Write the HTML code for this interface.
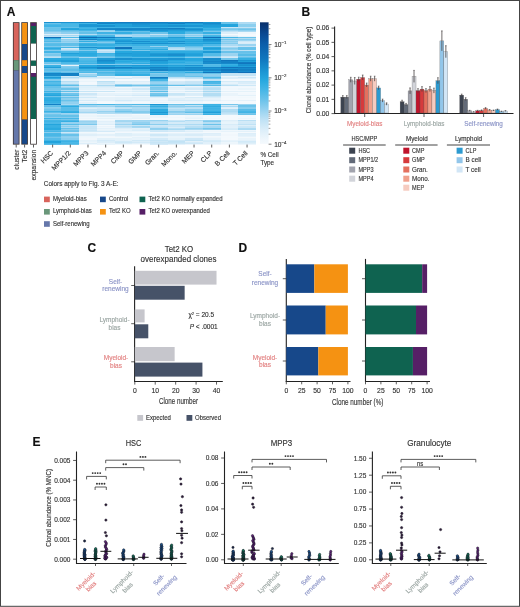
<!DOCTYPE html>
<html><head><meta charset="utf-8"><style>
html,body{margin:0;padding:0;background:#fff;}
body{width:520px;height:607px;overflow:hidden;}
svg{display:block;font-family:"Liberation Sans", sans-serif;will-change:transform;}
text{stroke-width:0.14px;}
</style></head><body>
<svg width="520" height="607" viewBox="0 0 520 607">
<rect x="0" y="0" width="520" height="607" fill="#fff"/>
<text x="6.8" y="16.2" font-size="12.0" text-anchor="start" fill="#111" font-weight="bold" stroke="#111" stroke-width="0.4">A</text>
<rect x="12.90" y="22.20" width="6.60" height="122.40" fill="#3b3333" />
<rect x="13.70" y="23.00" width="5.00" height="37.20" fill="#d8645c" />
<rect x="13.70" y="60.20" width="5.00" height="10.20" fill="#6a977a" />
<rect x="13.70" y="70.40" width="5.00" height="73.40" fill="#6577aa" />
<rect x="21.30" y="22.20" width="6.60" height="122.40" fill="#3b3333" />
<rect x="22.10" y="23.00" width="5.00" height="21.10" fill="#f59212" />
<rect x="22.10" y="44.10" width="5.00" height="16.10" fill="#17488a" />
<rect x="22.10" y="60.20" width="5.00" height="5.90" fill="#f59212" />
<rect x="22.10" y="66.10" width="5.00" height="6.90" fill="#17488a" />
<rect x="22.10" y="73.00" width="5.00" height="46.60" fill="#f59212" />
<rect x="22.10" y="119.60" width="5.00" height="24.20" fill="#17488a" />
<rect x="30.20" y="22.20" width="6.60" height="122.40" fill="#3b3333" />
<rect x="31.00" y="23.00" width="5.00" height="3.00" fill="#561f66" />
<rect x="31.00" y="26.00" width="5.00" height="17.60" fill="#0f6350" />
<rect x="31.00" y="43.60" width="5.00" height="17.10" fill="#ffffff" />
<rect x="31.00" y="60.70" width="5.00" height="5.20" fill="#0f6350" />
<rect x="31.00" y="65.90" width="5.00" height="7.10" fill="#ffffff" />
<rect x="31.00" y="73.00" width="5.00" height="3.80" fill="#561f66" />
<rect x="31.00" y="76.80" width="5.00" height="42.20" fill="#0f6350" />
<rect x="31.00" y="119.00" width="5.00" height="24.80" fill="#ffffff" />
<line x1="16.20" y1="144.60" x2="16.20" y2="147.50" stroke="#333333" stroke-width="0.8" />
<text transform="translate(18.6,149.6) rotate(-90)" font-size="6.8" text-anchor="end" fill="#333" stroke="#333">cluster</text>
<line x1="24.60" y1="144.60" x2="24.60" y2="147.50" stroke="#333333" stroke-width="0.8" />
<text transform="translate(27.0,149.6) rotate(-90)" font-size="6.8" text-anchor="end" fill="#333" stroke="#333">Tet2</text>
<line x1="33.50" y1="144.60" x2="33.50" y2="147.50" stroke="#333333" stroke-width="0.8" />
<text transform="translate(35.9,149.6) rotate(-90)" font-size="6.8" text-anchor="end" fill="#333" stroke="#333">expansion</text>
<g shape-rendering="crispEdges">
<rect x="43.80" y="22.30" width="17.73" height="1.05" fill="#1990cf" />
<rect x="61.47" y="22.30" width="17.73" height="1.05" fill="#1a93d1" />
<rect x="79.15" y="22.30" width="17.73" height="1.05" fill="#1586c8" />
<rect x="96.83" y="22.30" width="17.73" height="1.05" fill="#1689ca" />
<rect x="114.50" y="22.30" width="17.73" height="1.05" fill="#127cc2" />
<rect x="132.18" y="22.30" width="17.73" height="1.05" fill="#127cc2" />
<rect x="149.85" y="22.30" width="17.73" height="1.05" fill="#1482c6" />
<rect x="167.53" y="22.30" width="17.73" height="1.05" fill="#178bcc" />
<rect x="185.20" y="22.30" width="17.73" height="1.05" fill="#137ec3" />
<rect x="202.88" y="22.30" width="17.73" height="1.05" fill="#1a94d2" />
<rect x="220.55" y="22.30" width="17.73" height="1.05" fill="#68c2ea" />
<rect x="238.23" y="22.30" width="17.73" height="1.05" fill="#aedbf3" />
<rect x="43.80" y="23.30" width="17.73" height="1.05" fill="#6ac2ea" />
<rect x="61.47" y="23.30" width="17.73" height="1.05" fill="#45b5e6" />
<rect x="79.15" y="23.30" width="17.73" height="1.05" fill="#41b4e5" />
<rect x="96.83" y="23.30" width="17.73" height="1.05" fill="#1584c7" />
<rect x="114.50" y="23.30" width="17.73" height="1.05" fill="#1991d0" />
<rect x="132.18" y="23.30" width="17.73" height="1.05" fill="#178ccc" />
<rect x="149.85" y="23.30" width="17.73" height="1.05" fill="#188fce" />
<rect x="167.53" y="23.30" width="17.73" height="1.05" fill="#1380c5" />
<rect x="185.20" y="23.30" width="17.73" height="1.05" fill="#1d99d5" />
<rect x="202.88" y="23.30" width="17.73" height="1.05" fill="#178bcc" />
<rect x="220.55" y="23.30" width="17.73" height="1.05" fill="#6bc3ea" />
<rect x="238.23" y="23.30" width="17.73" height="1.05" fill="#b0dcf3" />
<rect x="43.80" y="24.30" width="17.73" height="1.05" fill="#4bb8e7" />
<rect x="61.47" y="24.30" width="17.73" height="1.05" fill="#48b7e6" />
<rect x="79.15" y="24.30" width="17.73" height="1.05" fill="#1d99d5" />
<rect x="96.83" y="24.30" width="17.73" height="1.05" fill="#27a8df" />
<rect x="114.50" y="24.30" width="17.73" height="1.05" fill="#22a2db" />
<rect x="132.18" y="24.30" width="17.73" height="1.05" fill="#1a94d2" />
<rect x="149.85" y="24.30" width="17.73" height="1.05" fill="#219fd9" />
<rect x="167.53" y="24.30" width="17.73" height="1.05" fill="#22a2db" />
<rect x="185.20" y="24.30" width="17.73" height="1.05" fill="#25a6de" />
<rect x="202.88" y="24.30" width="17.73" height="1.05" fill="#1b96d3" />
<rect x="220.55" y="24.30" width="17.73" height="1.05" fill="#24a5dd" />
<rect x="238.23" y="24.30" width="17.73" height="1.05" fill="#8ccfef" />
<rect x="43.80" y="25.30" width="17.73" height="1.55" fill="#3fb3e5" />
<rect x="61.47" y="25.30" width="17.73" height="1.55" fill="#48b7e6" />
<rect x="79.15" y="25.30" width="17.73" height="1.55" fill="#1c97d4" />
<rect x="96.83" y="25.30" width="17.73" height="1.55" fill="#1992d1" />
<rect x="114.50" y="25.30" width="17.73" height="1.55" fill="#219fd9" />
<rect x="132.18" y="25.30" width="17.73" height="1.55" fill="#1c98d5" />
<rect x="149.85" y="25.30" width="17.73" height="1.55" fill="#1c98d4" />
<rect x="167.53" y="25.30" width="17.73" height="1.55" fill="#1a93d1" />
<rect x="185.20" y="25.30" width="17.73" height="1.55" fill="#1b96d4" />
<rect x="202.88" y="25.30" width="17.73" height="1.55" fill="#209dd8" />
<rect x="220.55" y="25.30" width="17.73" height="1.55" fill="#24a4dd" />
<rect x="238.23" y="25.30" width="17.73" height="1.55" fill="#8ccfef" />
<rect x="43.80" y="26.80" width="17.73" height="1.05" fill="#6ec4ea" />
<rect x="61.47" y="26.80" width="17.73" height="1.05" fill="#63c0e9" />
<rect x="79.15" y="26.80" width="17.73" height="1.05" fill="#3bb1e4" />
<rect x="96.83" y="26.80" width="17.73" height="1.05" fill="#40b3e5" />
<rect x="114.50" y="26.80" width="17.73" height="1.05" fill="#3ab1e3" />
<rect x="132.18" y="26.80" width="17.73" height="1.05" fill="#3fb3e5" />
<rect x="149.85" y="26.80" width="17.73" height="1.05" fill="#2face1" />
<rect x="167.53" y="26.80" width="17.73" height="1.05" fill="#3cb1e4" />
<rect x="185.20" y="26.80" width="17.73" height="1.05" fill="#42b4e5" />
<rect x="202.88" y="26.80" width="17.73" height="1.05" fill="#25a7de" />
<rect x="220.55" y="26.80" width="17.73" height="1.05" fill="#cce7f7" />
<rect x="238.23" y="26.80" width="17.73" height="1.05" fill="#c3e3f5" />
<rect x="43.80" y="27.80" width="17.73" height="1.05" fill="#68c2ea" />
<rect x="61.47" y="27.80" width="17.73" height="1.05" fill="#25a6de" />
<rect x="79.15" y="27.80" width="17.73" height="1.05" fill="#42b4e5" />
<rect x="96.83" y="27.80" width="17.73" height="1.05" fill="#1689ca" />
<rect x="114.50" y="27.80" width="17.73" height="1.05" fill="#1687c9" />
<rect x="132.18" y="27.80" width="17.73" height="1.05" fill="#1586c9" />
<rect x="149.85" y="27.80" width="17.73" height="1.05" fill="#1483c6" />
<rect x="167.53" y="27.80" width="17.73" height="1.05" fill="#127dc3" />
<rect x="185.20" y="27.80" width="17.73" height="1.05" fill="#1f9cd7" />
<rect x="202.88" y="27.80" width="17.73" height="1.05" fill="#3db2e4" />
<rect x="220.55" y="27.80" width="17.73" height="1.05" fill="#87cdee" />
<rect x="238.23" y="27.80" width="17.73" height="1.05" fill="#84cbed" />
<rect x="43.80" y="28.80" width="17.73" height="1.55" fill="#6bc3ea" />
<rect x="61.47" y="28.80" width="17.73" height="1.55" fill="#24a4dc" />
<rect x="79.15" y="28.80" width="17.73" height="1.55" fill="#2dabe0" />
<rect x="96.83" y="28.80" width="17.73" height="1.55" fill="#1586c9" />
<rect x="114.50" y="28.80" width="17.73" height="1.55" fill="#1481c5" />
<rect x="132.18" y="28.80" width="17.73" height="1.55" fill="#1584c8" />
<rect x="149.85" y="28.80" width="17.73" height="1.55" fill="#1991d0" />
<rect x="167.53" y="28.80" width="17.73" height="1.55" fill="#1990cf" />
<rect x="185.20" y="28.80" width="17.73" height="1.55" fill="#188fcf" />
<rect x="202.88" y="28.80" width="17.73" height="1.55" fill="#32ade2" />
<rect x="220.55" y="28.80" width="17.73" height="1.55" fill="#7cc9ec" />
<rect x="238.23" y="28.80" width="17.73" height="1.55" fill="#6fc4ea" />
<rect x="43.80" y="30.30" width="17.73" height="1.05" fill="#66c1e9" />
<rect x="61.47" y="30.30" width="17.73" height="1.05" fill="#5ebee8" />
<rect x="79.15" y="30.30" width="17.73" height="1.05" fill="#46b6e6" />
<rect x="96.83" y="30.30" width="17.73" height="1.05" fill="#8aceee" />
<rect x="114.50" y="30.30" width="17.73" height="1.05" fill="#1e9ad6" />
<rect x="132.18" y="30.30" width="17.73" height="1.05" fill="#1e9bd6" />
<rect x="149.85" y="30.30" width="17.73" height="1.05" fill="#1a94d2" />
<rect x="167.53" y="30.30" width="17.73" height="1.05" fill="#219fd9" />
<rect x="185.20" y="30.30" width="17.73" height="1.05" fill="#209ed8" />
<rect x="202.88" y="30.30" width="17.73" height="1.05" fill="#4cb8e7" />
<rect x="220.55" y="30.30" width="17.73" height="1.05" fill="#9cd4f1" />
<rect x="238.23" y="30.30" width="17.73" height="1.05" fill="#8fcfef" />
<rect x="43.80" y="31.30" width="17.73" height="1.05" fill="#7fcaed" />
<rect x="61.47" y="31.30" width="17.73" height="1.05" fill="#76c7eb" />
<rect x="79.15" y="31.30" width="17.73" height="1.05" fill="#73c6eb" />
<rect x="96.83" y="31.30" width="17.73" height="1.05" fill="#a2d7f1" />
<rect x="114.50" y="31.30" width="17.73" height="1.05" fill="#64c0e9" />
<rect x="132.18" y="31.30" width="17.73" height="1.05" fill="#65c0e9" />
<rect x="149.85" y="31.30" width="17.73" height="1.05" fill="#24a4dc" />
<rect x="167.53" y="31.30" width="17.73" height="1.05" fill="#28a9df" />
<rect x="185.20" y="31.30" width="17.73" height="1.05" fill="#40b3e5" />
<rect x="202.88" y="31.30" width="17.73" height="1.05" fill="#7ac8ec" />
<rect x="220.55" y="31.30" width="17.73" height="1.05" fill="#c0e2f5" />
<rect x="238.23" y="31.30" width="17.73" height="1.05" fill="#abdaf2" />
<rect x="43.80" y="32.30" width="17.73" height="1.55" fill="#a2d6f1" />
<rect x="61.47" y="32.30" width="17.73" height="1.55" fill="#8ecfef" />
<rect x="79.15" y="32.30" width="17.73" height="1.55" fill="#65c1e9" />
<rect x="96.83" y="32.30" width="17.73" height="1.55" fill="#40b3e5" />
<rect x="114.50" y="32.30" width="17.73" height="1.55" fill="#35aee2" />
<rect x="132.18" y="32.30" width="17.73" height="1.55" fill="#53bae7" />
<rect x="149.85" y="32.30" width="17.73" height="1.55" fill="#6fc4ea" />
<rect x="167.53" y="32.30" width="17.73" height="1.55" fill="#2dabe0" />
<rect x="185.20" y="32.30" width="17.73" height="1.55" fill="#58bce8" />
<rect x="202.88" y="32.30" width="17.73" height="1.55" fill="#38b0e3" />
<rect x="220.55" y="32.30" width="17.73" height="1.55" fill="#dceef9" />
<rect x="238.23" y="32.30" width="17.73" height="1.55" fill="#eef6fc" />
<rect x="43.80" y="33.80" width="17.73" height="1.05" fill="#dceef9" />
<rect x="61.47" y="33.80" width="17.73" height="1.05" fill="#d8ecf8" />
<rect x="79.15" y="33.80" width="17.73" height="1.05" fill="#b1dcf3" />
<rect x="96.83" y="33.80" width="17.73" height="1.05" fill="#7ec9ed" />
<rect x="114.50" y="33.80" width="17.73" height="1.05" fill="#8ecfef" />
<rect x="132.18" y="33.80" width="17.73" height="1.05" fill="#a1d6f1" />
<rect x="149.85" y="33.80" width="17.73" height="1.05" fill="#c2e3f5" />
<rect x="167.53" y="33.80" width="17.73" height="1.05" fill="#89cdee" />
<rect x="185.20" y="33.80" width="17.73" height="1.05" fill="#a8d9f2" />
<rect x="202.88" y="33.80" width="17.73" height="1.05" fill="#8aceee" />
<rect x="220.55" y="33.80" width="17.73" height="1.05" fill="#f4f9fd" />
<rect x="238.23" y="33.80" width="17.73" height="1.05" fill="#f4f9fd" />
<rect x="43.80" y="34.80" width="17.73" height="1.55" fill="#aedbf3" />
<rect x="61.47" y="34.80" width="17.73" height="1.55" fill="#a5d8f2" />
<rect x="79.15" y="34.80" width="17.73" height="1.55" fill="#5bbde8" />
<rect x="96.83" y="34.80" width="17.73" height="1.55" fill="#4eb9e7" />
<rect x="114.50" y="34.80" width="17.73" height="1.55" fill="#b5def4" />
<rect x="132.18" y="34.80" width="17.73" height="1.55" fill="#9cd4f1" />
<rect x="149.85" y="34.80" width="17.73" height="1.55" fill="#85ccee" />
<rect x="167.53" y="34.80" width="17.73" height="1.55" fill="#69c2ea" />
<rect x="185.20" y="34.80" width="17.73" height="1.55" fill="#89cdee" />
<rect x="202.88" y="34.80" width="17.73" height="1.55" fill="#48b7e6" />
<rect x="220.55" y="34.80" width="17.73" height="1.55" fill="#e2f1fa" />
<rect x="238.23" y="34.80" width="17.73" height="1.55" fill="#f4f9fd" />
<rect x="43.80" y="36.30" width="17.73" height="1.05" fill="#bce0f4" />
<rect x="61.47" y="36.30" width="17.73" height="1.05" fill="#c9e6f6" />
<rect x="79.15" y="36.30" width="17.73" height="1.05" fill="#24a5dd" />
<rect x="96.83" y="36.30" width="17.73" height="1.05" fill="#44b5e6" />
<rect x="114.50" y="36.30" width="17.73" height="1.05" fill="#a6d8f2" />
<rect x="132.18" y="36.30" width="17.73" height="1.05" fill="#a6d8f2" />
<rect x="149.85" y="36.30" width="17.73" height="1.05" fill="#8fd0ef" />
<rect x="167.53" y="36.30" width="17.73" height="1.05" fill="#69c2ea" />
<rect x="185.20" y="36.30" width="17.73" height="1.05" fill="#a2d7f1" />
<rect x="202.88" y="36.30" width="17.73" height="1.05" fill="#3db2e4" />
<rect x="220.55" y="36.30" width="17.73" height="1.05" fill="#d6ebf8" />
<rect x="238.23" y="36.30" width="17.73" height="1.05" fill="#eaf4fb" />
<rect x="43.80" y="37.30" width="17.73" height="1.05" fill="#0f6eb7" />
<rect x="61.47" y="37.30" width="17.73" height="1.05" fill="#4fb9e7" />
<rect x="79.15" y="37.30" width="17.73" height="1.05" fill="#0e6cb5" />
<rect x="96.83" y="37.30" width="17.73" height="1.05" fill="#117ac0" />
<rect x="114.50" y="37.30" width="17.73" height="1.05" fill="#1990cf" />
<rect x="132.18" y="37.30" width="17.73" height="1.05" fill="#4ab7e6" />
<rect x="149.85" y="37.30" width="17.73" height="1.05" fill="#3fb3e4" />
<rect x="167.53" y="37.30" width="17.73" height="1.05" fill="#209ed8" />
<rect x="185.20" y="37.30" width="17.73" height="1.05" fill="#38b0e3" />
<rect x="202.88" y="37.30" width="17.73" height="1.05" fill="#0f70b9" />
<rect x="220.55" y="37.30" width="17.73" height="1.05" fill="#47b6e6" />
<rect x="238.23" y="37.30" width="17.73" height="1.05" fill="#6bc3ea" />
<rect x="43.80" y="38.30" width="17.73" height="1.05" fill="#32ade2" />
<rect x="61.47" y="38.30" width="17.73" height="1.05" fill="#d5ebf8" />
<rect x="79.15" y="38.30" width="17.73" height="1.05" fill="#24a5dd" />
<rect x="96.83" y="38.30" width="17.73" height="1.05" fill="#2face1" />
<rect x="114.50" y="38.30" width="17.73" height="1.05" fill="#42b4e5" />
<rect x="132.18" y="38.30" width="17.73" height="1.05" fill="#38b0e3" />
<rect x="149.85" y="38.30" width="17.73" height="1.05" fill="#35afe2" />
<rect x="167.53" y="38.30" width="17.73" height="1.05" fill="#33aee2" />
<rect x="185.20" y="38.30" width="17.73" height="1.05" fill="#5ebee8" />
<rect x="202.88" y="38.30" width="17.73" height="1.05" fill="#2cabe0" />
<rect x="220.55" y="38.30" width="17.73" height="1.05" fill="#b2ddf3" />
<rect x="238.23" y="38.30" width="17.73" height="1.05" fill="#afdcf3" />
<rect x="43.80" y="39.30" width="17.73" height="1.05" fill="#5bbde8" />
<rect x="61.47" y="39.30" width="17.73" height="1.05" fill="#92d0ef" />
<rect x="79.15" y="39.30" width="17.73" height="1.05" fill="#1481c6" />
<rect x="96.83" y="39.30" width="17.73" height="1.05" fill="#1b96d4" />
<rect x="114.50" y="39.30" width="17.73" height="1.05" fill="#28a9e0" />
<rect x="132.18" y="39.30" width="17.73" height="1.05" fill="#23a4dc" />
<rect x="149.85" y="39.30" width="17.73" height="1.05" fill="#21a0da" />
<rect x="167.53" y="39.30" width="17.73" height="1.05" fill="#31ade2" />
<rect x="185.20" y="39.30" width="17.73" height="1.05" fill="#27a9df" />
<rect x="202.88" y="39.30" width="17.73" height="1.05" fill="#178acc" />
<rect x="220.55" y="39.30" width="17.73" height="1.05" fill="#72c5eb" />
<rect x="238.23" y="39.30" width="17.73" height="1.05" fill="#86ccee" />
<rect x="43.80" y="40.30" width="17.73" height="1.05" fill="#68c2ea" />
<rect x="61.47" y="40.30" width="17.73" height="1.05" fill="#9ed5f1" />
<rect x="79.15" y="40.30" width="17.73" height="1.05" fill="#71c5eb" />
<rect x="96.83" y="40.30" width="17.73" height="1.05" fill="#2eabe1" />
<rect x="114.50" y="40.30" width="17.73" height="1.05" fill="#1f9dd8" />
<rect x="132.18" y="40.30" width="17.73" height="1.05" fill="#32ade2" />
<rect x="149.85" y="40.30" width="17.73" height="1.05" fill="#31ade1" />
<rect x="167.53" y="40.30" width="17.73" height="1.05" fill="#2face1" />
<rect x="185.20" y="40.30" width="17.73" height="1.05" fill="#31ade1" />
<rect x="202.88" y="40.30" width="17.73" height="1.05" fill="#1b95d3" />
<rect x="220.55" y="40.30" width="17.73" height="1.05" fill="#9cd4f1" />
<rect x="238.23" y="40.30" width="17.73" height="1.05" fill="#9dd5f1" />
<rect x="43.80" y="41.30" width="17.73" height="1.05" fill="#4fb9e7" />
<rect x="61.47" y="41.30" width="17.73" height="1.05" fill="#8aceee" />
<rect x="79.15" y="41.30" width="17.73" height="1.05" fill="#34aee2" />
<rect x="96.83" y="41.30" width="17.73" height="1.05" fill="#5fbfe9" />
<rect x="114.50" y="41.30" width="17.73" height="1.05" fill="#1a94d2" />
<rect x="132.18" y="41.30" width="17.73" height="1.05" fill="#188ece" />
<rect x="149.85" y="41.30" width="17.73" height="1.05" fill="#1f9cd7" />
<rect x="167.53" y="41.30" width="17.73" height="1.05" fill="#1992d1" />
<rect x="185.20" y="41.30" width="17.73" height="1.05" fill="#24a5dd" />
<rect x="202.88" y="41.30" width="17.73" height="1.05" fill="#1f9dd8" />
<rect x="220.55" y="41.30" width="17.73" height="1.05" fill="#88cdee" />
<rect x="238.23" y="41.30" width="17.73" height="1.05" fill="#cde8f7" />
<rect x="43.80" y="42.30" width="17.73" height="1.05" fill="#85ccee" />
<rect x="61.47" y="42.30" width="17.73" height="1.05" fill="#9bd4f1" />
<rect x="79.15" y="42.30" width="17.73" height="1.05" fill="#8bceee" />
<rect x="96.83" y="42.30" width="17.73" height="1.05" fill="#84cbed" />
<rect x="114.50" y="42.30" width="17.73" height="1.05" fill="#33aee2" />
<rect x="132.18" y="42.30" width="17.73" height="1.05" fill="#2cabe0" />
<rect x="149.85" y="42.30" width="17.73" height="1.05" fill="#27a8df" />
<rect x="167.53" y="42.30" width="17.73" height="1.05" fill="#3cb1e4" />
<rect x="185.20" y="42.30" width="17.73" height="1.05" fill="#38b0e3" />
<rect x="202.88" y="42.30" width="17.73" height="1.05" fill="#32ade2" />
<rect x="220.55" y="42.30" width="17.73" height="1.05" fill="#9cd4f1" />
<rect x="238.23" y="42.30" width="17.73" height="1.05" fill="#dceef9" />
<rect x="43.80" y="43.30" width="17.73" height="1.05" fill="#5dbee8" />
<rect x="61.47" y="43.30" width="17.73" height="1.05" fill="#61bfe9" />
<rect x="79.15" y="43.30" width="17.73" height="1.05" fill="#3bb1e4" />
<rect x="96.83" y="43.30" width="17.73" height="1.05" fill="#53bae7" />
<rect x="114.50" y="43.30" width="17.73" height="1.05" fill="#1e9bd6" />
<rect x="132.18" y="43.30" width="17.73" height="1.05" fill="#1992d1" />
<rect x="149.85" y="43.30" width="17.73" height="1.05" fill="#188fcf" />
<rect x="167.53" y="43.30" width="17.73" height="1.05" fill="#1991d0" />
<rect x="185.20" y="43.30" width="17.73" height="1.05" fill="#23a4dc" />
<rect x="202.88" y="43.30" width="17.73" height="1.05" fill="#209fd9" />
<rect x="220.55" y="43.30" width="17.73" height="1.05" fill="#82cbed" />
<rect x="238.23" y="43.30" width="17.73" height="1.05" fill="#d7ecf8" />
<rect x="43.80" y="44.30" width="17.73" height="1.55" fill="#56bce8" />
<rect x="61.47" y="44.30" width="17.73" height="1.55" fill="#62c0e9" />
<rect x="79.15" y="44.30" width="17.73" height="1.55" fill="#31ade1" />
<rect x="96.83" y="44.30" width="17.73" height="1.55" fill="#35afe2" />
<rect x="114.50" y="44.30" width="17.73" height="1.55" fill="#3fb3e4" />
<rect x="132.18" y="44.30" width="17.73" height="1.55" fill="#39b0e3" />
<rect x="149.85" y="44.30" width="17.73" height="1.55" fill="#3eb3e4" />
<rect x="167.53" y="44.30" width="17.73" height="1.55" fill="#3eb3e4" />
<rect x="185.20" y="44.30" width="17.73" height="1.55" fill="#36afe3" />
<rect x="202.88" y="44.30" width="17.73" height="1.55" fill="#4db8e7" />
<rect x="220.55" y="44.30" width="17.73" height="1.55" fill="#abdaf3" />
<rect x="238.23" y="44.30" width="17.73" height="1.55" fill="#9bd4f1" />
<rect x="43.80" y="45.80" width="17.73" height="1.05" fill="#7dc9ec" />
<rect x="61.47" y="45.80" width="17.73" height="1.05" fill="#a0d6f1" />
<rect x="79.15" y="45.80" width="17.73" height="1.05" fill="#51bae7" />
<rect x="96.83" y="45.80" width="17.73" height="1.05" fill="#4bb8e7" />
<rect x="114.50" y="45.80" width="17.73" height="1.05" fill="#60bfe9" />
<rect x="132.18" y="45.80" width="17.73" height="1.05" fill="#54bbe8" />
<rect x="149.85" y="45.80" width="17.73" height="1.05" fill="#93d1f0" />
<rect x="167.53" y="45.80" width="17.73" height="1.05" fill="#4bb8e7" />
<rect x="185.20" y="45.80" width="17.73" height="1.05" fill="#63c0e9" />
<rect x="202.88" y="45.80" width="17.73" height="1.05" fill="#77c7ec" />
<rect x="220.55" y="45.80" width="17.73" height="1.05" fill="#cde7f7" />
<rect x="238.23" y="45.80" width="17.73" height="1.05" fill="#c5e4f6" />
<rect x="43.80" y="46.80" width="17.73" height="1.05" fill="#45b5e6" />
<rect x="61.47" y="46.80" width="17.73" height="1.05" fill="#46b6e6" />
<rect x="79.15" y="46.80" width="17.73" height="1.05" fill="#1991d0" />
<rect x="96.83" y="46.80" width="17.73" height="1.05" fill="#22a2db" />
<rect x="114.50" y="46.80" width="17.73" height="1.05" fill="#1075bd" />
<rect x="132.18" y="46.80" width="17.73" height="1.05" fill="#4db8e7" />
<rect x="149.85" y="46.80" width="17.73" height="1.05" fill="#4db8e7" />
<rect x="167.53" y="46.80" width="17.73" height="1.05" fill="#a8d9f2" />
<rect x="185.20" y="46.80" width="17.73" height="1.05" fill="#7ecaed" />
<rect x="202.88" y="46.80" width="17.73" height="1.05" fill="#2aaae0" />
<rect x="220.55" y="46.80" width="17.73" height="1.05" fill="#a1d6f1" />
<rect x="238.23" y="46.80" width="17.73" height="1.05" fill="#6ac2ea" />
<rect x="43.80" y="47.80" width="17.73" height="1.55" fill="#2dabe1" />
<rect x="61.47" y="47.80" width="17.73" height="1.55" fill="#d2eaf8" />
<rect x="79.15" y="47.80" width="17.73" height="1.55" fill="#46b6e6" />
<rect x="96.83" y="47.80" width="17.73" height="1.55" fill="#209ed9" />
<rect x="114.50" y="47.80" width="17.73" height="1.55" fill="#0f73bb" />
<rect x="132.18" y="47.80" width="17.73" height="1.55" fill="#55bbe8" />
<rect x="149.85" y="47.80" width="17.73" height="1.55" fill="#56bbe8" />
<rect x="167.53" y="47.80" width="17.73" height="1.55" fill="#b7dff4" />
<rect x="185.20" y="47.80" width="17.73" height="1.55" fill="#91d0ef" />
<rect x="202.88" y="47.80" width="17.73" height="1.55" fill="#219fd9" />
<rect x="220.55" y="47.80" width="17.73" height="1.55" fill="#81cbed" />
<rect x="238.23" y="47.80" width="17.73" height="1.55" fill="#67c1ea" />
<rect x="43.80" y="49.30" width="17.73" height="1.05" fill="#49b7e6" />
<rect x="61.47" y="49.30" width="17.73" height="1.05" fill="#c2e3f5" />
<rect x="79.15" y="49.30" width="17.73" height="1.05" fill="#47b6e6" />
<rect x="96.83" y="49.30" width="17.73" height="1.05" fill="#aad9f2" />
<rect x="114.50" y="49.30" width="17.73" height="1.05" fill="#3bb1e3" />
<rect x="132.18" y="49.30" width="17.73" height="1.05" fill="#39b0e3" />
<rect x="149.85" y="49.30" width="17.73" height="1.05" fill="#2eace1" />
<rect x="167.53" y="49.30" width="17.73" height="1.05" fill="#c2e3f5" />
<rect x="185.20" y="49.30" width="17.73" height="1.05" fill="#93d1f0" />
<rect x="202.88" y="49.30" width="17.73" height="1.05" fill="#28a9e0" />
<rect x="220.55" y="49.30" width="17.73" height="1.05" fill="#91d0ef" />
<rect x="238.23" y="49.30" width="17.73" height="1.05" fill="#69c2ea" />
<rect x="43.80" y="50.30" width="17.73" height="1.05" fill="#86ccee" />
<rect x="61.47" y="50.30" width="17.73" height="1.05" fill="#a3d7f2" />
<rect x="79.15" y="50.30" width="17.73" height="1.05" fill="#81cbed" />
<rect x="96.83" y="50.30" width="17.73" height="1.05" fill="#d2eaf8" />
<rect x="114.50" y="50.30" width="17.73" height="1.05" fill="#5fbfe9" />
<rect x="132.18" y="50.30" width="17.73" height="1.05" fill="#7cc9ec" />
<rect x="149.85" y="50.30" width="17.73" height="1.05" fill="#57bce8" />
<rect x="167.53" y="50.30" width="17.73" height="1.05" fill="#53bae7" />
<rect x="185.20" y="50.30" width="17.73" height="1.05" fill="#57bce8" />
<rect x="202.88" y="50.30" width="17.73" height="1.05" fill="#54bbe7" />
<rect x="220.55" y="50.30" width="17.73" height="1.05" fill="#aedbf3" />
<rect x="238.23" y="50.30" width="17.73" height="1.05" fill="#bee1f5" />
<rect x="43.80" y="51.30" width="17.73" height="1.55" fill="#44b5e6" />
<rect x="61.47" y="51.30" width="17.73" height="1.55" fill="#50b9e7" />
<rect x="79.15" y="51.30" width="17.73" height="1.55" fill="#38b0e3" />
<rect x="96.83" y="51.30" width="17.73" height="1.55" fill="#b9dff4" />
<rect x="114.50" y="51.30" width="17.73" height="1.55" fill="#26a8df" />
<rect x="132.18" y="51.30" width="17.73" height="1.55" fill="#24a4dc" />
<rect x="149.85" y="51.30" width="17.73" height="1.55" fill="#30ace1" />
<rect x="167.53" y="51.30" width="17.73" height="1.55" fill="#2eace1" />
<rect x="185.20" y="51.30" width="17.73" height="1.55" fill="#30ace1" />
<rect x="202.88" y="51.30" width="17.73" height="1.55" fill="#1e9bd6" />
<rect x="220.55" y="51.30" width="17.73" height="1.55" fill="#6ac2ea" />
<rect x="238.23" y="51.30" width="17.73" height="1.55" fill="#67c1ea" />
<rect x="43.80" y="52.80" width="17.73" height="1.55" fill="#88cdee" />
<rect x="61.47" y="52.80" width="17.73" height="1.55" fill="#21a0da" />
<rect x="79.15" y="52.80" width="17.73" height="1.55" fill="#29a9e0" />
<rect x="96.83" y="52.80" width="17.73" height="1.55" fill="#3db2e4" />
<rect x="114.50" y="52.80" width="17.73" height="1.55" fill="#1e9bd6" />
<rect x="132.18" y="52.80" width="17.73" height="1.55" fill="#22a1db" />
<rect x="149.85" y="52.80" width="17.73" height="1.55" fill="#1f9cd7" />
<rect x="167.53" y="52.80" width="17.73" height="1.55" fill="#1d99d5" />
<rect x="185.20" y="52.80" width="17.73" height="1.55" fill="#24a4dd" />
<rect x="202.88" y="52.80" width="17.73" height="1.55" fill="#54bbe8" />
<rect x="220.55" y="52.80" width="17.73" height="1.55" fill="#9bd4f1" />
<rect x="238.23" y="52.80" width="17.73" height="1.55" fill="#6ec4ea" />
<rect x="43.80" y="54.30" width="17.73" height="1.55" fill="#7ac8ec" />
<rect x="61.47" y="54.30" width="17.73" height="1.55" fill="#30ace1" />
<rect x="79.15" y="54.30" width="17.73" height="1.55" fill="#2baae0" />
<rect x="96.83" y="54.30" width="17.73" height="1.55" fill="#46b6e6" />
<rect x="114.50" y="54.30" width="17.73" height="1.55" fill="#22a1da" />
<rect x="132.18" y="54.30" width="17.73" height="1.55" fill="#21a0da" />
<rect x="149.85" y="54.30" width="17.73" height="1.55" fill="#1a95d2" />
<rect x="167.53" y="54.30" width="17.73" height="1.55" fill="#188ece" />
<rect x="185.20" y="54.30" width="17.73" height="1.55" fill="#21a0da" />
<rect x="202.88" y="54.30" width="17.73" height="1.55" fill="#54bbe7" />
<rect x="220.55" y="54.30" width="17.73" height="1.55" fill="#9ad3f0" />
<rect x="238.23" y="54.30" width="17.73" height="1.55" fill="#56bbe8" />
<rect x="43.80" y="55.80" width="17.73" height="1.05" fill="#aadaf2" />
<rect x="61.47" y="55.80" width="17.73" height="1.05" fill="#5abde8" />
<rect x="79.15" y="55.80" width="17.73" height="1.05" fill="#44b5e5" />
<rect x="96.83" y="55.80" width="17.73" height="1.05" fill="#69c2ea" />
<rect x="114.50" y="55.80" width="17.73" height="1.05" fill="#35aee2" />
<rect x="132.18" y="55.80" width="17.73" height="1.05" fill="#25a7de" />
<rect x="149.85" y="55.80" width="17.73" height="1.05" fill="#27a8df" />
<rect x="167.53" y="55.80" width="17.73" height="1.05" fill="#25a6de" />
<rect x="185.20" y="55.80" width="17.73" height="1.05" fill="#44b5e6" />
<rect x="202.88" y="55.80" width="17.73" height="1.05" fill="#89cdee" />
<rect x="220.55" y="55.80" width="17.73" height="1.05" fill="#c6e5f6" />
<rect x="238.23" y="55.80" width="17.73" height="1.05" fill="#80caed" />
<rect x="43.80" y="56.80" width="17.73" height="1.55" fill="#bbe0f4" />
<rect x="61.47" y="56.80" width="17.73" height="1.55" fill="#6dc3ea" />
<rect x="79.15" y="56.80" width="17.73" height="1.55" fill="#acdaf3" />
<rect x="96.83" y="56.80" width="17.73" height="1.55" fill="#7cc9ec" />
<rect x="114.50" y="56.80" width="17.73" height="1.55" fill="#4fb9e7" />
<rect x="132.18" y="56.80" width="17.73" height="1.55" fill="#55bbe8" />
<rect x="149.85" y="56.80" width="17.73" height="1.55" fill="#60bfe9" />
<rect x="167.53" y="56.80" width="17.73" height="1.55" fill="#54bbe7" />
<rect x="185.20" y="56.80" width="17.73" height="1.55" fill="#7dc9ec" />
<rect x="202.88" y="56.80" width="17.73" height="1.55" fill="#9fd5f1" />
<rect x="220.55" y="56.80" width="17.73" height="1.55" fill="#d3eaf8" />
<rect x="238.23" y="56.80" width="17.73" height="1.55" fill="#5dbee8" />
<rect x="43.80" y="58.30" width="17.73" height="1.55" fill="#2eabe1" />
<rect x="61.47" y="58.30" width="17.73" height="1.55" fill="#2dabe1" />
<rect x="79.15" y="58.30" width="17.73" height="1.55" fill="#53bae7" />
<rect x="96.83" y="58.30" width="17.73" height="1.55" fill="#1e9bd6" />
<rect x="114.50" y="58.30" width="17.73" height="1.55" fill="#1990cf" />
<rect x="132.18" y="58.30" width="17.73" height="1.55" fill="#1c98d4" />
<rect x="149.85" y="58.30" width="17.73" height="1.55" fill="#1d99d5" />
<rect x="167.53" y="58.30" width="17.73" height="1.55" fill="#1a93d2" />
<rect x="185.20" y="58.30" width="17.73" height="1.55" fill="#25a6de" />
<rect x="202.88" y="58.30" width="17.73" height="1.55" fill="#188dcd" />
<rect x="220.55" y="58.30" width="17.73" height="1.55" fill="#71c5eb" />
<rect x="238.23" y="58.30" width="17.73" height="1.55" fill="#34aee2" />
<rect x="43.80" y="59.80" width="17.73" height="1.05" fill="#24a5dd" />
<rect x="61.47" y="59.80" width="17.73" height="1.05" fill="#22a1db" />
<rect x="79.15" y="59.80" width="17.73" height="1.05" fill="#4bb8e6" />
<rect x="96.83" y="59.80" width="17.73" height="1.05" fill="#178bcc" />
<rect x="114.50" y="59.80" width="17.73" height="1.05" fill="#31ade1" />
<rect x="132.18" y="59.80" width="17.73" height="1.05" fill="#26a8df" />
<rect x="149.85" y="59.80" width="17.73" height="1.05" fill="#188dcd" />
<rect x="167.53" y="59.80" width="17.73" height="1.05" fill="#26a8df" />
<rect x="185.20" y="59.80" width="17.73" height="1.05" fill="#26a7df" />
<rect x="202.88" y="59.80" width="17.73" height="1.05" fill="#1990cf" />
<rect x="220.55" y="59.80" width="17.73" height="1.05" fill="#1075bd" />
<rect x="238.23" y="59.80" width="17.73" height="1.05" fill="#1a94d2" />
<rect x="43.80" y="60.80" width="17.73" height="1.05" fill="#28a9df" />
<rect x="61.47" y="60.80" width="17.73" height="1.05" fill="#219fd9" />
<rect x="79.15" y="60.80" width="17.73" height="1.05" fill="#43b5e5" />
<rect x="96.83" y="60.80" width="17.73" height="1.05" fill="#1a94d2" />
<rect x="114.50" y="60.80" width="17.73" height="1.05" fill="#27a8df" />
<rect x="132.18" y="60.80" width="17.73" height="1.05" fill="#2dabe0" />
<rect x="149.85" y="60.80" width="17.73" height="1.05" fill="#219fd9" />
<rect x="167.53" y="60.80" width="17.73" height="1.05" fill="#34aee2" />
<rect x="185.20" y="60.80" width="17.73" height="1.05" fill="#37afe3" />
<rect x="202.88" y="60.80" width="17.73" height="1.05" fill="#1584c8" />
<rect x="220.55" y="60.80" width="17.73" height="1.05" fill="#1481c6" />
<rect x="238.23" y="60.80" width="17.73" height="1.05" fill="#21a0da" />
<rect x="43.80" y="61.80" width="17.73" height="1.05" fill="#74c6eb" />
<rect x="61.47" y="61.80" width="17.73" height="1.05" fill="#4bb8e6" />
<rect x="79.15" y="61.80" width="17.73" height="1.05" fill="#4eb9e7" />
<rect x="96.83" y="61.80" width="17.73" height="1.05" fill="#1f9cd7" />
<rect x="114.50" y="61.80" width="17.73" height="1.05" fill="#35aee2" />
<rect x="132.18" y="61.80" width="17.73" height="1.05" fill="#45b6e6" />
<rect x="149.85" y="61.80" width="17.73" height="1.05" fill="#21a0da" />
<rect x="167.53" y="61.80" width="17.73" height="1.05" fill="#29a9e0" />
<rect x="185.20" y="61.80" width="17.73" height="1.05" fill="#41b4e5" />
<rect x="202.88" y="61.80" width="17.73" height="1.05" fill="#188dcd" />
<rect x="220.55" y="61.80" width="17.73" height="1.05" fill="#1380c5" />
<rect x="238.23" y="61.80" width="17.73" height="1.05" fill="#127dc3" />
<rect x="43.80" y="62.80" width="17.73" height="1.05" fill="#6fc4ea" />
<rect x="61.47" y="62.80" width="17.73" height="1.05" fill="#50b9e7" />
<rect x="79.15" y="62.80" width="17.73" height="1.05" fill="#40b3e5" />
<rect x="96.83" y="62.80" width="17.73" height="1.05" fill="#21a0da" />
<rect x="114.50" y="62.80" width="17.73" height="1.05" fill="#45b5e6" />
<rect x="132.18" y="62.80" width="17.73" height="1.05" fill="#2eabe1" />
<rect x="149.85" y="62.80" width="17.73" height="1.05" fill="#24a5dd" />
<rect x="167.53" y="62.80" width="17.73" height="1.05" fill="#3eb2e4" />
<rect x="185.20" y="62.80" width="17.73" height="1.05" fill="#3ab1e3" />
<rect x="202.88" y="62.80" width="17.73" height="1.05" fill="#178bcc" />
<rect x="220.55" y="62.80" width="17.73" height="1.05" fill="#1689cb" />
<rect x="238.23" y="62.80" width="17.73" height="1.05" fill="#1076be" />
<rect x="43.80" y="63.80" width="17.73" height="1.55" fill="#afdbf3" />
<rect x="61.47" y="63.80" width="17.73" height="1.55" fill="#7cc9ec" />
<rect x="79.15" y="63.80" width="17.73" height="1.55" fill="#84cced" />
<rect x="96.83" y="63.80" width="17.73" height="1.55" fill="#85ccee" />
<rect x="114.50" y="63.80" width="17.73" height="1.55" fill="#7fcaed" />
<rect x="132.18" y="63.80" width="17.73" height="1.55" fill="#81caed" />
<rect x="149.85" y="63.80" width="17.73" height="1.55" fill="#4ab7e6" />
<rect x="167.53" y="63.80" width="17.73" height="1.55" fill="#4eb9e7" />
<rect x="185.20" y="63.80" width="17.73" height="1.55" fill="#53bbe7" />
<rect x="202.88" y="63.80" width="17.73" height="1.55" fill="#59bce8" />
<rect x="220.55" y="63.80" width="17.73" height="1.55" fill="#38b0e3" />
<rect x="238.23" y="63.80" width="17.73" height="1.55" fill="#1a94d2" />
<rect x="43.80" y="65.30" width="17.73" height="1.05" fill="#3cb2e4" />
<rect x="61.47" y="65.30" width="17.73" height="1.05" fill="#e7f3fb" />
<rect x="79.15" y="65.30" width="17.73" height="1.05" fill="#26a7df" />
<rect x="96.83" y="65.30" width="17.73" height="1.05" fill="#1a95d2" />
<rect x="114.50" y="65.30" width="17.73" height="1.05" fill="#209dd8" />
<rect x="132.18" y="65.30" width="17.73" height="1.05" fill="#1d99d5" />
<rect x="149.85" y="65.30" width="17.73" height="1.05" fill="#1e9bd7" />
<rect x="167.53" y="65.30" width="17.73" height="1.05" fill="#22a1da" />
<rect x="185.20" y="65.30" width="17.73" height="1.05" fill="#1a94d2" />
<rect x="202.88" y="65.30" width="17.73" height="1.05" fill="#50b9e7" />
<rect x="220.55" y="65.30" width="17.73" height="1.05" fill="#2dabe0" />
<rect x="238.23" y="65.30" width="17.73" height="1.05" fill="#188fce" />
<rect x="43.80" y="66.30" width="17.73" height="1.05" fill="#38b0e3" />
<rect x="61.47" y="66.30" width="17.73" height="1.05" fill="#83cbed" />
<rect x="79.15" y="66.30" width="17.73" height="1.05" fill="#25a6de" />
<rect x="96.83" y="66.30" width="17.73" height="1.05" fill="#22a2db" />
<rect x="114.50" y="66.30" width="17.73" height="1.05" fill="#31ade1" />
<rect x="132.18" y="66.30" width="17.73" height="1.05" fill="#26a8df" />
<rect x="149.85" y="66.30" width="17.73" height="1.05" fill="#24a5dd" />
<rect x="167.53" y="66.30" width="17.73" height="1.05" fill="#2dabe0" />
<rect x="185.20" y="66.30" width="17.73" height="1.05" fill="#31ade1" />
<rect x="202.88" y="66.30" width="17.73" height="1.05" fill="#4eb9e7" />
<rect x="220.55" y="66.30" width="17.73" height="1.05" fill="#25a7de" />
<rect x="238.23" y="66.30" width="17.73" height="1.05" fill="#21a0da" />
<rect x="43.80" y="67.30" width="17.73" height="1.05" fill="#1f9dd8" />
<rect x="61.47" y="67.30" width="17.73" height="1.05" fill="#78c7ec" />
<rect x="79.15" y="67.30" width="17.73" height="1.05" fill="#1990cf" />
<rect x="96.83" y="67.30" width="17.73" height="1.05" fill="#1481c5" />
<rect x="114.50" y="67.30" width="17.73" height="1.05" fill="#1481c6" />
<rect x="132.18" y="67.30" width="17.73" height="1.05" fill="#188fcf" />
<rect x="149.85" y="67.30" width="17.73" height="1.05" fill="#1481c5" />
<rect x="167.53" y="67.30" width="17.73" height="1.05" fill="#188fce" />
<rect x="185.20" y="67.30" width="17.73" height="1.05" fill="#1687c9" />
<rect x="202.88" y="67.30" width="17.73" height="1.05" fill="#1585c8" />
<rect x="220.55" y="67.30" width="17.73" height="1.05" fill="#1073bc" />
<rect x="238.23" y="67.30" width="17.73" height="1.05" fill="#127cc2" />
<rect x="43.80" y="68.30" width="17.73" height="1.05" fill="#69c2ea" />
<rect x="61.47" y="68.30" width="17.73" height="1.05" fill="#6fc4ea" />
<rect x="79.15" y="68.30" width="17.73" height="1.05" fill="#21a0da" />
<rect x="96.83" y="68.30" width="17.73" height="1.05" fill="#1687ca" />
<rect x="114.50" y="68.30" width="17.73" height="1.05" fill="#1a94d2" />
<rect x="132.18" y="68.30" width="17.73" height="1.05" fill="#1992d0" />
<rect x="149.85" y="68.30" width="17.73" height="1.05" fill="#188fce" />
<rect x="167.53" y="68.30" width="17.73" height="1.05" fill="#1b96d3" />
<rect x="185.20" y="68.30" width="17.73" height="1.05" fill="#1990cf" />
<rect x="202.88" y="68.30" width="17.73" height="1.05" fill="#1b96d3" />
<rect x="220.55" y="68.30" width="17.73" height="1.05" fill="#1991d0" />
<rect x="238.23" y="68.30" width="17.73" height="1.05" fill="#178bcc" />
<rect x="43.80" y="69.30" width="17.73" height="1.55" fill="#5fbfe9" />
<rect x="61.47" y="69.30" width="17.73" height="1.55" fill="#5fbfe9" />
<rect x="79.15" y="69.30" width="17.73" height="1.55" fill="#43b5e5" />
<rect x="96.83" y="69.30" width="17.73" height="1.55" fill="#44b5e5" />
<rect x="114.50" y="69.30" width="17.73" height="1.55" fill="#37b0e3" />
<rect x="132.18" y="69.30" width="17.73" height="1.55" fill="#3cb2e4" />
<rect x="149.85" y="69.30" width="17.73" height="1.55" fill="#1483c7" />
<rect x="167.53" y="69.30" width="17.73" height="1.55" fill="#188fcf" />
<rect x="185.20" y="69.30" width="17.73" height="1.55" fill="#188dcd" />
<rect x="202.88" y="69.30" width="17.73" height="1.55" fill="#1585c8" />
<rect x="220.55" y="69.30" width="17.73" height="1.55" fill="#1077bf" />
<rect x="238.23" y="69.30" width="17.73" height="1.55" fill="#1380c4" />
<rect x="43.80" y="70.80" width="17.73" height="1.05" fill="#70c5eb" />
<rect x="61.47" y="70.80" width="17.73" height="1.05" fill="#7bc8ec" />
<rect x="79.15" y="70.80" width="17.73" height="1.05" fill="#60bfe9" />
<rect x="96.83" y="70.80" width="17.73" height="1.05" fill="#73c5eb" />
<rect x="114.50" y="70.80" width="17.73" height="1.05" fill="#56bbe8" />
<rect x="132.18" y="70.80" width="17.73" height="1.05" fill="#5dbee8" />
<rect x="149.85" y="70.80" width="17.73" height="1.05" fill="#67c1e9" />
<rect x="167.53" y="70.80" width="17.73" height="1.05" fill="#49b7e6" />
<rect x="185.20" y="70.80" width="17.73" height="1.05" fill="#5dbee8" />
<rect x="202.88" y="70.80" width="17.73" height="1.05" fill="#23a2db" />
<rect x="220.55" y="70.80" width="17.73" height="1.05" fill="#1584c7" />
<rect x="238.23" y="70.80" width="17.73" height="1.05" fill="#178acc" />
<rect x="43.80" y="71.80" width="17.73" height="1.55" fill="#45b5e6" />
<rect x="61.47" y="71.80" width="17.73" height="1.55" fill="#64c0e9" />
<rect x="79.15" y="71.80" width="17.73" height="1.55" fill="#4eb9e7" />
<rect x="96.83" y="71.80" width="17.73" height="1.55" fill="#49b7e6" />
<rect x="114.50" y="71.80" width="17.73" height="1.55" fill="#3eb2e4" />
<rect x="132.18" y="71.80" width="17.73" height="1.55" fill="#44b5e6" />
<rect x="149.85" y="71.80" width="17.73" height="1.55" fill="#34aee2" />
<rect x="167.53" y="71.80" width="17.73" height="1.55" fill="#4cb8e7" />
<rect x="185.20" y="71.80" width="17.73" height="1.55" fill="#28a9df" />
<rect x="202.88" y="71.80" width="17.73" height="1.55" fill="#1077bf" />
<rect x="220.55" y="71.80" width="17.73" height="1.55" fill="#1179c0" />
<rect x="238.23" y="71.80" width="17.73" height="1.55" fill="#0f6eb7" />
<rect x="43.80" y="73.30" width="17.73" height="1.05" fill="#1584c8" />
<rect x="61.47" y="73.30" width="17.73" height="1.05" fill="#137fc4" />
<rect x="79.15" y="73.30" width="17.73" height="1.05" fill="#c2e3f5" />
<rect x="96.83" y="73.30" width="17.73" height="1.05" fill="#59bde8" />
<rect x="114.50" y="73.30" width="17.73" height="1.05" fill="#3fb3e4" />
<rect x="132.18" y="73.30" width="17.73" height="1.05" fill="#4db9e7" />
<rect x="149.85" y="73.30" width="17.73" height="1.05" fill="#87cdee" />
<rect x="167.53" y="73.30" width="17.73" height="1.05" fill="#62c0e9" />
<rect x="185.20" y="73.30" width="17.73" height="1.05" fill="#73c5eb" />
<rect x="202.88" y="73.30" width="17.73" height="1.05" fill="#65c1e9" />
<rect x="220.55" y="73.30" width="17.73" height="1.05" fill="#c2e3f5" />
<rect x="238.23" y="73.30" width="17.73" height="1.05" fill="#bee1f5" />
<rect x="43.80" y="74.30" width="17.73" height="1.55" fill="#178bcc" />
<rect x="61.47" y="74.30" width="17.73" height="1.55" fill="#1481c5" />
<rect x="79.15" y="74.30" width="17.73" height="1.55" fill="#9ad4f1" />
<rect x="96.83" y="74.30" width="17.73" height="1.55" fill="#63c0e9" />
<rect x="114.50" y="74.30" width="17.73" height="1.55" fill="#31ade1" />
<rect x="132.18" y="74.30" width="17.73" height="1.55" fill="#33aee2" />
<rect x="149.85" y="74.30" width="17.73" height="1.55" fill="#74c6eb" />
<rect x="167.53" y="74.30" width="17.73" height="1.55" fill="#69c2ea" />
<rect x="185.20" y="74.30" width="17.73" height="1.55" fill="#7fcaed" />
<rect x="202.88" y="74.30" width="17.73" height="1.55" fill="#90d0ef" />
<rect x="220.55" y="74.30" width="17.73" height="1.55" fill="#c4e4f6" />
<rect x="238.23" y="74.30" width="17.73" height="1.55" fill="#c5e4f6" />
<rect x="43.80" y="75.80" width="17.73" height="1.55" fill="#4cb8e7" />
<rect x="61.47" y="75.80" width="17.73" height="1.55" fill="#d2eaf8" />
<rect x="79.15" y="75.80" width="17.73" height="1.55" fill="#7fcaed" />
<rect x="96.83" y="75.80" width="17.73" height="1.55" fill="#e2f1fa" />
<rect x="114.50" y="75.80" width="17.73" height="1.55" fill="#e9f4fb" />
<rect x="132.18" y="75.80" width="17.73" height="1.55" fill="#e3f1fa" />
<rect x="149.85" y="75.80" width="17.73" height="1.55" fill="#7bc8ec" />
<rect x="167.53" y="75.80" width="17.73" height="1.55" fill="#74c6eb" />
<rect x="185.20" y="75.80" width="17.73" height="1.55" fill="#69c2ea" />
<rect x="202.88" y="75.80" width="17.73" height="1.55" fill="#85ccee" />
<rect x="220.55" y="75.80" width="17.73" height="1.55" fill="#eef6fc" />
<rect x="238.23" y="75.80" width="17.73" height="1.55" fill="#ebf5fb" />
<rect x="43.80" y="77.30" width="17.73" height="1.05" fill="#1e9bd7" />
<rect x="61.47" y="77.30" width="17.73" height="1.05" fill="#addbf3" />
<rect x="79.15" y="77.30" width="17.73" height="1.05" fill="#cae6f6" />
<rect x="96.83" y="77.30" width="17.73" height="1.05" fill="#d2eaf8" />
<rect x="114.50" y="77.30" width="17.73" height="1.05" fill="#e8f3fb" />
<rect x="132.18" y="77.30" width="17.73" height="1.05" fill="#d8ecf8" />
<rect x="149.85" y="77.30" width="17.73" height="1.05" fill="#127bc1" />
<rect x="167.53" y="77.30" width="17.73" height="1.05" fill="#bbe0f4" />
<rect x="185.20" y="77.30" width="17.73" height="1.05" fill="#b2dcf3" />
<rect x="202.88" y="77.30" width="17.73" height="1.05" fill="#4cb8e7" />
<rect x="220.55" y="77.30" width="17.73" height="1.05" fill="#dceef9" />
<rect x="238.23" y="77.30" width="17.73" height="1.05" fill="#cce7f7" />
<rect x="43.80" y="78.30" width="17.73" height="1.05" fill="#32ade2" />
<rect x="61.47" y="78.30" width="17.73" height="1.05" fill="#cde8f7" />
<rect x="79.15" y="78.30" width="17.73" height="1.05" fill="#deeff9" />
<rect x="96.83" y="78.30" width="17.73" height="1.05" fill="#ddeef9" />
<rect x="114.50" y="78.30" width="17.73" height="1.05" fill="#d3eaf8" />
<rect x="132.18" y="78.30" width="17.73" height="1.05" fill="#e3f1fa" />
<rect x="149.85" y="78.30" width="17.73" height="1.05" fill="#1a93d1" />
<rect x="167.53" y="78.30" width="17.73" height="1.05" fill="#d5ebf8" />
<rect x="185.20" y="78.30" width="17.73" height="1.05" fill="#c3e3f5" />
<rect x="202.88" y="78.30" width="17.73" height="1.05" fill="#71c5eb" />
<rect x="220.55" y="78.30" width="17.73" height="1.05" fill="#dceef9" />
<rect x="238.23" y="78.30" width="17.73" height="1.05" fill="#e0f0fa" />
<rect x="43.80" y="79.30" width="17.73" height="1.55" fill="#7fcaed" />
<rect x="61.47" y="79.30" width="17.73" height="1.55" fill="#e5f2fa" />
<rect x="79.15" y="79.30" width="17.73" height="1.55" fill="#f0f7fc" />
<rect x="96.83" y="79.30" width="17.73" height="1.55" fill="#f4f9fd" />
<rect x="114.50" y="79.30" width="17.73" height="1.55" fill="#f4f9fd" />
<rect x="132.18" y="79.30" width="17.73" height="1.55" fill="#f4f9fd" />
<rect x="149.85" y="79.30" width="17.73" height="1.55" fill="#46b6e6" />
<rect x="167.53" y="79.30" width="17.73" height="1.55" fill="#f0f7fc" />
<rect x="185.20" y="79.30" width="17.73" height="1.55" fill="#e9f4fb" />
<rect x="202.88" y="79.30" width="17.73" height="1.55" fill="#bde1f5" />
<rect x="220.55" y="79.30" width="17.73" height="1.55" fill="#f4f9fd" />
<rect x="238.23" y="79.30" width="17.73" height="1.55" fill="#f3f8fd" />
<rect x="43.80" y="80.80" width="17.73" height="1.55" fill="#42b4e5" />
<rect x="61.47" y="80.80" width="17.73" height="1.55" fill="#b6def4" />
<rect x="79.15" y="80.80" width="17.73" height="1.55" fill="#e9f4fb" />
<rect x="96.83" y="80.80" width="17.73" height="1.55" fill="#bae0f4" />
<rect x="114.50" y="80.80" width="17.73" height="1.55" fill="#ddeff9" />
<rect x="132.18" y="80.80" width="17.73" height="1.55" fill="#dceef9" />
<rect x="149.85" y="80.80" width="17.73" height="1.55" fill="#82cbed" />
<rect x="167.53" y="80.80" width="17.73" height="1.55" fill="#d4eaf8" />
<rect x="185.20" y="80.80" width="17.73" height="1.55" fill="#c8e5f6" />
<rect x="202.88" y="80.80" width="17.73" height="1.55" fill="#40b4e5" />
<rect x="220.55" y="80.80" width="17.73" height="1.55" fill="#d4ebf8" />
<rect x="238.23" y="80.80" width="17.73" height="1.55" fill="#d2eaf8" />
<rect x="43.80" y="82.30" width="17.73" height="1.55" fill="#59bde8" />
<rect x="61.47" y="82.30" width="17.73" height="1.55" fill="#c9e6f6" />
<rect x="79.15" y="82.30" width="17.73" height="1.55" fill="#f3f8fd" />
<rect x="96.83" y="82.30" width="17.73" height="1.55" fill="#cde8f7" />
<rect x="114.50" y="82.30" width="17.73" height="1.55" fill="#e4f2fa" />
<rect x="132.18" y="82.30" width="17.73" height="1.55" fill="#e5f2fa" />
<rect x="149.85" y="82.30" width="17.73" height="1.55" fill="#97d2f0" />
<rect x="167.53" y="82.30" width="17.73" height="1.55" fill="#cfe8f7" />
<rect x="185.20" y="82.30" width="17.73" height="1.55" fill="#c6e5f6" />
<rect x="202.88" y="82.30" width="17.73" height="1.55" fill="#4db8e7" />
<rect x="220.55" y="82.30" width="17.73" height="1.55" fill="#e7f3fb" />
<rect x="238.23" y="82.30" width="17.73" height="1.55" fill="#daedf9" />
<rect x="43.80" y="83.80" width="17.73" height="1.05" fill="#4cb8e7" />
<rect x="61.47" y="83.80" width="17.73" height="1.05" fill="#95d2f0" />
<rect x="79.15" y="83.80" width="17.73" height="1.05" fill="#f1f7fc" />
<rect x="96.83" y="83.80" width="17.73" height="1.05" fill="#d6ebf8" />
<rect x="114.50" y="83.80" width="17.73" height="1.05" fill="#9cd4f1" />
<rect x="132.18" y="83.80" width="17.73" height="1.05" fill="#b3ddf3" />
<rect x="149.85" y="83.80" width="17.73" height="1.05" fill="#77c7ec" />
<rect x="167.53" y="83.80" width="17.73" height="1.05" fill="#b5def4" />
<rect x="185.20" y="83.80" width="17.73" height="1.05" fill="#abdaf3" />
<rect x="202.88" y="83.80" width="17.73" height="1.05" fill="#8ecfef" />
<rect x="220.55" y="83.80" width="17.73" height="1.05" fill="#d7ecf8" />
<rect x="238.23" y="83.80" width="17.73" height="1.05" fill="#e8f3fb" />
<rect x="43.80" y="84.80" width="17.73" height="1.05" fill="#36afe3" />
<rect x="61.47" y="84.80" width="17.73" height="1.05" fill="#5dbee8" />
<rect x="79.15" y="84.80" width="17.73" height="1.05" fill="#c2e3f5" />
<rect x="96.83" y="84.80" width="17.73" height="1.05" fill="#aadaf2" />
<rect x="114.50" y="84.80" width="17.73" height="1.05" fill="#63c0e9" />
<rect x="132.18" y="84.80" width="17.73" height="1.05" fill="#71c5eb" />
<rect x="149.85" y="84.80" width="17.73" height="1.05" fill="#51bae7" />
<rect x="167.53" y="84.80" width="17.73" height="1.05" fill="#64c0e9" />
<rect x="185.20" y="84.80" width="17.73" height="1.05" fill="#82cbed" />
<rect x="202.88" y="84.80" width="17.73" height="1.05" fill="#54bbe7" />
<rect x="220.55" y="84.80" width="17.73" height="1.05" fill="#bbe0f4" />
<rect x="238.23" y="84.80" width="17.73" height="1.05" fill="#cee8f7" />
<rect x="43.80" y="85.80" width="17.73" height="1.05" fill="#68c2ea" />
<rect x="61.47" y="85.80" width="17.73" height="1.05" fill="#b6def4" />
<rect x="79.15" y="85.80" width="17.73" height="1.05" fill="#dff0fa" />
<rect x="96.83" y="85.80" width="17.73" height="1.05" fill="#d2eaf8" />
<rect x="114.50" y="85.80" width="17.73" height="1.05" fill="#a6d8f2" />
<rect x="132.18" y="85.80" width="17.73" height="1.05" fill="#b9e0f4" />
<rect x="149.85" y="85.80" width="17.73" height="1.05" fill="#9dd5f1" />
<rect x="167.53" y="85.80" width="17.73" height="1.05" fill="#edf6fc" />
<rect x="185.20" y="85.80" width="17.73" height="1.05" fill="#ecf5fb" />
<rect x="202.88" y="85.80" width="17.73" height="1.05" fill="#d7ecf8" />
<rect x="220.55" y="85.80" width="17.73" height="1.05" fill="#f1f7fc" />
<rect x="238.23" y="85.80" width="17.73" height="1.05" fill="#f0f7fc" />
<rect x="43.80" y="86.80" width="17.73" height="1.55" fill="#65c1e9" />
<rect x="61.47" y="86.80" width="17.73" height="1.55" fill="#99d3f0" />
<rect x="79.15" y="86.80" width="17.73" height="1.55" fill="#deeff9" />
<rect x="96.83" y="86.80" width="17.73" height="1.55" fill="#deeff9" />
<rect x="114.50" y="86.80" width="17.73" height="1.55" fill="#f0f7fc" />
<rect x="132.18" y="86.80" width="17.73" height="1.55" fill="#e8f3fb" />
<rect x="149.85" y="86.80" width="17.73" height="1.55" fill="#79c8ec" />
<rect x="167.53" y="86.80" width="17.73" height="1.55" fill="#deeff9" />
<rect x="185.20" y="86.80" width="17.73" height="1.55" fill="#dceef9" />
<rect x="202.88" y="86.80" width="17.73" height="1.55" fill="#bfe2f5" />
<rect x="220.55" y="86.80" width="17.73" height="1.55" fill="#f2f8fd" />
<rect x="238.23" y="86.80" width="17.73" height="1.55" fill="#f2f8fd" />
<rect x="43.80" y="88.30" width="17.73" height="1.55" fill="#74c6eb" />
<rect x="61.47" y="88.30" width="17.73" height="1.55" fill="#6ec4ea" />
<rect x="79.15" y="88.30" width="17.73" height="1.55" fill="#e2f1fa" />
<rect x="96.83" y="88.30" width="17.73" height="1.55" fill="#e4f1fa" />
<rect x="114.50" y="88.30" width="17.73" height="1.55" fill="#e3f1fa" />
<rect x="132.18" y="88.30" width="17.73" height="1.55" fill="#d3eaf8" />
<rect x="149.85" y="88.30" width="17.73" height="1.55" fill="#81caed" />
<rect x="167.53" y="88.30" width="17.73" height="1.55" fill="#e2f1fa" />
<rect x="185.20" y="88.30" width="17.73" height="1.55" fill="#d4eaf8" />
<rect x="202.88" y="88.30" width="17.73" height="1.55" fill="#b8dff4" />
<rect x="220.55" y="88.30" width="17.73" height="1.55" fill="#f0f7fc" />
<rect x="238.23" y="88.30" width="17.73" height="1.55" fill="#ebf5fb" />
<rect x="43.80" y="89.80" width="17.73" height="1.05" fill="#7ec9ed" />
<rect x="61.47" y="89.80" width="17.73" height="1.05" fill="#b6def4" />
<rect x="79.15" y="89.80" width="17.73" height="1.05" fill="#eef6fc" />
<rect x="96.83" y="89.80" width="17.73" height="1.05" fill="#f2f8fd" />
<rect x="114.50" y="89.80" width="17.73" height="1.05" fill="#f0f7fc" />
<rect x="132.18" y="89.80" width="17.73" height="1.05" fill="#eaf4fb" />
<rect x="149.85" y="89.80" width="17.73" height="1.05" fill="#aedbf3" />
<rect x="167.53" y="89.80" width="17.73" height="1.05" fill="#f0f7fc" />
<rect x="185.20" y="89.80" width="17.73" height="1.05" fill="#eef6fc" />
<rect x="202.88" y="89.80" width="17.73" height="1.05" fill="#d0e9f7" />
<rect x="220.55" y="89.80" width="17.73" height="1.05" fill="#f4f9fd" />
<rect x="238.23" y="89.80" width="17.73" height="1.05" fill="#f4f9fd" />
<rect x="43.80" y="90.80" width="17.73" height="1.55" fill="#3fb3e4" />
<rect x="61.47" y="90.80" width="17.73" height="1.55" fill="#62c0e9" />
<rect x="79.15" y="90.80" width="17.73" height="1.55" fill="#c6e5f6" />
<rect x="96.83" y="90.80" width="17.73" height="1.55" fill="#c9e6f6" />
<rect x="114.50" y="90.80" width="17.73" height="1.55" fill="#e0f0fa" />
<rect x="132.18" y="90.80" width="17.73" height="1.55" fill="#d7ecf8" />
<rect x="149.85" y="90.80" width="17.73" height="1.55" fill="#5fbfe9" />
<rect x="167.53" y="90.80" width="17.73" height="1.55" fill="#e1f0fa" />
<rect x="185.20" y="90.80" width="17.73" height="1.55" fill="#cee8f7" />
<rect x="202.88" y="90.80" width="17.73" height="1.55" fill="#a7d9f2" />
<rect x="220.55" y="90.80" width="17.73" height="1.55" fill="#e3f1fa" />
<rect x="238.23" y="90.80" width="17.73" height="1.55" fill="#e4f2fa" />
<rect x="43.80" y="92.30" width="17.73" height="1.05" fill="#6fc4ea" />
<rect x="61.47" y="92.30" width="17.73" height="1.05" fill="#c3e3f5" />
<rect x="79.15" y="92.30" width="17.73" height="1.05" fill="#f0f7fc" />
<rect x="96.83" y="92.30" width="17.73" height="1.05" fill="#f4f9fd" />
<rect x="114.50" y="92.30" width="17.73" height="1.05" fill="#f4f9fd" />
<rect x="132.18" y="92.30" width="17.73" height="1.05" fill="#f1f8fc" />
<rect x="149.85" y="92.30" width="17.73" height="1.05" fill="#c4e4f6" />
<rect x="167.53" y="92.30" width="17.73" height="1.05" fill="#f1f7fc" />
<rect x="185.20" y="92.30" width="17.73" height="1.05" fill="#f1f8fc" />
<rect x="202.88" y="92.30" width="17.73" height="1.05" fill="#d3eaf8" />
<rect x="220.55" y="92.30" width="17.73" height="1.05" fill="#f4f9fd" />
<rect x="238.23" y="92.30" width="17.73" height="1.05" fill="#f4f9fd" />
<rect x="43.80" y="93.30" width="17.73" height="1.55" fill="#30ace1" />
<rect x="61.47" y="93.30" width="17.73" height="1.55" fill="#70c4eb" />
<rect x="79.15" y="93.30" width="17.73" height="1.55" fill="#cde7f7" />
<rect x="96.83" y="93.30" width="17.73" height="1.55" fill="#e6f2fa" />
<rect x="114.50" y="93.30" width="17.73" height="1.55" fill="#e6f3fb" />
<rect x="132.18" y="93.30" width="17.73" height="1.55" fill="#e1f0fa" />
<rect x="149.85" y="93.30" width="17.73" height="1.55" fill="#75c6eb" />
<rect x="167.53" y="93.30" width="17.73" height="1.55" fill="#c9e6f6" />
<rect x="185.20" y="93.30" width="17.73" height="1.55" fill="#daedf9" />
<rect x="202.88" y="93.30" width="17.73" height="1.55" fill="#b3ddf3" />
<rect x="220.55" y="93.30" width="17.73" height="1.55" fill="#eaf4fb" />
<rect x="238.23" y="93.30" width="17.73" height="1.55" fill="#f2f8fd" />
<rect x="43.80" y="94.80" width="17.73" height="1.05" fill="#24a4dd" />
<rect x="61.47" y="94.80" width="17.73" height="1.05" fill="#57bce8" />
<rect x="79.15" y="94.80" width="17.73" height="1.05" fill="#d9edf9" />
<rect x="96.83" y="94.80" width="17.73" height="1.05" fill="#e3f1fa" />
<rect x="114.50" y="94.80" width="17.73" height="1.05" fill="#dceef9" />
<rect x="132.18" y="94.80" width="17.73" height="1.05" fill="#d3eaf8" />
<rect x="149.85" y="94.80" width="17.73" height="1.05" fill="#67c1e9" />
<rect x="167.53" y="94.80" width="17.73" height="1.05" fill="#d0e9f7" />
<rect x="185.20" y="94.80" width="17.73" height="1.05" fill="#dbeef9" />
<rect x="202.88" y="94.80" width="17.73" height="1.05" fill="#b2ddf3" />
<rect x="220.55" y="94.80" width="17.73" height="1.05" fill="#e9f4fb" />
<rect x="238.23" y="94.80" width="17.73" height="1.05" fill="#e4f2fa" />
<rect x="43.80" y="95.80" width="17.73" height="1.05" fill="#6dc3ea" />
<rect x="61.47" y="95.80" width="17.73" height="1.05" fill="#a8d9f2" />
<rect x="79.15" y="95.80" width="17.73" height="1.05" fill="#e8f3fb" />
<rect x="96.83" y="95.80" width="17.73" height="1.05" fill="#f4f9fd" />
<rect x="114.50" y="95.80" width="17.73" height="1.05" fill="#f2f8fd" />
<rect x="132.18" y="95.80" width="17.73" height="1.05" fill="#eff7fc" />
<rect x="149.85" y="95.80" width="17.73" height="1.05" fill="#abdaf2" />
<rect x="167.53" y="95.80" width="17.73" height="1.05" fill="#edf6fc" />
<rect x="185.20" y="95.80" width="17.73" height="1.05" fill="#f4f9fd" />
<rect x="202.88" y="95.80" width="17.73" height="1.05" fill="#cbe7f7" />
<rect x="220.55" y="95.80" width="17.73" height="1.05" fill="#f4f9fd" />
<rect x="238.23" y="95.80" width="17.73" height="1.05" fill="#f4f9fd" />
<rect x="43.80" y="96.80" width="17.73" height="1.55" fill="#3ab1e3" />
<rect x="61.47" y="96.80" width="17.73" height="1.55" fill="#6ac2ea" />
<rect x="79.15" y="96.80" width="17.73" height="1.55" fill="#d0e9f7" />
<rect x="96.83" y="96.80" width="17.73" height="1.55" fill="#e5f2fa" />
<rect x="114.50" y="96.80" width="17.73" height="1.55" fill="#e3f1fa" />
<rect x="132.18" y="96.80" width="17.73" height="1.55" fill="#e1f0fa" />
<rect x="149.85" y="96.80" width="17.73" height="1.55" fill="#dfeff9" />
<rect x="167.53" y="96.80" width="17.73" height="1.55" fill="#eaf4fb" />
<rect x="185.20" y="96.80" width="17.73" height="1.55" fill="#d7ecf8" />
<rect x="202.88" y="96.80" width="17.73" height="1.55" fill="#dbeef9" />
<rect x="220.55" y="96.80" width="17.73" height="1.55" fill="#f3f8fd" />
<rect x="238.23" y="96.80" width="17.73" height="1.55" fill="#f1f8fc" />
<rect x="43.80" y="98.30" width="17.73" height="1.55" fill="#30ace1" />
<rect x="61.47" y="98.30" width="17.73" height="1.55" fill="#8aceee" />
<rect x="79.15" y="98.30" width="17.73" height="1.55" fill="#e9f4fb" />
<rect x="96.83" y="98.30" width="17.73" height="1.55" fill="#e6f2fa" />
<rect x="114.50" y="98.30" width="17.73" height="1.55" fill="#e3f1fa" />
<rect x="132.18" y="98.30" width="17.73" height="1.55" fill="#e6f2fa" />
<rect x="149.85" y="98.30" width="17.73" height="1.55" fill="#eff6fc" />
<rect x="167.53" y="98.30" width="17.73" height="1.55" fill="#e0f0fa" />
<rect x="185.20" y="98.30" width="17.73" height="1.55" fill="#e5f2fa" />
<rect x="202.88" y="98.30" width="17.73" height="1.55" fill="#e8f3fb" />
<rect x="220.55" y="98.30" width="17.73" height="1.55" fill="#f4f9fd" />
<rect x="238.23" y="98.30" width="17.73" height="1.55" fill="#f4f9fd" />
<rect x="43.80" y="99.80" width="17.73" height="1.05" fill="#2aaae0" />
<rect x="61.47" y="99.80" width="17.73" height="1.05" fill="#68c2ea" />
<rect x="79.15" y="99.80" width="17.73" height="1.05" fill="#d5ebf8" />
<rect x="96.83" y="99.80" width="17.73" height="1.05" fill="#e2f1fa" />
<rect x="114.50" y="99.80" width="17.73" height="1.05" fill="#d2eaf8" />
<rect x="132.18" y="99.80" width="17.73" height="1.05" fill="#dceef9" />
<rect x="149.85" y="99.80" width="17.73" height="1.05" fill="#e7f3fb" />
<rect x="167.53" y="99.80" width="17.73" height="1.05" fill="#d7ecf8" />
<rect x="185.20" y="99.80" width="17.73" height="1.05" fill="#d9edf9" />
<rect x="202.88" y="99.80" width="17.73" height="1.05" fill="#dfeff9" />
<rect x="220.55" y="99.80" width="17.73" height="1.05" fill="#eaf4fb" />
<rect x="238.23" y="99.80" width="17.73" height="1.05" fill="#e4f1fa" />
<rect x="43.80" y="100.80" width="17.73" height="1.05" fill="#35aee2" />
<rect x="61.47" y="100.80" width="17.73" height="1.05" fill="#84cced" />
<rect x="79.15" y="100.80" width="17.73" height="1.05" fill="#eef6fc" />
<rect x="96.83" y="100.80" width="17.73" height="1.05" fill="#f2f8fc" />
<rect x="114.50" y="100.80" width="17.73" height="1.05" fill="#e7f3fb" />
<rect x="132.18" y="100.80" width="17.73" height="1.05" fill="#eff7fc" />
<rect x="149.85" y="100.80" width="17.73" height="1.05" fill="#eef6fc" />
<rect x="167.53" y="100.80" width="17.73" height="1.05" fill="#ecf5fb" />
<rect x="185.20" y="100.80" width="17.73" height="1.05" fill="#eaf4fb" />
<rect x="202.88" y="100.80" width="17.73" height="1.05" fill="#f0f7fc" />
<rect x="220.55" y="100.80" width="17.73" height="1.05" fill="#f4f9fd" />
<rect x="238.23" y="100.80" width="17.73" height="1.05" fill="#f4f9fd" />
<rect x="43.80" y="101.80" width="17.73" height="1.05" fill="#35afe2" />
<rect x="61.47" y="101.80" width="17.73" height="1.05" fill="#93d1f0" />
<rect x="79.15" y="101.80" width="17.73" height="1.05" fill="#e3f1fa" />
<rect x="96.83" y="101.80" width="17.73" height="1.05" fill="#f3f9fd" />
<rect x="114.50" y="101.80" width="17.73" height="1.05" fill="#f0f7fc" />
<rect x="132.18" y="101.80" width="17.73" height="1.05" fill="#f2f8fd" />
<rect x="149.85" y="101.80" width="17.73" height="1.05" fill="#e6f3fb" />
<rect x="167.53" y="101.80" width="17.73" height="1.05" fill="#eaf4fb" />
<rect x="185.20" y="101.80" width="17.73" height="1.05" fill="#eef6fc" />
<rect x="202.88" y="101.80" width="17.73" height="1.05" fill="#f4f9fd" />
<rect x="220.55" y="101.80" width="17.73" height="1.05" fill="#f4f9fd" />
<rect x="238.23" y="101.80" width="17.73" height="1.05" fill="#f4f9fd" />
<rect x="43.80" y="102.80" width="17.73" height="1.55" fill="#45b5e6" />
<rect x="61.47" y="102.80" width="17.73" height="1.55" fill="#91d0ef" />
<rect x="79.15" y="102.80" width="17.73" height="1.55" fill="#e3f1fa" />
<rect x="96.83" y="102.80" width="17.73" height="1.55" fill="#f4f9fd" />
<rect x="114.50" y="102.80" width="17.73" height="1.55" fill="#ecf5fb" />
<rect x="132.18" y="102.80" width="17.73" height="1.55" fill="#edf6fc" />
<rect x="149.85" y="102.80" width="17.73" height="1.55" fill="#f1f8fc" />
<rect x="167.53" y="102.80" width="17.73" height="1.55" fill="#f1f8fc" />
<rect x="185.20" y="102.80" width="17.73" height="1.55" fill="#e9f4fb" />
<rect x="202.88" y="102.80" width="17.73" height="1.55" fill="#e6f2fa" />
<rect x="220.55" y="102.80" width="17.73" height="1.55" fill="#f4f9fd" />
<rect x="238.23" y="102.80" width="17.73" height="1.55" fill="#f4f9fd" />
<rect x="43.80" y="104.30" width="17.73" height="1.05" fill="#1380c5" />
<rect x="61.47" y="104.30" width="17.73" height="1.05" fill="#a5d8f2" />
<rect x="79.15" y="104.30" width="17.73" height="1.05" fill="#57bce8" />
<rect x="96.83" y="104.30" width="17.73" height="1.05" fill="#49b7e6" />
<rect x="114.50" y="104.30" width="17.73" height="1.05" fill="#5cbde8" />
<rect x="132.18" y="104.30" width="17.73" height="1.05" fill="#4fb9e7" />
<rect x="149.85" y="104.30" width="17.73" height="1.05" fill="#1b96d3" />
<rect x="167.53" y="104.30" width="17.73" height="1.05" fill="#67c1e9" />
<rect x="185.20" y="104.30" width="17.73" height="1.05" fill="#5dbee8" />
<rect x="202.88" y="104.30" width="17.73" height="1.05" fill="#3cb2e4" />
<rect x="220.55" y="104.30" width="17.73" height="1.05" fill="#78c7ec" />
<rect x="238.23" y="104.30" width="17.73" height="1.05" fill="#98d3f0" />
<rect x="43.80" y="105.30" width="17.73" height="1.05" fill="#66c1e9" />
<rect x="61.47" y="105.30" width="17.73" height="1.05" fill="#58bce8" />
<rect x="79.15" y="105.30" width="17.73" height="1.05" fill="#a3d7f2" />
<rect x="96.83" y="105.30" width="17.73" height="1.05" fill="#afdcf3" />
<rect x="114.50" y="105.30" width="17.73" height="1.05" fill="#a5d8f2" />
<rect x="132.18" y="105.30" width="17.73" height="1.05" fill="#bae0f4" />
<rect x="149.85" y="105.30" width="17.73" height="1.05" fill="#53bbe7" />
<rect x="167.53" y="105.30" width="17.73" height="1.05" fill="#9fd5f1" />
<rect x="185.20" y="105.30" width="17.73" height="1.05" fill="#bfe2f5" />
<rect x="202.88" y="105.30" width="17.73" height="1.05" fill="#43b5e5" />
<rect x="220.55" y="105.30" width="17.73" height="1.05" fill="#d0e9f7" />
<rect x="238.23" y="105.30" width="17.73" height="1.05" fill="#6ac2ea" />
<rect x="43.80" y="106.30" width="17.73" height="1.05" fill="#5dbee8" />
<rect x="61.47" y="106.30" width="17.73" height="1.05" fill="#2dabe1" />
<rect x="79.15" y="106.30" width="17.73" height="1.05" fill="#93d1f0" />
<rect x="96.83" y="106.30" width="17.73" height="1.05" fill="#9ad4f0" />
<rect x="114.50" y="106.30" width="17.73" height="1.05" fill="#79c8ec" />
<rect x="132.18" y="106.30" width="17.73" height="1.05" fill="#83cbed" />
<rect x="149.85" y="106.30" width="17.73" height="1.05" fill="#33aee2" />
<rect x="167.53" y="106.30" width="17.73" height="1.05" fill="#8aceee" />
<rect x="185.20" y="106.30" width="17.73" height="1.05" fill="#86ccee" />
<rect x="202.88" y="106.30" width="17.73" height="1.05" fill="#2face1" />
<rect x="220.55" y="106.30" width="17.73" height="1.05" fill="#a8d9f2" />
<rect x="238.23" y="106.30" width="17.73" height="1.05" fill="#6cc3ea" />
<rect x="43.80" y="107.30" width="17.73" height="1.05" fill="#89ceee" />
<rect x="61.47" y="107.30" width="17.73" height="1.05" fill="#5abde8" />
<rect x="79.15" y="107.30" width="17.73" height="1.05" fill="#cfe9f7" />
<rect x="96.83" y="107.30" width="17.73" height="1.05" fill="#cce7f7" />
<rect x="114.50" y="107.30" width="17.73" height="1.05" fill="#b7dff4" />
<rect x="132.18" y="107.30" width="17.73" height="1.05" fill="#aadaf2" />
<rect x="149.85" y="107.30" width="17.73" height="1.05" fill="#5bbde8" />
<rect x="167.53" y="107.30" width="17.73" height="1.05" fill="#a8d9f2" />
<rect x="185.20" y="107.30" width="17.73" height="1.05" fill="#b6def4" />
<rect x="202.88" y="107.30" width="17.73" height="1.05" fill="#45b5e6" />
<rect x="220.55" y="107.30" width="17.73" height="1.05" fill="#dbedf9" />
<rect x="238.23" y="107.30" width="17.73" height="1.05" fill="#84cced" />
<rect x="43.80" y="108.30" width="17.73" height="1.05" fill="#81caed" />
<rect x="61.47" y="108.30" width="17.73" height="1.05" fill="#56bbe8" />
<rect x="79.15" y="108.30" width="17.73" height="1.05" fill="#deeff9" />
<rect x="96.83" y="108.30" width="17.73" height="1.05" fill="#d0e9f7" />
<rect x="114.50" y="108.30" width="17.73" height="1.05" fill="#c0e2f5" />
<rect x="132.18" y="108.30" width="17.73" height="1.05" fill="#aedbf3" />
<rect x="149.85" y="108.30" width="17.73" height="1.05" fill="#61bfe9" />
<rect x="167.53" y="108.30" width="17.73" height="1.05" fill="#c4e4f6" />
<rect x="185.20" y="108.30" width="17.73" height="1.05" fill="#bee1f5" />
<rect x="202.88" y="108.30" width="17.73" height="1.05" fill="#3db2e4" />
<rect x="220.55" y="108.30" width="17.73" height="1.05" fill="#e0f0fa" />
<rect x="238.23" y="108.30" width="17.73" height="1.05" fill="#88cdee" />
<rect x="43.80" y="109.30" width="17.73" height="1.55" fill="#6fc4ea" />
<rect x="61.47" y="109.30" width="17.73" height="1.55" fill="#57bce8" />
<rect x="79.15" y="109.30" width="17.73" height="1.55" fill="#c3e3f5" />
<rect x="96.83" y="109.30" width="17.73" height="1.55" fill="#c3e3f5" />
<rect x="114.50" y="109.30" width="17.73" height="1.55" fill="#92d1ef" />
<rect x="132.18" y="109.30" width="17.73" height="1.55" fill="#a4d7f2" />
<rect x="149.85" y="109.30" width="17.73" height="1.55" fill="#2cabe0" />
<rect x="167.53" y="109.30" width="17.73" height="1.55" fill="#b2ddf3" />
<rect x="185.20" y="109.30" width="17.73" height="1.55" fill="#92d1ef" />
<rect x="202.88" y="109.30" width="17.73" height="1.55" fill="#42b4e5" />
<rect x="220.55" y="109.30" width="17.73" height="1.55" fill="#b0dcf3" />
<rect x="238.23" y="109.30" width="17.73" height="1.55" fill="#58bce8" />
<rect x="43.80" y="110.80" width="17.73" height="1.05" fill="#3eb3e4" />
<rect x="61.47" y="110.80" width="17.73" height="1.05" fill="#38b0e3" />
<rect x="79.15" y="110.80" width="17.73" height="1.05" fill="#bbe0f4" />
<rect x="96.83" y="110.80" width="17.73" height="1.05" fill="#96d2f0" />
<rect x="114.50" y="110.80" width="17.73" height="1.05" fill="#71c5eb" />
<rect x="132.18" y="110.80" width="17.73" height="1.05" fill="#84cced" />
<rect x="149.85" y="110.80" width="17.73" height="1.05" fill="#2dabe0" />
<rect x="167.53" y="110.80" width="17.73" height="1.05" fill="#84cbed" />
<rect x="185.20" y="110.80" width="17.73" height="1.05" fill="#7fcaed" />
<rect x="202.88" y="110.80" width="17.73" height="1.05" fill="#2face1" />
<rect x="220.55" y="110.80" width="17.73" height="1.05" fill="#abdaf2" />
<rect x="238.23" y="110.80" width="17.73" height="1.05" fill="#46b6e6" />
<rect x="43.80" y="111.80" width="17.73" height="1.05" fill="#5ebee9" />
<rect x="61.47" y="111.80" width="17.73" height="1.05" fill="#30ade1" />
<rect x="79.15" y="111.80" width="17.73" height="1.05" fill="#a4d7f2" />
<rect x="96.83" y="111.80" width="17.73" height="1.05" fill="#addbf3" />
<rect x="114.50" y="111.80" width="17.73" height="1.05" fill="#90d0ef" />
<rect x="132.18" y="111.80" width="17.73" height="1.05" fill="#84cced" />
<rect x="149.85" y="111.80" width="17.73" height="1.05" fill="#1d99d5" />
<rect x="167.53" y="111.80" width="17.73" height="1.05" fill="#8cceef" />
<rect x="185.20" y="111.80" width="17.73" height="1.05" fill="#61bfe9" />
<rect x="202.88" y="111.80" width="17.73" height="1.05" fill="#209ed9" />
<rect x="220.55" y="111.80" width="17.73" height="1.05" fill="#b9dff4" />
<rect x="238.23" y="111.80" width="17.73" height="1.05" fill="#41b4e5" />
<rect x="43.80" y="112.80" width="17.73" height="1.55" fill="#96d2f0" />
<rect x="61.47" y="112.80" width="17.73" height="1.55" fill="#9fd5f1" />
<rect x="79.15" y="112.80" width="17.73" height="1.55" fill="#d3eaf8" />
<rect x="96.83" y="112.80" width="17.73" height="1.55" fill="#b2ddf3" />
<rect x="114.50" y="112.80" width="17.73" height="1.55" fill="#b4def4" />
<rect x="132.18" y="112.80" width="17.73" height="1.55" fill="#a9d9f2" />
<rect x="149.85" y="112.80" width="17.73" height="1.55" fill="#34aee2" />
<rect x="167.53" y="112.80" width="17.73" height="1.55" fill="#abdaf2" />
<rect x="185.20" y="112.80" width="17.73" height="1.55" fill="#b2ddf3" />
<rect x="202.88" y="112.80" width="17.73" height="1.55" fill="#4eb9e7" />
<rect x="220.55" y="112.80" width="17.73" height="1.55" fill="#c2e3f5" />
<rect x="238.23" y="112.80" width="17.73" height="1.55" fill="#76c6eb" />
<rect x="43.80" y="114.30" width="17.73" height="1.05" fill="#74c6eb" />
<rect x="61.47" y="114.30" width="17.73" height="1.05" fill="#90d0ef" />
<rect x="79.15" y="114.30" width="17.73" height="1.05" fill="#f0f7fc" />
<rect x="96.83" y="114.30" width="17.73" height="1.05" fill="#f3f8fd" />
<rect x="114.50" y="114.30" width="17.73" height="1.05" fill="#ecf5fb" />
<rect x="132.18" y="114.30" width="17.73" height="1.05" fill="#f4f9fd" />
<rect x="149.85" y="114.30" width="17.73" height="1.05" fill="#25a6de" />
<rect x="167.53" y="114.30" width="17.73" height="1.05" fill="#9cd4f1" />
<rect x="185.20" y="114.30" width="17.73" height="1.05" fill="#9bd4f1" />
<rect x="202.88" y="114.30" width="17.73" height="1.05" fill="#38b0e3" />
<rect x="220.55" y="114.30" width="17.73" height="1.05" fill="#cde8f7" />
<rect x="238.23" y="114.30" width="17.73" height="1.05" fill="#6dc4ea" />
<rect x="43.80" y="115.30" width="17.73" height="1.55" fill="#68c2ea" />
<rect x="61.47" y="115.30" width="17.73" height="1.55" fill="#65c1e9" />
<rect x="79.15" y="115.30" width="17.73" height="1.55" fill="#ebf5fb" />
<rect x="96.83" y="115.30" width="17.73" height="1.55" fill="#e4f2fa" />
<rect x="114.50" y="115.30" width="17.73" height="1.55" fill="#e8f3fb" />
<rect x="132.18" y="115.30" width="17.73" height="1.55" fill="#ebf5fb" />
<rect x="149.85" y="115.30" width="17.73" height="1.55" fill="#e9f4fb" />
<rect x="167.53" y="115.30" width="17.73" height="1.55" fill="#f4f9fd" />
<rect x="185.20" y="115.30" width="17.73" height="1.55" fill="#f0f7fc" />
<rect x="202.88" y="115.30" width="17.73" height="1.55" fill="#f2f8fc" />
<rect x="220.55" y="115.30" width="17.73" height="1.55" fill="#f4f9fd" />
<rect x="238.23" y="115.30" width="17.73" height="1.55" fill="#f3f9fd" />
<rect x="43.80" y="116.80" width="17.73" height="1.05" fill="#89cdee" />
<rect x="61.47" y="116.80" width="17.73" height="1.05" fill="#85ccee" />
<rect x="79.15" y="116.80" width="17.73" height="1.05" fill="#f1f7fc" />
<rect x="96.83" y="116.80" width="17.73" height="1.05" fill="#f1f8fc" />
<rect x="114.50" y="116.80" width="17.73" height="1.05" fill="#f0f7fc" />
<rect x="132.18" y="116.80" width="17.73" height="1.05" fill="#eaf4fb" />
<rect x="149.85" y="116.80" width="17.73" height="1.05" fill="#ebf5fb" />
<rect x="167.53" y="116.80" width="17.73" height="1.05" fill="#f0f7fc" />
<rect x="185.20" y="116.80" width="17.73" height="1.05" fill="#ecf5fb" />
<rect x="202.88" y="116.80" width="17.73" height="1.05" fill="#f4f9fd" />
<rect x="220.55" y="116.80" width="17.73" height="1.05" fill="#f4f9fd" />
<rect x="238.23" y="116.80" width="17.73" height="1.05" fill="#f4f9fd" />
<rect x="43.80" y="117.80" width="17.73" height="1.05" fill="#3db2e4" />
<rect x="61.47" y="117.80" width="17.73" height="1.05" fill="#48b7e6" />
<rect x="79.15" y="117.80" width="17.73" height="1.05" fill="#ecf5fb" />
<rect x="96.83" y="117.80" width="17.73" height="1.05" fill="#e6f2fa" />
<rect x="114.50" y="117.80" width="17.73" height="1.05" fill="#e7f3fb" />
<rect x="132.18" y="117.80" width="17.73" height="1.05" fill="#e5f2fa" />
<rect x="149.85" y="117.80" width="17.73" height="1.05" fill="#f4f9fd" />
<rect x="167.53" y="117.80" width="17.73" height="1.05" fill="#f4f9fd" />
<rect x="185.20" y="117.80" width="17.73" height="1.05" fill="#e6f3fb" />
<rect x="202.88" y="117.80" width="17.73" height="1.05" fill="#f0f7fc" />
<rect x="220.55" y="117.80" width="17.73" height="1.05" fill="#f4f9fd" />
<rect x="238.23" y="117.80" width="17.73" height="1.05" fill="#edf6fc" />
<rect x="43.80" y="118.80" width="17.73" height="1.55" fill="#72c5eb" />
<rect x="61.47" y="118.80" width="17.73" height="1.55" fill="#77c7ec" />
<rect x="79.15" y="118.80" width="17.73" height="1.55" fill="#f4f9fd" />
<rect x="96.83" y="118.80" width="17.73" height="1.55" fill="#f4f9fd" />
<rect x="114.50" y="118.80" width="17.73" height="1.55" fill="#eef6fc" />
<rect x="132.18" y="118.80" width="17.73" height="1.55" fill="#f4f9fd" />
<rect x="149.85" y="118.80" width="17.73" height="1.55" fill="#f4f9fd" />
<rect x="167.53" y="118.80" width="17.73" height="1.55" fill="#f4f9fd" />
<rect x="185.20" y="118.80" width="17.73" height="1.55" fill="#f4f9fd" />
<rect x="202.88" y="118.80" width="17.73" height="1.55" fill="#f4f9fd" />
<rect x="220.55" y="118.80" width="17.73" height="1.55" fill="#f4f9fd" />
<rect x="238.23" y="118.80" width="17.73" height="1.55" fill="#f4f9fd" />
<rect x="43.80" y="120.30" width="17.73" height="1.05" fill="#45b6e6" />
<rect x="61.47" y="120.30" width="17.73" height="1.05" fill="#50b9e7" />
<rect x="79.15" y="120.30" width="17.73" height="1.05" fill="#bbe0f4" />
<rect x="96.83" y="120.30" width="17.73" height="1.05" fill="#eff7fc" />
<rect x="114.50" y="120.30" width="17.73" height="1.05" fill="#a5d8f2" />
<rect x="132.18" y="120.30" width="17.73" height="1.05" fill="#9dd5f1" />
<rect x="149.85" y="120.30" width="17.73" height="1.05" fill="#97d3f0" />
<rect x="167.53" y="120.30" width="17.73" height="1.05" fill="#cce7f7" />
<rect x="185.20" y="120.30" width="17.73" height="1.05" fill="#b0dcf3" />
<rect x="202.88" y="120.30" width="17.73" height="1.05" fill="#93d1f0" />
<rect x="220.55" y="120.30" width="17.73" height="1.05" fill="#ddeef9" />
<rect x="238.23" y="120.30" width="17.73" height="1.05" fill="#b9dff4" />
<rect x="43.80" y="121.30" width="17.73" height="1.05" fill="#40b3e5" />
<rect x="61.47" y="121.30" width="17.73" height="1.05" fill="#37afe3" />
<rect x="79.15" y="121.30" width="17.73" height="1.05" fill="#97d2f0" />
<rect x="96.83" y="121.30" width="17.73" height="1.05" fill="#e1f0fa" />
<rect x="114.50" y="121.30" width="17.73" height="1.05" fill="#a3d7f1" />
<rect x="132.18" y="121.30" width="17.73" height="1.05" fill="#a4d7f2" />
<rect x="149.85" y="121.30" width="17.73" height="1.05" fill="#b6def4" />
<rect x="167.53" y="121.30" width="17.73" height="1.05" fill="#b5def4" />
<rect x="185.20" y="121.30" width="17.73" height="1.05" fill="#cce7f7" />
<rect x="202.88" y="121.30" width="17.73" height="1.05" fill="#81cbed" />
<rect x="220.55" y="121.30" width="17.73" height="1.05" fill="#e4f2fa" />
<rect x="238.23" y="121.30" width="17.73" height="1.05" fill="#d4ebf8" />
<rect x="43.80" y="122.30" width="17.73" height="1.55" fill="#4bb8e7" />
<rect x="61.47" y="122.30" width="17.73" height="1.55" fill="#94d1f0" />
<rect x="79.15" y="122.30" width="17.73" height="1.55" fill="#a2d7f1" />
<rect x="96.83" y="122.30" width="17.73" height="1.55" fill="#e7f3fb" />
<rect x="114.50" y="122.30" width="17.73" height="1.55" fill="#bfe1f5" />
<rect x="132.18" y="122.30" width="17.73" height="1.55" fill="#93d1f0" />
<rect x="149.85" y="122.30" width="17.73" height="1.55" fill="#bee1f5" />
<rect x="167.53" y="122.30" width="17.73" height="1.55" fill="#d5ebf8" />
<rect x="185.20" y="122.30" width="17.73" height="1.55" fill="#cfe9f7" />
<rect x="202.88" y="122.30" width="17.73" height="1.55" fill="#b5def4" />
<rect x="220.55" y="122.30" width="17.73" height="1.55" fill="#e8f4fb" />
<rect x="238.23" y="122.30" width="17.73" height="1.55" fill="#d2eaf8" />
<rect x="43.80" y="123.80" width="17.73" height="1.05" fill="#24a5dd" />
<rect x="61.47" y="123.80" width="17.73" height="1.05" fill="#5abde8" />
<rect x="79.15" y="123.80" width="17.73" height="1.05" fill="#7bc8ec" />
<rect x="96.83" y="123.80" width="17.73" height="1.05" fill="#dceef9" />
<rect x="114.50" y="123.80" width="17.73" height="1.05" fill="#9cd4f1" />
<rect x="132.18" y="123.80" width="17.73" height="1.05" fill="#78c7ec" />
<rect x="149.85" y="123.80" width="17.73" height="1.05" fill="#8bceee" />
<rect x="167.53" y="123.80" width="17.73" height="1.05" fill="#b2ddf3" />
<rect x="185.20" y="123.80" width="17.73" height="1.05" fill="#acdaf3" />
<rect x="202.88" y="123.80" width="17.73" height="1.05" fill="#6cc3ea" />
<rect x="220.55" y="123.80" width="17.73" height="1.05" fill="#d7ecf8" />
<rect x="238.23" y="123.80" width="17.73" height="1.05" fill="#c0e2f5" />
<rect x="43.80" y="124.80" width="17.73" height="1.05" fill="#38b0e3" />
<rect x="61.47" y="124.80" width="17.73" height="1.05" fill="#a4d8f2" />
<rect x="79.15" y="124.80" width="17.73" height="1.05" fill="#d2eaf8" />
<rect x="96.83" y="124.80" width="17.73" height="1.05" fill="#f4f9fd" />
<rect x="114.50" y="124.80" width="17.73" height="1.05" fill="#c9e6f6" />
<rect x="132.18" y="124.80" width="17.73" height="1.05" fill="#c9e6f6" />
<rect x="149.85" y="124.80" width="17.73" height="1.05" fill="#cee8f7" />
<rect x="167.53" y="124.80" width="17.73" height="1.05" fill="#cee8f7" />
<rect x="185.20" y="124.80" width="17.73" height="1.05" fill="#cbe7f7" />
<rect x="202.88" y="124.80" width="17.73" height="1.05" fill="#b6def4" />
<rect x="220.55" y="124.80" width="17.73" height="1.05" fill="#e1f0fa" />
<rect x="238.23" y="124.80" width="17.73" height="1.05" fill="#deeff9" />
<rect x="43.80" y="125.80" width="17.73" height="1.55" fill="#38b0e3" />
<rect x="61.47" y="125.80" width="17.73" height="1.55" fill="#8bceee" />
<rect x="79.15" y="125.80" width="17.73" height="1.55" fill="#c7e5f6" />
<rect x="96.83" y="125.80" width="17.73" height="1.55" fill="#eaf4fb" />
<rect x="114.50" y="125.80" width="17.73" height="1.55" fill="#b8dff4" />
<rect x="132.18" y="125.80" width="17.73" height="1.55" fill="#a0d6f1" />
<rect x="149.85" y="125.80" width="17.73" height="1.55" fill="#c7e5f6" />
<rect x="167.53" y="125.80" width="17.73" height="1.55" fill="#cbe7f7" />
<rect x="185.20" y="125.80" width="17.73" height="1.55" fill="#b8dff4" />
<rect x="202.88" y="125.80" width="17.73" height="1.55" fill="#a6d8f2" />
<rect x="220.55" y="125.80" width="17.73" height="1.55" fill="#e1f0fa" />
<rect x="238.23" y="125.80" width="17.73" height="1.55" fill="#cde8f7" />
<rect x="43.80" y="127.30" width="17.73" height="1.05" fill="#35afe2" />
<rect x="61.47" y="127.30" width="17.73" height="1.05" fill="#a7d8f2" />
<rect x="79.15" y="127.30" width="17.73" height="1.05" fill="#cae6f6" />
<rect x="96.83" y="127.30" width="17.73" height="1.05" fill="#f0f7fc" />
<rect x="114.50" y="127.30" width="17.73" height="1.05" fill="#c5e4f6" />
<rect x="132.18" y="127.30" width="17.73" height="1.05" fill="#a8d9f2" />
<rect x="149.85" y="127.30" width="17.73" height="1.05" fill="#bee1f5" />
<rect x="167.53" y="127.30" width="17.73" height="1.05" fill="#daedf9" />
<rect x="185.20" y="127.30" width="17.73" height="1.05" fill="#b7dff4" />
<rect x="202.88" y="127.30" width="17.73" height="1.05" fill="#a6d8f2" />
<rect x="220.55" y="127.30" width="17.73" height="1.05" fill="#e2f1fa" />
<rect x="238.23" y="127.30" width="17.73" height="1.05" fill="#cce7f7" />
<rect x="43.80" y="128.30" width="17.73" height="1.05" fill="#2aaae0" />
<rect x="61.47" y="128.30" width="17.73" height="1.05" fill="#66c1e9" />
<rect x="79.15" y="128.30" width="17.73" height="1.05" fill="#c7e5f6" />
<rect x="96.83" y="128.30" width="17.73" height="1.05" fill="#e3f1fa" />
<rect x="114.50" y="128.30" width="17.73" height="1.05" fill="#dceef9" />
<rect x="132.18" y="128.30" width="17.73" height="1.05" fill="#e1f0fa" />
<rect x="149.85" y="128.30" width="17.73" height="1.05" fill="#8ecfef" />
<rect x="167.53" y="128.30" width="17.73" height="1.05" fill="#b8dff4" />
<rect x="185.20" y="128.30" width="17.73" height="1.05" fill="#95d2f0" />
<rect x="202.88" y="128.30" width="17.73" height="1.05" fill="#73c6eb" />
<rect x="220.55" y="128.30" width="17.73" height="1.05" fill="#d7ecf8" />
<rect x="238.23" y="128.30" width="17.73" height="1.05" fill="#addbf3" />
<rect x="43.80" y="129.30" width="17.73" height="1.05" fill="#2baae0" />
<rect x="61.47" y="129.30" width="17.73" height="1.05" fill="#89cdee" />
<rect x="79.15" y="129.30" width="17.73" height="1.05" fill="#cee8f7" />
<rect x="96.83" y="129.30" width="17.73" height="1.05" fill="#ebf5fb" />
<rect x="114.50" y="129.30" width="17.73" height="1.05" fill="#e6f2fa" />
<rect x="132.18" y="129.30" width="17.73" height="1.05" fill="#deeff9" />
<rect x="149.85" y="129.30" width="17.73" height="1.05" fill="#92d1ef" />
<rect x="167.53" y="129.30" width="17.73" height="1.05" fill="#a8d9f2" />
<rect x="185.20" y="129.30" width="17.73" height="1.05" fill="#a9d9f2" />
<rect x="202.88" y="129.30" width="17.73" height="1.05" fill="#8ecfef" />
<rect x="220.55" y="129.30" width="17.73" height="1.05" fill="#d4ebf8" />
<rect x="238.23" y="129.30" width="17.73" height="1.05" fill="#abdaf3" />
<rect x="43.80" y="130.30" width="17.73" height="1.05" fill="#56bbe8" />
<rect x="61.47" y="130.30" width="17.73" height="1.05" fill="#72c5eb" />
<rect x="79.15" y="130.30" width="17.73" height="1.05" fill="#c8e5f6" />
<rect x="96.83" y="130.30" width="17.73" height="1.05" fill="#e6f2fa" />
<rect x="114.50" y="130.30" width="17.73" height="1.05" fill="#e2f1fa" />
<rect x="132.18" y="130.30" width="17.73" height="1.05" fill="#d9edf9" />
<rect x="149.85" y="130.30" width="17.73" height="1.05" fill="#d1e9f7" />
<rect x="167.53" y="130.30" width="17.73" height="1.05" fill="#d8ecf8" />
<rect x="185.20" y="130.30" width="17.73" height="1.05" fill="#e7f3fb" />
<rect x="202.88" y="130.30" width="17.73" height="1.05" fill="#f1f7fc" />
<rect x="220.55" y="130.30" width="17.73" height="1.05" fill="#f0f7fc" />
<rect x="238.23" y="130.30" width="17.73" height="1.05" fill="#eef6fc" />
<rect x="43.80" y="131.30" width="17.73" height="1.05" fill="#48b7e6" />
<rect x="61.47" y="131.30" width="17.73" height="1.05" fill="#6cc3ea" />
<rect x="79.15" y="131.30" width="17.73" height="1.05" fill="#d0e9f7" />
<rect x="96.83" y="131.30" width="17.73" height="1.05" fill="#d4eaf8" />
<rect x="114.50" y="131.30" width="17.73" height="1.05" fill="#eaf4fb" />
<rect x="132.18" y="131.30" width="17.73" height="1.05" fill="#ebf5fb" />
<rect x="149.85" y="131.30" width="17.73" height="1.05" fill="#cde7f7" />
<rect x="167.53" y="131.30" width="17.73" height="1.05" fill="#d3eaf8" />
<rect x="185.20" y="131.30" width="17.73" height="1.05" fill="#dfeff9" />
<rect x="202.88" y="131.30" width="17.73" height="1.05" fill="#edf5fb" />
<rect x="220.55" y="131.30" width="17.73" height="1.05" fill="#e7f3fb" />
<rect x="238.23" y="131.30" width="17.73" height="1.05" fill="#e3f1fa" />
<rect x="43.80" y="132.30" width="17.73" height="1.05" fill="#8aceee" />
<rect x="61.47" y="132.30" width="17.73" height="1.05" fill="#cce7f7" />
<rect x="79.15" y="132.30" width="17.73" height="1.05" fill="#f2f8fc" />
<rect x="96.83" y="132.30" width="17.73" height="1.05" fill="#f4f9fd" />
<rect x="114.50" y="132.30" width="17.73" height="1.05" fill="#f3f8fd" />
<rect x="132.18" y="132.30" width="17.73" height="1.05" fill="#f4f9fd" />
<rect x="149.85" y="132.30" width="17.73" height="1.05" fill="#f3f8fd" />
<rect x="167.53" y="132.30" width="17.73" height="1.05" fill="#f3f8fd" />
<rect x="185.20" y="132.30" width="17.73" height="1.05" fill="#f0f7fc" />
<rect x="202.88" y="132.30" width="17.73" height="1.05" fill="#f4f9fd" />
<rect x="220.55" y="132.30" width="17.73" height="1.05" fill="#f4f9fd" />
<rect x="238.23" y="132.30" width="17.73" height="1.05" fill="#f4f9fd" />
<rect x="43.80" y="133.30" width="17.73" height="1.05" fill="#4cb8e7" />
<rect x="61.47" y="133.30" width="17.73" height="1.05" fill="#a0d6f1" />
<rect x="79.15" y="133.30" width="17.73" height="1.05" fill="#e9f4fb" />
<rect x="96.83" y="133.30" width="17.73" height="1.05" fill="#f1f8fc" />
<rect x="114.50" y="133.30" width="17.73" height="1.05" fill="#ddeff9" />
<rect x="132.18" y="133.30" width="17.73" height="1.05" fill="#e8f4fb" />
<rect x="149.85" y="133.30" width="17.73" height="1.05" fill="#e2f1fa" />
<rect x="167.53" y="133.30" width="17.73" height="1.05" fill="#e5f2fa" />
<rect x="185.20" y="133.30" width="17.73" height="1.05" fill="#e1f0fa" />
<rect x="202.88" y="133.30" width="17.73" height="1.05" fill="#ddeef9" />
<rect x="220.55" y="133.30" width="17.73" height="1.05" fill="#f3f9fd" />
<rect x="238.23" y="133.30" width="17.73" height="1.05" fill="#ddeef9" />
<rect x="43.80" y="134.30" width="17.73" height="1.55" fill="#49b7e6" />
<rect x="61.47" y="134.30" width="17.73" height="1.55" fill="#69c2ea" />
<rect x="79.15" y="134.30" width="17.73" height="1.55" fill="#dfeff9" />
<rect x="96.83" y="134.30" width="17.73" height="1.55" fill="#e3f1fa" />
<rect x="114.50" y="134.30" width="17.73" height="1.55" fill="#deeff9" />
<rect x="132.18" y="134.30" width="17.73" height="1.55" fill="#e2f1fa" />
<rect x="149.85" y="134.30" width="17.73" height="1.55" fill="#cee8f7" />
<rect x="167.53" y="134.30" width="17.73" height="1.55" fill="#dceef9" />
<rect x="185.20" y="134.30" width="17.73" height="1.55" fill="#d8ecf8" />
<rect x="202.88" y="134.30" width="17.73" height="1.55" fill="#e1f0fa" />
<rect x="220.55" y="134.30" width="17.73" height="1.55" fill="#f1f7fc" />
<rect x="238.23" y="134.30" width="17.73" height="1.55" fill="#e0f0fa" />
<rect x="43.80" y="135.80" width="17.73" height="1.05" fill="#58bce8" />
<rect x="61.47" y="135.80" width="17.73" height="1.05" fill="#8cceef" />
<rect x="79.15" y="135.80" width="17.73" height="1.05" fill="#edf6fc" />
<rect x="96.83" y="135.80" width="17.73" height="1.05" fill="#f1f7fc" />
<rect x="114.50" y="135.80" width="17.73" height="1.05" fill="#e9f4fb" />
<rect x="132.18" y="135.80" width="17.73" height="1.05" fill="#eef6fc" />
<rect x="149.85" y="135.80" width="17.73" height="1.05" fill="#e0f0fa" />
<rect x="167.53" y="135.80" width="17.73" height="1.05" fill="#e8f4fb" />
<rect x="185.20" y="135.80" width="17.73" height="1.05" fill="#e9f4fb" />
<rect x="202.88" y="135.80" width="17.73" height="1.05" fill="#f2f8fc" />
<rect x="220.55" y="135.80" width="17.73" height="1.05" fill="#f4f9fd" />
<rect x="238.23" y="135.80" width="17.73" height="1.05" fill="#e7f3fb" />
<rect x="43.80" y="136.80" width="17.73" height="1.55" fill="#74c6eb" />
<rect x="61.47" y="136.80" width="17.73" height="1.55" fill="#92d1ef" />
<rect x="79.15" y="136.80" width="17.73" height="1.55" fill="#eff7fc" />
<rect x="96.83" y="136.80" width="17.73" height="1.55" fill="#f2f8fc" />
<rect x="114.50" y="136.80" width="17.73" height="1.55" fill="#f1f8fc" />
<rect x="132.18" y="136.80" width="17.73" height="1.55" fill="#e4f2fa" />
<rect x="149.85" y="136.80" width="17.73" height="1.55" fill="#e7f3fb" />
<rect x="167.53" y="136.80" width="17.73" height="1.55" fill="#e9f4fb" />
<rect x="185.20" y="136.80" width="17.73" height="1.55" fill="#e8f3fb" />
<rect x="202.88" y="136.80" width="17.73" height="1.55" fill="#eef6fc" />
<rect x="220.55" y="136.80" width="17.73" height="1.55" fill="#f3f9fd" />
<rect x="238.23" y="136.80" width="17.73" height="1.55" fill="#f2f8fc" />
<rect x="43.80" y="138.30" width="17.73" height="1.55" fill="#58bce8" />
<rect x="61.47" y="138.30" width="17.73" height="1.55" fill="#87cdee" />
<rect x="79.15" y="138.30" width="17.73" height="1.55" fill="#f1f7fc" />
<rect x="96.83" y="138.30" width="17.73" height="1.55" fill="#e2f1fa" />
<rect x="114.50" y="138.30" width="17.73" height="1.55" fill="#e4f2fa" />
<rect x="132.18" y="138.30" width="17.73" height="1.55" fill="#e7f3fb" />
<rect x="149.85" y="138.30" width="17.73" height="1.55" fill="#d3eaf8" />
<rect x="167.53" y="138.30" width="17.73" height="1.55" fill="#e4f2fa" />
<rect x="185.20" y="138.30" width="17.73" height="1.55" fill="#cfe8f7" />
<rect x="202.88" y="138.30" width="17.73" height="1.55" fill="#e7f3fb" />
<rect x="220.55" y="138.30" width="17.73" height="1.55" fill="#f4f9fd" />
<rect x="238.23" y="138.30" width="17.73" height="1.55" fill="#e9f4fb" />
<rect x="43.80" y="139.80" width="17.73" height="1.05" fill="#43b5e5" />
<rect x="61.47" y="139.80" width="17.73" height="1.05" fill="#4db8e7" />
<rect x="79.15" y="139.80" width="17.73" height="1.05" fill="#e5f2fa" />
<rect x="96.83" y="139.80" width="17.73" height="1.05" fill="#d4eaf8" />
<rect x="114.50" y="139.80" width="17.73" height="1.05" fill="#e3f1fa" />
<rect x="132.18" y="139.80" width="17.73" height="1.05" fill="#d1e9f7" />
<rect x="149.85" y="139.80" width="17.73" height="1.05" fill="#c4e4f6" />
<rect x="167.53" y="139.80" width="17.73" height="1.05" fill="#cce7f7" />
<rect x="185.20" y="139.80" width="17.73" height="1.05" fill="#c2e3f5" />
<rect x="202.88" y="139.80" width="17.73" height="1.05" fill="#d7ecf8" />
<rect x="220.55" y="139.80" width="17.73" height="1.05" fill="#e7f3fb" />
<rect x="238.23" y="139.80" width="17.73" height="1.05" fill="#e3f1fa" />
<rect x="43.80" y="140.80" width="17.73" height="1.05" fill="#22a2db" />
<rect x="61.47" y="140.80" width="17.73" height="1.05" fill="#3cb1e4" />
<rect x="79.15" y="140.80" width="17.73" height="1.05" fill="#e6f3fb" />
<rect x="96.83" y="140.80" width="17.73" height="1.05" fill="#dbeef9" />
<rect x="114.50" y="140.80" width="17.73" height="1.05" fill="#d2eaf8" />
<rect x="132.18" y="140.80" width="17.73" height="1.05" fill="#dceef9" />
<rect x="149.85" y="140.80" width="17.73" height="1.05" fill="#cfe8f7" />
<rect x="167.53" y="140.80" width="17.73" height="1.05" fill="#c2e3f5" />
<rect x="185.20" y="140.80" width="17.73" height="1.05" fill="#e3f1fa" />
<rect x="202.88" y="140.80" width="17.73" height="1.05" fill="#d4ebf8" />
<rect x="220.55" y="140.80" width="17.73" height="1.05" fill="#e2f1fa" />
<rect x="238.23" y="140.80" width="17.73" height="1.05" fill="#d2eaf8" />
<rect x="43.80" y="141.80" width="17.73" height="1.55" fill="#23a4dc" />
<rect x="61.47" y="141.80" width="17.73" height="1.55" fill="#4bb8e7" />
<rect x="79.15" y="141.80" width="17.73" height="1.55" fill="#ecf5fb" />
<rect x="96.83" y="141.80" width="17.73" height="1.55" fill="#ddeef9" />
<rect x="114.50" y="141.80" width="17.73" height="1.55" fill="#cee8f7" />
<rect x="132.18" y="141.80" width="17.73" height="1.55" fill="#d3eaf8" />
<rect x="149.85" y="141.80" width="17.73" height="1.55" fill="#c7e5f6" />
<rect x="167.53" y="141.80" width="17.73" height="1.55" fill="#c5e4f6" />
<rect x="185.20" y="141.80" width="17.73" height="1.55" fill="#d5ebf8" />
<rect x="202.88" y="141.80" width="17.73" height="1.55" fill="#e0f0fa" />
<rect x="220.55" y="141.80" width="17.73" height="1.55" fill="#edf6fc" />
<rect x="238.23" y="141.80" width="17.73" height="1.55" fill="#d7ecf8" />
<rect x="43.80" y="143.30" width="17.73" height="1.05" fill="#42b4e5" />
<rect x="61.47" y="143.30" width="17.73" height="1.05" fill="#48b7e6" />
<rect x="79.15" y="143.30" width="17.73" height="1.05" fill="#ddeef9" />
<rect x="96.83" y="143.30" width="17.73" height="1.05" fill="#e9f4fb" />
<rect x="114.50" y="143.30" width="17.73" height="1.05" fill="#daedf9" />
<rect x="132.18" y="143.30" width="17.73" height="1.05" fill="#e3f1fa" />
<rect x="149.85" y="143.30" width="17.73" height="1.05" fill="#cce7f7" />
<rect x="167.53" y="143.30" width="17.73" height="1.05" fill="#cce7f7" />
<rect x="185.20" y="143.30" width="17.73" height="1.05" fill="#cfe8f7" />
<rect x="202.88" y="143.30" width="17.73" height="1.05" fill="#e1f0fa" />
<rect x="220.55" y="143.30" width="17.73" height="1.05" fill="#ecf5fb" />
<rect x="238.23" y="143.30" width="17.73" height="1.05" fill="#deeff9" />
<rect x="43.80" y="144.30" width="17.73" height="0.25" fill="#58bce8" />
<rect x="61.47" y="144.30" width="17.73" height="0.25" fill="#66c1e9" />
<rect x="79.15" y="144.30" width="17.73" height="0.25" fill="#f1f7fc" />
<rect x="96.83" y="144.30" width="17.73" height="0.25" fill="#e9f4fb" />
<rect x="114.50" y="144.30" width="17.73" height="0.25" fill="#f2f8fc" />
<rect x="132.18" y="144.30" width="17.73" height="0.25" fill="#f4f9fd" />
<rect x="149.85" y="144.30" width="17.73" height="0.25" fill="#d4eaf8" />
<rect x="167.53" y="144.30" width="17.73" height="0.25" fill="#e5f2fa" />
<rect x="185.20" y="144.30" width="17.73" height="0.25" fill="#eef6fc" />
<rect x="202.88" y="144.30" width="17.73" height="0.25" fill="#edf6fc" />
<rect x="220.55" y="144.30" width="17.73" height="0.25" fill="#f4f9fd" />
<rect x="238.23" y="144.30" width="17.73" height="0.25" fill="#eef6fc" />
</g>
<line x1="52.64" y1="144.60" x2="52.64" y2="147.50" stroke="#333333" stroke-width="0.8" />
<text transform="translate(53.6,153.6) rotate(-45)" font-size="6.8" text-anchor="end" fill="#333" stroke="#333">HSC</text>
<line x1="70.31" y1="144.60" x2="70.31" y2="147.50" stroke="#333333" stroke-width="0.8" />
<text transform="translate(71.3,153.6) rotate(-45)" font-size="6.8" text-anchor="end" fill="#333" stroke="#333">MPP1/2</text>
<line x1="87.99" y1="144.60" x2="87.99" y2="147.50" stroke="#333333" stroke-width="0.8" />
<text transform="translate(89.0,153.6) rotate(-45)" font-size="6.8" text-anchor="end" fill="#333" stroke="#333">MPP3</text>
<line x1="105.66" y1="144.60" x2="105.66" y2="147.50" stroke="#333333" stroke-width="0.8" />
<text transform="translate(106.7,153.6) rotate(-45)" font-size="6.8" text-anchor="end" fill="#333" stroke="#333">MPP4</text>
<line x1="123.34" y1="144.60" x2="123.34" y2="147.50" stroke="#333333" stroke-width="0.8" />
<text transform="translate(124.3,153.6) rotate(-45)" font-size="6.8" text-anchor="end" fill="#333" stroke="#333">CMP</text>
<line x1="141.01" y1="144.60" x2="141.01" y2="147.50" stroke="#333333" stroke-width="0.8" />
<text transform="translate(142.0,153.6) rotate(-45)" font-size="6.8" text-anchor="end" fill="#333" stroke="#333">GMP</text>
<line x1="158.69" y1="144.60" x2="158.69" y2="147.50" stroke="#333333" stroke-width="0.8" />
<text transform="translate(159.7,153.6) rotate(-45)" font-size="6.8" text-anchor="end" fill="#333" stroke="#333">Gran.</text>
<line x1="176.36" y1="144.60" x2="176.36" y2="147.50" stroke="#333333" stroke-width="0.8" />
<text transform="translate(177.4,153.6) rotate(-45)" font-size="6.8" text-anchor="end" fill="#333" stroke="#333">Mono.</text>
<line x1="194.04" y1="144.60" x2="194.04" y2="147.50" stroke="#333333" stroke-width="0.8" />
<text transform="translate(195.0,153.6) rotate(-45)" font-size="6.8" text-anchor="end" fill="#333" stroke="#333">MEP</text>
<line x1="211.71" y1="144.60" x2="211.71" y2="147.50" stroke="#333333" stroke-width="0.8" />
<text transform="translate(212.7,153.6) rotate(-45)" font-size="6.8" text-anchor="end" fill="#333" stroke="#333">CLP</text>
<line x1="229.39" y1="144.60" x2="229.39" y2="147.50" stroke="#333333" stroke-width="0.8" />
<text transform="translate(230.4,153.6) rotate(-45)" font-size="6.8" text-anchor="end" fill="#333" stroke="#333">B Cell</text>
<line x1="247.06" y1="144.60" x2="247.06" y2="147.50" stroke="#333333" stroke-width="0.8" />
<text transform="translate(248.1,153.6) rotate(-45)" font-size="6.8" text-anchor="end" fill="#333" stroke="#333">T Cell</text>
<defs><linearGradient id="cb" x1="0" y1="1" x2="0" y2="0"><stop offset="0.0" stop-color="#f4f9fd"/><stop offset="0.03" stop-color="#f0f7fc"/><stop offset="0.114" stop-color="#dceef9"/><stop offset="0.197" stop-color="#c0e2f5"/><stop offset="0.28" stop-color="#96d2f0"/><stop offset="0.36" stop-color="#6cc3ea"/><stop offset="0.443" stop-color="#46b6e6"/><stop offset="0.525" stop-color="#26a8df"/><stop offset="0.6" stop-color="#1a94d2"/><stop offset="0.7" stop-color="#1076be"/><stop offset="0.82" stop-color="#0c5eaa"/><stop offset="0.9" stop-color="#0a4a94"/><stop offset="1.0" stop-color="#08306b"/></linearGradient></defs>
<rect x="260.00" y="22.30" width="8.60" height="121.60" fill="url(#cb)" />
<line x1="268.60" y1="44.50" x2="271.50" y2="44.50" stroke="#333333" stroke-width="0.6" />
<text x="274.2" y="46.9" font-size="6.6" fill="#333" stroke="#333">10<tspan dy="-2.8" font-size="4.4">−1</tspan></text>
<line x1="268.60" y1="77.80" x2="271.50" y2="77.80" stroke="#333333" stroke-width="0.6" />
<text x="274.2" y="80.2" font-size="6.6" fill="#333" stroke="#333">10<tspan dy="-2.8" font-size="4.4">−2</tspan></text>
<line x1="268.60" y1="111.00" x2="271.50" y2="111.00" stroke="#333333" stroke-width="0.6" />
<text x="274.2" y="113.4" font-size="6.6" fill="#333" stroke="#333">10<tspan dy="-2.8" font-size="4.4">−3</tspan></text>
<line x1="268.60" y1="144.20" x2="271.50" y2="144.20" stroke="#333333" stroke-width="0.6" />
<text x="274.2" y="146.6" font-size="6.6" fill="#333" stroke="#333">10<tspan dy="-2.8" font-size="4.4">−4</tspan></text>
<line x1="268.60" y1="134.20" x2="270.40" y2="134.20" stroke="#444" stroke-width="0.5" />
<line x1="268.60" y1="128.35" x2="270.40" y2="128.35" stroke="#444" stroke-width="0.5" />
<line x1="268.60" y1="124.19" x2="270.40" y2="124.19" stroke="#444" stroke-width="0.5" />
<line x1="268.60" y1="120.97" x2="270.40" y2="120.97" stroke="#444" stroke-width="0.5" />
<line x1="268.60" y1="118.34" x2="270.40" y2="118.34" stroke="#444" stroke-width="0.5" />
<line x1="268.60" y1="116.12" x2="270.40" y2="116.12" stroke="#444" stroke-width="0.5" />
<line x1="268.60" y1="114.19" x2="270.40" y2="114.19" stroke="#444" stroke-width="0.5" />
<line x1="268.60" y1="112.49" x2="270.40" y2="112.49" stroke="#444" stroke-width="0.5" />
<line x1="268.60" y1="100.97" x2="270.40" y2="100.97" stroke="#444" stroke-width="0.5" />
<line x1="268.60" y1="95.12" x2="270.40" y2="95.12" stroke="#444" stroke-width="0.5" />
<line x1="268.60" y1="90.96" x2="270.40" y2="90.96" stroke="#444" stroke-width="0.5" />
<line x1="268.60" y1="87.74" x2="270.40" y2="87.74" stroke="#444" stroke-width="0.5" />
<line x1="268.60" y1="85.11" x2="270.40" y2="85.11" stroke="#444" stroke-width="0.5" />
<line x1="268.60" y1="82.89" x2="270.40" y2="82.89" stroke="#444" stroke-width="0.5" />
<line x1="268.60" y1="80.96" x2="270.40" y2="80.96" stroke="#444" stroke-width="0.5" />
<line x1="268.60" y1="79.26" x2="270.40" y2="79.26" stroke="#444" stroke-width="0.5" />
<line x1="268.60" y1="67.74" x2="270.40" y2="67.74" stroke="#444" stroke-width="0.5" />
<line x1="268.60" y1="61.89" x2="270.40" y2="61.89" stroke="#444" stroke-width="0.5" />
<line x1="268.60" y1="57.73" x2="270.40" y2="57.73" stroke="#444" stroke-width="0.5" />
<line x1="268.60" y1="54.51" x2="270.40" y2="54.51" stroke="#444" stroke-width="0.5" />
<line x1="268.60" y1="51.88" x2="270.40" y2="51.88" stroke="#444" stroke-width="0.5" />
<line x1="268.60" y1="49.66" x2="270.40" y2="49.66" stroke="#444" stroke-width="0.5" />
<line x1="268.60" y1="47.73" x2="270.40" y2="47.73" stroke="#444" stroke-width="0.5" />
<line x1="268.60" y1="46.03" x2="270.40" y2="46.03" stroke="#444" stroke-width="0.5" />
<line x1="268.60" y1="34.51" x2="270.40" y2="34.51" stroke="#444" stroke-width="0.5" />
<line x1="268.60" y1="28.66" x2="270.40" y2="28.66" stroke="#444" stroke-width="0.5" />
<line x1="268.60" y1="24.50" x2="270.40" y2="24.50" stroke="#444" stroke-width="0.5" />
<text x="260.4" y="157.2" font-size="6.8" text-anchor="start" fill="#333" stroke="#333" font-weight="normal" textLength="18.21" lengthAdjust="spacingAndGlyphs" >% Cell</text>
<text x="260.4" y="165.2" font-size="6.8" text-anchor="start" fill="#333" stroke="#333" font-weight="normal" textLength="13.66" lengthAdjust="spacingAndGlyphs" >Type</text>
<text x="43.8" y="186.0" font-size="6.91" text-anchor="start" fill="#333" stroke="#333" font-weight="normal" textLength="74.8" lengthAdjust="spacingAndGlyphs" >Colors apply to Fig. 3 A-E:</text>
<rect x="44.00" y="196.60" width="5.80" height="5.60" fill="#d8645c" />
<text x="53" y="201.0" font-size="6.48" text-anchor="start" fill="#333" stroke="#333" font-weight="normal" textLength="33.68" lengthAdjust="spacingAndGlyphs" >Myeloid-bias</text>
<rect x="44.00" y="209.00" width="5.80" height="5.60" fill="#6a977a" />
<text x="53" y="213.4" font-size="6.48" text-anchor="start" fill="#333" stroke="#333" font-weight="normal" textLength="38.8" lengthAdjust="spacingAndGlyphs" >Lymphoid-bias</text>
<rect x="44.00" y="221.20" width="5.80" height="5.60" fill="#6577aa" />
<text x="53" y="225.6" font-size="6.48" text-anchor="start" fill="#333" stroke="#333" font-weight="normal" textLength="36.69" lengthAdjust="spacingAndGlyphs" >Self-renewing</text>
<rect x="100.00" y="196.60" width="5.80" height="5.60" fill="#17488a" />
<text x="109" y="201.0" font-size="6.48" text-anchor="start" fill="#333" stroke="#333" font-weight="normal" textLength="19.34" lengthAdjust="spacingAndGlyphs" >Control</text>
<rect x="100.00" y="209.00" width="5.80" height="5.60" fill="#f59212" />
<text x="109" y="213.4" font-size="6.48" text-anchor="start" fill="#333" stroke="#333" font-weight="normal" textLength="21.68" lengthAdjust="spacingAndGlyphs" >Tet2 KO</text>
<rect x="139.50" y="196.60" width="5.80" height="5.60" fill="#0f6350" />
<text x="148.5" y="201.0" font-size="6.48" text-anchor="start" fill="#333" stroke="#333" font-weight="normal" textLength="74.04" lengthAdjust="spacingAndGlyphs" >Tet2 KO normally expanded</text>
<rect x="139.50" y="209.00" width="5.80" height="5.60" fill="#561f66" />
<text x="148.5" y="213.4" font-size="6.48" text-anchor="start" fill="#333" stroke="#333" font-weight="normal" textLength="61.38" lengthAdjust="spacingAndGlyphs" >Tet2 KO overexpanded</text>
<text x="301.6" y="16.1" font-size="12.0" text-anchor="start" fill="#111" font-weight="bold" stroke="#111" stroke-width="0.4">B</text>
<line x1="334.60" y1="26.50" x2="334.60" y2="114.00" stroke="#222" stroke-width="1.1" />
<line x1="334.10" y1="113.50" x2="513.50" y2="113.50" stroke="#222" stroke-width="1.1" />
<line x1="331.50" y1="113.60" x2="335.00" y2="113.60" stroke="#333333" stroke-width="0.8" />
<text x="329.4" y="115.89999999999999" font-size="7.34" text-anchor="end" fill="#333" stroke="#333" font-weight="normal" textLength="13.24" lengthAdjust="spacingAndGlyphs" >0.00</text>
<line x1="331.50" y1="99.35" x2="335.00" y2="99.35" stroke="#333333" stroke-width="0.8" />
<text x="329.4" y="101.64999999999999" font-size="7.34" text-anchor="end" fill="#333" stroke="#333" font-weight="normal" textLength="13.24" lengthAdjust="spacingAndGlyphs" >0.01</text>
<line x1="331.50" y1="85.10" x2="335.00" y2="85.10" stroke="#333333" stroke-width="0.8" />
<text x="329.4" y="87.39999999999999" font-size="7.34" text-anchor="end" fill="#333" stroke="#333" font-weight="normal" textLength="13.24" lengthAdjust="spacingAndGlyphs" >0.02</text>
<line x1="331.50" y1="70.85" x2="335.00" y2="70.85" stroke="#333333" stroke-width="0.8" />
<text x="329.4" y="73.14999999999999" font-size="7.34" text-anchor="end" fill="#333" stroke="#333" font-weight="normal" textLength="13.24" lengthAdjust="spacingAndGlyphs" >0.03</text>
<line x1="331.50" y1="56.60" x2="335.00" y2="56.60" stroke="#333333" stroke-width="0.8" />
<text x="329.4" y="58.89999999999999" font-size="7.34" text-anchor="end" fill="#333" stroke="#333" font-weight="normal" textLength="13.24" lengthAdjust="spacingAndGlyphs" >0.04</text>
<line x1="331.50" y1="42.35" x2="335.00" y2="42.35" stroke="#333333" stroke-width="0.8" />
<text x="329.4" y="44.64999999999999" font-size="7.34" text-anchor="end" fill="#333" stroke="#333" font-weight="normal" textLength="13.24" lengthAdjust="spacingAndGlyphs" >0.05</text>
<line x1="331.50" y1="28.10" x2="335.00" y2="28.10" stroke="#333333" stroke-width="0.8" />
<text x="329.4" y="30.399999999999995" font-size="7.34" text-anchor="end" fill="#333" stroke="#333" font-weight="normal" textLength="13.24" lengthAdjust="spacingAndGlyphs" >0.06</text>
<text transform="translate(311.2,69.9) rotate(-90)" font-size="7.2" text-anchor="middle" fill="#333" textLength="86.5" lengthAdjust="spacingAndGlyphs" stroke="#333">Clonal abundance (% cell type)</text>
<rect x="340.80" y="97.10" width="3.98" height="15.90" fill="#3c4350" stroke="#555" stroke-width="0.25"/>
<rect x="344.78" y="97.10" width="3.98" height="15.90" fill="#626a78" stroke="#555" stroke-width="0.25"/>
<rect x="348.76" y="79.80" width="3.98" height="33.20" fill="#a2a4ae" stroke="#555" stroke-width="0.25"/>
<rect x="352.74" y="81.00" width="3.98" height="32.00" fill="#d2d4da" stroke="#555" stroke-width="0.25"/>
<rect x="356.72" y="79.20" width="3.98" height="33.80" fill="#c0142c" stroke="#555" stroke-width="0.25"/>
<rect x="360.70" y="77.50" width="3.98" height="35.50" fill="#d63a3c" stroke="#555" stroke-width="0.25"/>
<rect x="364.68" y="85.00" width="3.98" height="28.00" fill="#e4705e" stroke="#555" stroke-width="0.25"/>
<rect x="368.66" y="78.70" width="3.98" height="34.30" fill="#f0a08c" stroke="#555" stroke-width="0.25"/>
<rect x="372.64" y="78.70" width="3.98" height="34.30" fill="#f6cbbf" stroke="#555" stroke-width="0.25"/>
<rect x="376.62" y="87.90" width="3.98" height="25.10" fill="#2c9ad0" stroke="#555" stroke-width="0.25"/>
<rect x="380.60" y="100.60" width="3.98" height="12.40" fill="#92c6ea" stroke="#555" stroke-width="0.25"/>
<rect x="384.58" y="104.00" width="3.98" height="9.00" fill="#d2e6f6" stroke="#555" stroke-width="0.25"/>
<line x1="342.79" y1="95.60" x2="342.79" y2="98.60" stroke="#4a4444" stroke-width="0.8" />
<line x1="341.99" y1="95.60" x2="343.59" y2="95.60" stroke="#4a4444" stroke-width="0.6" />
<line x1="346.77" y1="95.60" x2="346.77" y2="98.60" stroke="#4a4444" stroke-width="0.8" />
<line x1="345.97" y1="95.60" x2="347.57" y2="95.60" stroke="#4a4444" stroke-width="0.6" />
<line x1="350.75" y1="77.30" x2="350.75" y2="82.30" stroke="#4a4444" stroke-width="0.8" />
<line x1="349.95" y1="77.30" x2="351.55" y2="77.30" stroke="#4a4444" stroke-width="0.6" />
<line x1="354.73" y1="77.50" x2="354.73" y2="84.50" stroke="#4a4444" stroke-width="0.8" />
<line x1="353.93" y1="77.50" x2="355.53" y2="77.50" stroke="#4a4444" stroke-width="0.6" />
<line x1="358.71" y1="77.20" x2="358.71" y2="81.20" stroke="#4a4444" stroke-width="0.8" />
<line x1="357.91" y1="77.20" x2="359.51" y2="77.20" stroke="#4a4444" stroke-width="0.6" />
<line x1="362.69" y1="75.00" x2="362.69" y2="80.00" stroke="#4a4444" stroke-width="0.8" />
<line x1="361.89" y1="75.00" x2="363.49" y2="75.00" stroke="#4a4444" stroke-width="0.6" />
<line x1="366.67" y1="83.00" x2="366.67" y2="87.00" stroke="#4a4444" stroke-width="0.8" />
<line x1="365.87" y1="83.00" x2="367.47" y2="83.00" stroke="#4a4444" stroke-width="0.6" />
<line x1="370.65" y1="76.20" x2="370.65" y2="81.20" stroke="#4a4444" stroke-width="0.8" />
<line x1="369.85" y1="76.20" x2="371.45" y2="76.20" stroke="#4a4444" stroke-width="0.6" />
<line x1="374.63" y1="76.20" x2="374.63" y2="81.20" stroke="#4a4444" stroke-width="0.8" />
<line x1="373.83" y1="76.20" x2="375.43" y2="76.20" stroke="#4a4444" stroke-width="0.6" />
<line x1="378.61" y1="86.10" x2="378.61" y2="89.70" stroke="#4a4444" stroke-width="0.8" />
<line x1="377.81" y1="86.10" x2="379.41" y2="86.10" stroke="#4a4444" stroke-width="0.6" />
<line x1="382.59" y1="99.10" x2="382.59" y2="102.10" stroke="#4a4444" stroke-width="0.8" />
<line x1="381.79" y1="99.10" x2="383.39" y2="99.10" stroke="#4a4444" stroke-width="0.6" />
<line x1="386.57" y1="102.80" x2="386.57" y2="105.20" stroke="#4a4444" stroke-width="0.8" />
<line x1="385.77" y1="102.80" x2="387.37" y2="102.80" stroke="#4a4444" stroke-width="0.6" />
<rect x="400.10" y="101.70" width="3.98" height="11.30" fill="#3c4350" stroke="#555" stroke-width="0.25"/>
<rect x="404.08" y="104.60" width="3.98" height="8.40" fill="#626a78" stroke="#555" stroke-width="0.25"/>
<rect x="408.06" y="90.90" width="3.98" height="22.10" fill="#a2a4ae" stroke="#555" stroke-width="0.25"/>
<rect x="412.04" y="76.40" width="3.98" height="36.60" fill="#d2d4da" stroke="#555" stroke-width="0.25"/>
<rect x="416.02" y="90.60" width="3.98" height="22.40" fill="#c0142c" stroke="#555" stroke-width="0.25"/>
<rect x="420.00" y="89.10" width="3.98" height="23.90" fill="#d63a3c" stroke="#555" stroke-width="0.25"/>
<rect x="423.98" y="90.60" width="3.98" height="22.40" fill="#e4705e" stroke="#555" stroke-width="0.25"/>
<rect x="427.96" y="89.10" width="3.98" height="23.90" fill="#f0a08c" stroke="#555" stroke-width="0.25"/>
<rect x="431.94" y="90.60" width="3.98" height="22.40" fill="#f6cbbf" stroke="#555" stroke-width="0.25"/>
<rect x="435.92" y="80.70" width="3.98" height="32.30" fill="#2c9ad0" stroke="#555" stroke-width="0.25"/>
<rect x="439.90" y="40.90" width="3.98" height="72.10" fill="#92c6ea" stroke="#555" stroke-width="0.25"/>
<rect x="443.88" y="51.70" width="3.98" height="61.30" fill="#d2e6f6" stroke="#555" stroke-width="0.25"/>
<line x1="402.09" y1="100.20" x2="402.09" y2="103.20" stroke="#4a4444" stroke-width="0.8" />
<line x1="401.29" y1="100.20" x2="402.89" y2="100.20" stroke="#4a4444" stroke-width="0.6" />
<line x1="406.07" y1="103.40" x2="406.07" y2="105.80" stroke="#4a4444" stroke-width="0.8" />
<line x1="405.27" y1="103.40" x2="406.87" y2="103.40" stroke="#4a4444" stroke-width="0.6" />
<line x1="410.05" y1="87.90" x2="410.05" y2="93.90" stroke="#4a4444" stroke-width="0.8" />
<line x1="409.25" y1="87.90" x2="410.85" y2="87.90" stroke="#4a4444" stroke-width="0.6" />
<line x1="414.03" y1="70.40" x2="414.03" y2="82.40" stroke="#4a4444" stroke-width="0.8" />
<line x1="413.23" y1="70.40" x2="414.83" y2="70.40" stroke="#4a4444" stroke-width="0.6" />
<line x1="418.01" y1="88.60" x2="418.01" y2="92.60" stroke="#4a4444" stroke-width="0.8" />
<line x1="417.21" y1="88.60" x2="418.81" y2="88.60" stroke="#4a4444" stroke-width="0.6" />
<line x1="421.99" y1="86.60" x2="421.99" y2="91.60" stroke="#4a4444" stroke-width="0.8" />
<line x1="421.19" y1="86.60" x2="422.79" y2="86.60" stroke="#4a4444" stroke-width="0.6" />
<line x1="425.97" y1="88.60" x2="425.97" y2="92.60" stroke="#4a4444" stroke-width="0.8" />
<line x1="425.17" y1="88.60" x2="426.77" y2="88.60" stroke="#4a4444" stroke-width="0.6" />
<line x1="429.95" y1="86.60" x2="429.95" y2="91.60" stroke="#4a4444" stroke-width="0.8" />
<line x1="429.15" y1="86.60" x2="430.75" y2="86.60" stroke="#4a4444" stroke-width="0.6" />
<line x1="433.93" y1="88.10" x2="433.93" y2="93.10" stroke="#4a4444" stroke-width="0.8" />
<line x1="433.13" y1="88.10" x2="434.73" y2="88.10" stroke="#4a4444" stroke-width="0.6" />
<line x1="437.91" y1="77.70" x2="437.91" y2="83.70" stroke="#4a4444" stroke-width="0.8" />
<line x1="437.11" y1="77.70" x2="438.71" y2="77.70" stroke="#4a4444" stroke-width="0.6" />
<line x1="441.89" y1="30.90" x2="441.89" y2="50.90" stroke="#4a4444" stroke-width="0.8" />
<line x1="441.09" y1="30.90" x2="442.69" y2="30.90" stroke="#4a4444" stroke-width="0.6" />
<line x1="445.87" y1="45.70" x2="445.87" y2="57.70" stroke="#4a4444" stroke-width="0.8" />
<line x1="445.07" y1="45.70" x2="446.67" y2="45.70" stroke="#4a4444" stroke-width="0.6" />
<rect x="459.70" y="95.10" width="3.98" height="17.90" fill="#3c4350" stroke="#555" stroke-width="0.25"/>
<rect x="463.68" y="99.20" width="3.98" height="13.80" fill="#626a78" stroke="#555" stroke-width="0.25"/>
<rect x="467.66" y="110.80" width="3.98" height="2.20" fill="#a2a4ae" stroke="#555" stroke-width="0.25"/>
<rect x="471.64" y="112.00" width="3.98" height="1.00" fill="#d2d4da" stroke="#555" stroke-width="0.25"/>
<rect x="475.62" y="110.80" width="3.98" height="2.20" fill="#c0142c" stroke="#555" stroke-width="0.25"/>
<rect x="479.60" y="110.50" width="3.98" height="2.50" fill="#d63a3c" stroke="#555" stroke-width="0.25"/>
<rect x="483.58" y="108.40" width="3.98" height="4.60" fill="#e4705e" stroke="#555" stroke-width="0.25"/>
<rect x="487.56" y="110.00" width="3.98" height="3.00" fill="#f0a08c" stroke="#555" stroke-width="0.25"/>
<rect x="491.54" y="110.50" width="3.98" height="2.50" fill="#f6cbbf" stroke="#555" stroke-width="0.25"/>
<rect x="495.52" y="109.60" width="3.98" height="3.40" fill="#2c9ad0" stroke="#555" stroke-width="0.25"/>
<rect x="499.50" y="111.50" width="3.98" height="1.50" fill="#92c6ea" stroke="#555" stroke-width="0.25"/>
<rect x="503.48" y="111.00" width="3.98" height="2.00" fill="#d2e6f6" stroke="#555" stroke-width="0.25"/>
<line x1="461.69" y1="94.10" x2="461.69" y2="96.10" stroke="#4a4444" stroke-width="0.8" />
<line x1="460.89" y1="94.10" x2="462.49" y2="94.10" stroke="#4a4444" stroke-width="0.6" />
<line x1="465.67" y1="97.70" x2="465.67" y2="100.70" stroke="#4a4444" stroke-width="0.8" />
<line x1="464.87" y1="97.70" x2="466.47" y2="97.70" stroke="#4a4444" stroke-width="0.6" />
<line x1="469.65" y1="110.30" x2="469.65" y2="111.30" stroke="#4a4444" stroke-width="0.8" />
<line x1="468.85" y1="110.30" x2="470.45" y2="110.30" stroke="#4a4444" stroke-width="0.6" />
<line x1="473.63" y1="111.60" x2="473.63" y2="112.40" stroke="#4a4444" stroke-width="0.8" />
<line x1="472.83" y1="111.60" x2="474.43" y2="111.60" stroke="#4a4444" stroke-width="0.6" />
<line x1="477.61" y1="110.30" x2="477.61" y2="111.30" stroke="#4a4444" stroke-width="0.8" />
<line x1="476.81" y1="110.30" x2="478.41" y2="110.30" stroke="#4a4444" stroke-width="0.6" />
<line x1="481.59" y1="109.90" x2="481.59" y2="111.10" stroke="#4a4444" stroke-width="0.8" />
<line x1="480.79" y1="109.90" x2="482.39" y2="109.90" stroke="#4a4444" stroke-width="0.6" />
<line x1="485.57" y1="107.60" x2="485.57" y2="109.20" stroke="#4a4444" stroke-width="0.8" />
<line x1="484.77" y1="107.60" x2="486.37" y2="107.60" stroke="#4a4444" stroke-width="0.6" />
<line x1="489.55" y1="109.50" x2="489.55" y2="110.50" stroke="#4a4444" stroke-width="0.8" />
<line x1="488.75" y1="109.50" x2="490.35" y2="109.50" stroke="#4a4444" stroke-width="0.6" />
<line x1="493.53" y1="110.00" x2="493.53" y2="111.00" stroke="#4a4444" stroke-width="0.8" />
<line x1="492.73" y1="110.00" x2="494.33" y2="110.00" stroke="#4a4444" stroke-width="0.6" />
<line x1="497.51" y1="109.00" x2="497.51" y2="110.20" stroke="#4a4444" stroke-width="0.8" />
<line x1="496.71" y1="109.00" x2="498.31" y2="109.00" stroke="#4a4444" stroke-width="0.6" />
<line x1="501.49" y1="111.10" x2="501.49" y2="111.90" stroke="#4a4444" stroke-width="0.8" />
<line x1="500.69" y1="111.10" x2="502.29" y2="111.10" stroke="#4a4444" stroke-width="0.6" />
<line x1="505.47" y1="110.60" x2="505.47" y2="111.40" stroke="#4a4444" stroke-width="0.8" />
<line x1="504.67" y1="110.60" x2="506.27" y2="110.60" stroke="#4a4444" stroke-width="0.6" />
<line x1="364.70" y1="114.00" x2="364.70" y2="117.00" stroke="#333333" stroke-width="0.8" />
<text x="364.7" y="125.5" font-size="6.8" text-anchor="middle" fill="#e28080" stroke="#e28080" font-weight="normal" textLength="35.37" lengthAdjust="spacingAndGlyphs" >Myeloid-bias</text>
<line x1="424.00" y1="114.00" x2="424.00" y2="117.00" stroke="#333333" stroke-width="0.8" />
<text x="424" y="125.5" font-size="6.8" text-anchor="middle" fill="#9aa5a2" stroke="#9aa5a2" font-weight="normal" textLength="40.74" lengthAdjust="spacingAndGlyphs" >Lymphoid-bias</text>
<line x1="483.60" y1="114.00" x2="483.60" y2="117.00" stroke="#333333" stroke-width="0.8" />
<text x="483.6" y="125.5" font-size="6.8" text-anchor="middle" fill="#8a93c6" stroke="#8a93c6" font-weight="normal" textLength="38.52" lengthAdjust="spacingAndGlyphs" >Self-renewing</text>
<text x="364.4" y="141.1" font-size="6.8" text-anchor="middle" fill="#333" stroke="#333" font-weight="normal" textLength="25.83" lengthAdjust="spacingAndGlyphs" >HSC/MPP</text>
<line x1="343.10" y1="145.00" x2="385.70" y2="145.00" stroke="#444" stroke-width="1.0" />
<text x="416.8" y="141.1" font-size="6.8" text-anchor="middle" fill="#333" stroke="#333" font-weight="normal" textLength="21.71" lengthAdjust="spacingAndGlyphs" >Myeloid</text>
<line x1="395.20" y1="145.00" x2="437.60" y2="145.00" stroke="#444" stroke-width="1.0" />
<text x="468.5" y="141.1" font-size="6.8" text-anchor="middle" fill="#333" stroke="#333" font-weight="normal" textLength="27.08" lengthAdjust="spacingAndGlyphs" >Lymphoid</text>
<line x1="446.90" y1="145.00" x2="490.00" y2="145.00" stroke="#444" stroke-width="1.0" />
<rect x="349.20" y="147.70" width="6.00" height="6.00" fill="#3c4350" />
<text x="358.4" y="152.89999999999998" font-size="6.8" text-anchor="start" fill="#333" stroke="#333" font-weight="normal" textLength="11.71" lengthAdjust="spacingAndGlyphs" >HSC</text>
<rect x="349.20" y="157.20" width="6.00" height="6.00" fill="#626a78" />
<text x="358.4" y="162.39999999999998" font-size="6.8" text-anchor="start" fill="#333" stroke="#333" font-weight="normal" textLength="19.72" lengthAdjust="spacingAndGlyphs" >MPP1/2</text>
<rect x="349.20" y="166.50" width="6.00" height="6.00" fill="#a2a4ae" />
<text x="358.4" y="171.7" font-size="6.8" text-anchor="start" fill="#333" stroke="#333" font-weight="normal" textLength="15.1" lengthAdjust="spacingAndGlyphs" >MPP3</text>
<rect x="349.20" y="175.70" width="6.00" height="6.00" fill="#d2d4da" />
<text x="358.4" y="180.89999999999998" font-size="6.8" text-anchor="start" fill="#333" stroke="#333" font-weight="normal" textLength="15.1" lengthAdjust="spacingAndGlyphs" >MPP4</text>
<rect x="403.30" y="147.70" width="6.00" height="6.00" fill="#c0142c" />
<text x="412.1" y="152.89999999999998" font-size="6.8" text-anchor="start" fill="#333" stroke="#333" font-weight="normal" textLength="12.32" lengthAdjust="spacingAndGlyphs" >CMP</text>
<rect x="403.30" y="157.20" width="6.00" height="6.00" fill="#d63a3c" />
<text x="412.1" y="162.39999999999998" font-size="6.8" text-anchor="start" fill="#333" stroke="#333" font-weight="normal" textLength="12.63" lengthAdjust="spacingAndGlyphs" >GMP</text>
<rect x="403.30" y="166.50" width="6.00" height="6.00" fill="#e4705e" />
<text x="412.1" y="171.7" font-size="6.8" text-anchor="start" fill="#333" stroke="#333" font-weight="normal" textLength="15.76" lengthAdjust="spacingAndGlyphs" >Gran.</text>
<rect x="403.30" y="175.70" width="6.00" height="6.00" fill="#f0a08c" />
<text x="412.1" y="180.89999999999998" font-size="6.8" text-anchor="start" fill="#333" stroke="#333" font-weight="normal" textLength="17.51" lengthAdjust="spacingAndGlyphs" >Mono.</text>
<rect x="403.30" y="184.70" width="6.00" height="6.00" fill="#f6cbbf" />
<text x="412.1" y="189.89999999999998" font-size="6.8" text-anchor="start" fill="#333" stroke="#333" font-weight="normal" textLength="12.01" lengthAdjust="spacingAndGlyphs" >MEP</text>
<rect x="456.60" y="147.70" width="6.00" height="6.00" fill="#2c9ad0" />
<text x="465.6" y="152.89999999999998" font-size="6.8" text-anchor="start" fill="#333" stroke="#333" font-weight="normal" textLength="10.79" lengthAdjust="spacingAndGlyphs" >CLP</text>
<rect x="456.60" y="157.20" width="6.00" height="6.00" fill="#92c6ea" />
<text x="465.6" y="162.39999999999998" font-size="6.8" text-anchor="start" fill="#333" stroke="#333" font-weight="normal" textLength="15.41" lengthAdjust="spacingAndGlyphs" >B cell</text>
<rect x="456.60" y="166.50" width="6.00" height="6.00" fill="#d2e6f6" />
<text x="465.6" y="171.7" font-size="6.8" text-anchor="start" fill="#333" stroke="#333" font-weight="normal" textLength="14.94" lengthAdjust="spacingAndGlyphs" >T cell</text>
<text x="87.6" y="251.9" font-size="12.0" text-anchor="start" fill="#111" font-weight="bold" stroke="#111" stroke-width="0.4">C</text>
<text x="179" y="252.4" font-size="8.53" text-anchor="middle" fill="#333" stroke="#333" font-weight="normal" textLength="28.54" lengthAdjust="spacingAndGlyphs" >Tet2 KO</text>
<text x="178.5" y="262.0" font-size="8.53" text-anchor="middle" fill="#333" stroke="#333" font-weight="normal" textLength="75.9" lengthAdjust="spacingAndGlyphs" >overexpanded clones</text>
<line x1="134.60" y1="266.30" x2="134.60" y2="382.00" stroke="#222" stroke-width="1.1" />
<line x1="134.10" y1="381.50" x2="222.80" y2="381.50" stroke="#222" stroke-width="1.1" />
<rect x="134.80" y="270.80" width="81.72" height="13.80" fill="#c6c6cc" />
<rect x="134.80" y="285.80" width="49.85" height="13.90" fill="#465268" />
<rect x="134.80" y="309.40" width="9.81" height="13.00" fill="#c6c6cc" />
<rect x="134.80" y="324.30" width="13.48" height="14.00" fill="#465268" />
<rect x="134.80" y="347.00" width="39.84" height="14.20" fill="#c6c6cc" />
<rect x="134.80" y="362.60" width="67.62" height="14.00" fill="#465268" />
<line x1="131.20" y1="285.50" x2="134.60" y2="285.50" stroke="#333333" stroke-width="0.8" />
<line x1="131.20" y1="323.70" x2="134.60" y2="323.70" stroke="#333333" stroke-width="0.8" />
<line x1="131.20" y1="361.80" x2="134.60" y2="361.80" stroke="#333333" stroke-width="0.8" />
<line x1="134.80" y1="381.60" x2="134.80" y2="384.60" stroke="#333333" stroke-width="0.8" />
<text x="134.8" y="392.8" font-size="7.34" text-anchor="middle" fill="#333" stroke="#333" font-weight="normal" textLength="3.78" lengthAdjust="spacingAndGlyphs" >0</text>
<line x1="155.23" y1="381.60" x2="155.23" y2="384.60" stroke="#333333" stroke-width="0.8" />
<text x="155.23000000000002" y="392.8" font-size="7.34" text-anchor="middle" fill="#333" stroke="#333" font-weight="normal" textLength="7.56" lengthAdjust="spacingAndGlyphs" >10</text>
<line x1="175.66" y1="381.60" x2="175.66" y2="384.60" stroke="#333333" stroke-width="0.8" />
<text x="175.66000000000003" y="392.8" font-size="7.34" text-anchor="middle" fill="#333" stroke="#333" font-weight="normal" textLength="7.56" lengthAdjust="spacingAndGlyphs" >20</text>
<line x1="196.09" y1="381.60" x2="196.09" y2="384.60" stroke="#333333" stroke-width="0.8" />
<text x="196.09000000000003" y="392.8" font-size="7.34" text-anchor="middle" fill="#333" stroke="#333" font-weight="normal" textLength="7.56" lengthAdjust="spacingAndGlyphs" >30</text>
<line x1="216.52" y1="381.60" x2="216.52" y2="384.60" stroke="#333333" stroke-width="0.8" />
<text x="216.52" y="392.8" font-size="7.34" text-anchor="middle" fill="#333" stroke="#333" font-weight="normal" textLength="7.56" lengthAdjust="spacingAndGlyphs" >40</text>
<text x="178.5" y="404.4" font-size="9.29" text-anchor="middle" fill="#333" stroke="#333" font-weight="normal" textLength="39.2" lengthAdjust="spacingAndGlyphs" >Clone number</text>
<text x="115.5" y="283.6" font-size="7.02" text-anchor="middle" fill="#8a93c6" stroke="#8a93c6" font-weight="normal" textLength="13.37" lengthAdjust="spacingAndGlyphs" >Self-</text>
<text x="115.5" y="291.4" font-size="7.02" text-anchor="middle" fill="#8a93c6" stroke="#8a93c6" font-weight="normal" textLength="26.38" lengthAdjust="spacingAndGlyphs" >renewing</text>
<text x="114.5" y="322.3" font-size="7.02" text-anchor="middle" fill="#9aa5a2" stroke="#9aa5a2" font-weight="normal" textLength="30.11" lengthAdjust="spacingAndGlyphs" >Lymphoid-</text>
<text x="114.5" y="329.6" font-size="7.02" text-anchor="middle" fill="#9aa5a2" stroke="#9aa5a2" font-weight="normal" textLength="11.92" lengthAdjust="spacingAndGlyphs" >bias</text>
<text x="116" y="360.1" font-size="7.02" text-anchor="middle" fill="#e28080" stroke="#e28080" font-weight="normal" textLength="24.56" lengthAdjust="spacingAndGlyphs" >Myeloid-</text>
<text x="116" y="367.6" font-size="7.02" text-anchor="middle" fill="#e28080" stroke="#e28080" font-weight="normal" textLength="11.92" lengthAdjust="spacingAndGlyphs" >bias</text>
<text x="188.4" y="317.0" font-size="6.5" fill="#333" stroke="#333">χ<tspan dy="-2.5" font-size="4">2</tspan><tspan dy="2.5"> = 20.5</tspan></text>
<text x="189.7" y="329.2" font-size="6.5" fill="#333" stroke="#333"><tspan font-style="italic">P</tspan> &lt; .0001</text>
<rect x="137.30" y="415.00" width="5.80" height="5.80" fill="#c6c6cc" />
<text x="145.9" y="420.1" font-size="6.48" text-anchor="start" fill="#333" stroke="#333" font-weight="normal" textLength="25.02" lengthAdjust="spacingAndGlyphs" >Expected</text>
<rect x="186.50" y="415.00" width="5.80" height="5.80" fill="#465268" />
<text x="195" y="420.1" font-size="6.48" text-anchor="start" fill="#333" stroke="#333" font-weight="normal" textLength="26.01" lengthAdjust="spacingAndGlyphs" >Observed</text>
<text x="238.4" y="251.9" font-size="12.0" text-anchor="start" fill="#111" font-weight="bold" stroke="#111" stroke-width="0.4">D</text>
<line x1="286.30" y1="258.90" x2="286.30" y2="382.00" stroke="#222" stroke-width="1.1" />
<line x1="285.80" y1="381.50" x2="350.50" y2="381.50" stroke="#222" stroke-width="1.1" />
<rect x="286.30" y="264.30" width="28.03" height="28.60" fill="#17488a" />
<rect x="314.33" y="264.30" width="33.57" height="28.60" fill="#f59212" />
<rect x="286.30" y="305.50" width="39.42" height="28.90" fill="#17488a" />
<rect x="325.72" y="305.50" width="22.18" height="28.90" fill="#f59212" />
<rect x="286.30" y="347.00" width="32.03" height="28.40" fill="#17488a" />
<rect x="318.33" y="347.00" width="29.57" height="28.40" fill="#f59212" />
<line x1="282.80" y1="278.70" x2="286.30" y2="278.70" stroke="#333333" stroke-width="0.8" />
<line x1="282.80" y1="320.00" x2="286.30" y2="320.00" stroke="#333333" stroke-width="0.8" />
<line x1="282.80" y1="361.00" x2="286.30" y2="361.00" stroke="#333333" stroke-width="0.8" />
<line x1="286.30" y1="381.30" x2="286.30" y2="384.30" stroke="#333333" stroke-width="0.8" />
<text x="286.3" y="392.7" font-size="7.34" text-anchor="middle" fill="#333" stroke="#333" font-weight="normal" textLength="3.78" lengthAdjust="spacingAndGlyphs" >0</text>
<line x1="301.70" y1="381.30" x2="301.70" y2="384.30" stroke="#333333" stroke-width="0.8" />
<text x="301.7" y="392.7" font-size="7.34" text-anchor="middle" fill="#333" stroke="#333" font-weight="normal" textLength="7.56" lengthAdjust="spacingAndGlyphs" >25</text>
<line x1="317.10" y1="381.30" x2="317.10" y2="384.30" stroke="#333333" stroke-width="0.8" />
<text x="317.1" y="392.7" font-size="7.34" text-anchor="middle" fill="#333" stroke="#333" font-weight="normal" textLength="7.56" lengthAdjust="spacingAndGlyphs" >50</text>
<line x1="332.50" y1="381.30" x2="332.50" y2="384.30" stroke="#333333" stroke-width="0.8" />
<text x="332.5" y="392.7" font-size="7.34" text-anchor="middle" fill="#333" stroke="#333" font-weight="normal" textLength="7.56" lengthAdjust="spacingAndGlyphs" >75</text>
<line x1="347.90" y1="381.30" x2="347.90" y2="384.30" stroke="#333333" stroke-width="0.8" />
<text x="347.90000000000003" y="392.7" font-size="7.34" text-anchor="middle" fill="#333" stroke="#333" font-weight="normal" textLength="11.35" lengthAdjust="spacingAndGlyphs" >100</text>
<line x1="365.50" y1="258.90" x2="365.50" y2="382.00" stroke="#222" stroke-width="1.1" />
<line x1="365.00" y1="381.50" x2="430.00" y2="381.50" stroke="#222" stroke-width="1.1" />
<rect x="365.50" y="264.30" width="56.67" height="28.60" fill="#0f6350" />
<rect x="422.17" y="264.30" width="4.93" height="28.60" fill="#561f66" />
<rect x="365.50" y="305.50" width="50.51" height="28.90" fill="#0f6350" />
<rect x="416.01" y="305.50" width="11.09" height="28.90" fill="#561f66" />
<rect x="365.50" y="347.00" width="47.43" height="28.40" fill="#0f6350" />
<rect x="412.93" y="347.00" width="14.17" height="28.40" fill="#561f66" />
<line x1="362.00" y1="278.70" x2="365.50" y2="278.70" stroke="#333333" stroke-width="0.8" />
<line x1="362.00" y1="320.00" x2="365.50" y2="320.00" stroke="#333333" stroke-width="0.8" />
<line x1="362.00" y1="361.00" x2="365.50" y2="361.00" stroke="#333333" stroke-width="0.8" />
<line x1="365.50" y1="381.30" x2="365.50" y2="384.30" stroke="#333333" stroke-width="0.8" />
<text x="365.5" y="392.7" font-size="7.34" text-anchor="middle" fill="#333" stroke="#333" font-weight="normal" textLength="3.78" lengthAdjust="spacingAndGlyphs" >0</text>
<line x1="380.90" y1="381.30" x2="380.90" y2="384.30" stroke="#333333" stroke-width="0.8" />
<text x="380.9" y="392.7" font-size="7.34" text-anchor="middle" fill="#333" stroke="#333" font-weight="normal" textLength="7.56" lengthAdjust="spacingAndGlyphs" >25</text>
<line x1="396.30" y1="381.30" x2="396.30" y2="384.30" stroke="#333333" stroke-width="0.8" />
<text x="396.3" y="392.7" font-size="7.34" text-anchor="middle" fill="#333" stroke="#333" font-weight="normal" textLength="7.56" lengthAdjust="spacingAndGlyphs" >50</text>
<line x1="411.70" y1="381.30" x2="411.70" y2="384.30" stroke="#333333" stroke-width="0.8" />
<text x="411.7" y="392.7" font-size="7.34" text-anchor="middle" fill="#333" stroke="#333" font-weight="normal" textLength="7.56" lengthAdjust="spacingAndGlyphs" >75</text>
<line x1="427.10" y1="381.30" x2="427.10" y2="384.30" stroke="#333333" stroke-width="0.8" />
<text x="427.1" y="392.7" font-size="7.34" text-anchor="middle" fill="#333" stroke="#333" font-weight="normal" textLength="11.35" lengthAdjust="spacingAndGlyphs" >100</text>
<text x="357.7" y="404.6" font-size="9.29" text-anchor="middle" fill="#333" stroke="#333" font-weight="normal" textLength="51.4" lengthAdjust="spacingAndGlyphs" >Clone number (%)</text>
<text x="265" y="276.1" font-size="7.02" text-anchor="middle" fill="#8a93c6" stroke="#8a93c6" font-weight="normal" textLength="13.37" lengthAdjust="spacingAndGlyphs" >Self-</text>
<text x="265" y="285.2" font-size="7.02" text-anchor="middle" fill="#8a93c6" stroke="#8a93c6" font-weight="normal" textLength="26.38" lengthAdjust="spacingAndGlyphs" >renewing</text>
<text x="265" y="318.3" font-size="7.02" text-anchor="middle" fill="#9aa5a2" stroke="#9aa5a2" font-weight="normal" textLength="30.11" lengthAdjust="spacingAndGlyphs" >Lymphoid-</text>
<text x="265" y="326.3" font-size="7.02" text-anchor="middle" fill="#9aa5a2" stroke="#9aa5a2" font-weight="normal" textLength="11.92" lengthAdjust="spacingAndGlyphs" >bias</text>
<text x="265" y="359.9" font-size="7.02" text-anchor="middle" fill="#e28080" stroke="#e28080" font-weight="normal" textLength="24.56" lengthAdjust="spacingAndGlyphs" >Myeloid-</text>
<text x="265" y="367.1" font-size="7.02" text-anchor="middle" fill="#e28080" stroke="#e28080" font-weight="normal" textLength="11.92" lengthAdjust="spacingAndGlyphs" >bias</text>
<text x="32.6" y="446.0" font-size="12.0" text-anchor="start" fill="#111" font-weight="bold" stroke="#111" stroke-width="0.4">E</text>
<line x1="76.50" y1="451.50" x2="76.50" y2="564.00" stroke="#222" stroke-width="1.1" />
<line x1="76.00" y1="563.50" x2="186.50" y2="563.50" stroke="#222" stroke-width="1.1" />
<line x1="73.10" y1="559.20" x2="76.50" y2="559.20" stroke="#333333" stroke-width="0.8" />
<text x="70.4" y="561.5" font-size="7.02" text-anchor="end" fill="#333" stroke="#333" font-weight="normal" textLength="16.27" lengthAdjust="spacingAndGlyphs" >0.000</text>
<line x1="73.10" y1="539.45" x2="76.50" y2="539.45" stroke="#333333" stroke-width="0.8" />
<text x="70.4" y="541.75" font-size="7.02" text-anchor="end" fill="#333" stroke="#333" font-weight="normal" textLength="16.27" lengthAdjust="spacingAndGlyphs" >0.001</text>
<line x1="73.10" y1="519.70" x2="76.50" y2="519.70" stroke="#333333" stroke-width="0.8" />
<text x="70.4" y="522.0" font-size="7.02" text-anchor="end" fill="#333" stroke="#333" font-weight="normal" textLength="16.27" lengthAdjust="spacingAndGlyphs" >0.002</text>
<line x1="73.10" y1="499.95" x2="76.50" y2="499.95" stroke="#333333" stroke-width="0.8" />
<text x="70.4" y="502.25000000000006" font-size="7.02" text-anchor="end" fill="#333" stroke="#333" font-weight="normal" textLength="16.27" lengthAdjust="spacingAndGlyphs" >0.003</text>
<line x1="73.10" y1="480.20" x2="76.50" y2="480.20" stroke="#333333" stroke-width="0.8" />
<text x="70.4" y="482.50000000000006" font-size="7.02" text-anchor="end" fill="#333" stroke="#333" font-weight="normal" textLength="16.27" lengthAdjust="spacingAndGlyphs" >0.004</text>
<line x1="73.10" y1="460.45" x2="76.50" y2="460.45" stroke="#333333" stroke-width="0.8" />
<text x="70.4" y="462.75000000000006" font-size="7.02" text-anchor="end" fill="#333" stroke="#333" font-weight="normal" textLength="16.27" lengthAdjust="spacingAndGlyphs" >0.005</text>
<text x="133.6" y="445.6" font-size="8.53" text-anchor="middle" fill="#333" stroke="#333" font-weight="normal" textLength="15.68" lengthAdjust="spacingAndGlyphs" >HSC</text>
<circle cx="84.60" cy="541.00" r="1.15" fill="#1c2a48" stroke="#151520" stroke-width="0.5"/>
<circle cx="84.85" cy="559.40" r="1.15" fill="#1a5590" stroke="#151520" stroke-width="0.5"/>
<circle cx="84.82" cy="559.32" r="1.15" fill="#1a5590" stroke="#151520" stroke-width="0.5"/>
<circle cx="85.18" cy="559.17" r="1.15" fill="#1a5590" stroke="#151520" stroke-width="0.5"/>
<circle cx="84.81" cy="558.96" r="1.15" fill="#1a5590" stroke="#151520" stroke-width="0.5"/>
<circle cx="84.58" cy="558.70" r="1.15" fill="#1a5590" stroke="#151520" stroke-width="0.5"/>
<circle cx="84.97" cy="558.40" r="1.15" fill="#1a5590" stroke="#151520" stroke-width="0.5"/>
<circle cx="84.96" cy="558.07" r="1.15" fill="#1a5590" stroke="#151520" stroke-width="0.5"/>
<circle cx="84.43" cy="557.69" r="1.15" fill="#1a5590" stroke="#151520" stroke-width="0.5"/>
<circle cx="84.79" cy="557.29" r="1.15" fill="#1a5590" stroke="#151520" stroke-width="0.5"/>
<circle cx="84.38" cy="556.85" r="1.15" fill="#1a5590" stroke="#151520" stroke-width="0.5"/>
<circle cx="84.58" cy="556.38" r="1.15" fill="#1a5590" stroke="#151520" stroke-width="0.5"/>
<circle cx="84.75" cy="555.88" r="1.15" fill="#1a5590" stroke="#151520" stroke-width="0.5"/>
<circle cx="84.10" cy="555.36" r="1.15" fill="#1a5590" stroke="#151520" stroke-width="0.5"/>
<circle cx="85.08" cy="554.80" r="1.15" fill="#1a5590" stroke="#151520" stroke-width="0.5"/>
<circle cx="84.18" cy="554.23" r="1.15" fill="#1a5590" stroke="#151520" stroke-width="0.5"/>
<circle cx="84.36" cy="553.62" r="1.15" fill="#1a5590" stroke="#151520" stroke-width="0.5"/>
<circle cx="84.46" cy="552.99" r="1.15" fill="#1a5590" stroke="#151520" stroke-width="0.5"/>
<circle cx="84.10" cy="552.34" r="1.15" fill="#1a5590" stroke="#151520" stroke-width="0.5"/>
<circle cx="84.68" cy="551.66" r="1.15" fill="#1a5590" stroke="#151520" stroke-width="0.5"/>
<circle cx="84.39" cy="550.96" r="1.15" fill="#1a5590" stroke="#151520" stroke-width="0.5"/>
<circle cx="85.13" cy="550.24" r="1.15" fill="#1a5590" stroke="#151520" stroke-width="0.5"/>
<circle cx="84.64" cy="549.50" r="1.15" fill="#1a5590" stroke="#151520" stroke-width="0.5"/>
<circle cx="95.31" cy="559.40" r="1.15" fill="#137a5a" stroke="#151520" stroke-width="0.5"/>
<circle cx="95.60" cy="559.32" r="1.15" fill="#137a5a" stroke="#151520" stroke-width="0.5"/>
<circle cx="95.69" cy="559.15" r="1.15" fill="#137a5a" stroke="#151520" stroke-width="0.5"/>
<circle cx="95.15" cy="558.92" r="1.15" fill="#137a5a" stroke="#151520" stroke-width="0.5"/>
<circle cx="94.99" cy="558.65" r="1.15" fill="#137a5a" stroke="#151520" stroke-width="0.5"/>
<circle cx="95.25" cy="558.32" r="1.15" fill="#137a5a" stroke="#151520" stroke-width="0.5"/>
<circle cx="95.63" cy="557.96" r="1.15" fill="#137a5a" stroke="#151520" stroke-width="0.5"/>
<circle cx="95.59" cy="557.56" r="1.15" fill="#137a5a" stroke="#151520" stroke-width="0.5"/>
<circle cx="95.93" cy="557.12" r="1.15" fill="#137a5a" stroke="#151520" stroke-width="0.5"/>
<circle cx="95.12" cy="556.64" r="1.15" fill="#137a5a" stroke="#151520" stroke-width="0.5"/>
<circle cx="95.44" cy="556.14" r="1.15" fill="#137a5a" stroke="#151520" stroke-width="0.5"/>
<circle cx="95.84" cy="555.60" r="1.15" fill="#137a5a" stroke="#151520" stroke-width="0.5"/>
<circle cx="95.15" cy="555.03" r="1.15" fill="#137a5a" stroke="#151520" stroke-width="0.5"/>
<circle cx="95.38" cy="554.43" r="1.15" fill="#137a5a" stroke="#151520" stroke-width="0.5"/>
<circle cx="95.54" cy="553.81" r="1.15" fill="#137a5a" stroke="#151520" stroke-width="0.5"/>
<circle cx="95.63" cy="553.15" r="1.15" fill="#137a5a" stroke="#151520" stroke-width="0.5"/>
<circle cx="95.73" cy="552.47" r="1.15" fill="#137a5a" stroke="#151520" stroke-width="0.5"/>
<circle cx="96.07" cy="551.77" r="1.15" fill="#137a5a" stroke="#151520" stroke-width="0.5"/>
<circle cx="95.01" cy="551.04" r="1.15" fill="#137a5a" stroke="#151520" stroke-width="0.5"/>
<circle cx="95.98" cy="550.28" r="1.15" fill="#137a5a" stroke="#151520" stroke-width="0.5"/>
<circle cx="95.56" cy="549.50" r="1.15" fill="#137a5a" stroke="#151520" stroke-width="0.5"/>
<circle cx="95.66" cy="548.70" r="1.15" fill="#137a5a" stroke="#151520" stroke-width="0.5"/>
<circle cx="105.90" cy="504.80" r="1.15" fill="#2e1838" stroke="#151520" stroke-width="0.5"/>
<circle cx="105.90" cy="520.10" r="1.15" fill="#2e1838" stroke="#151520" stroke-width="0.5"/>
<circle cx="105.40" cy="532.60" r="1.15" fill="#2e1838" stroke="#151520" stroke-width="0.5"/>
<circle cx="106.40" cy="535.80" r="1.15" fill="#2e1838" stroke="#151520" stroke-width="0.5"/>
<circle cx="105.32" cy="559.00" r="1.15" fill="#62207a" stroke="#151520" stroke-width="0.5"/>
<circle cx="105.88" cy="558.84" r="1.15" fill="#62207a" stroke="#151520" stroke-width="0.5"/>
<circle cx="105.11" cy="558.53" r="1.15" fill="#62207a" stroke="#151520" stroke-width="0.5"/>
<circle cx="104.77" cy="558.10" r="1.15" fill="#62207a" stroke="#151520" stroke-width="0.5"/>
<circle cx="106.79" cy="557.57" r="1.15" fill="#62207a" stroke="#151520" stroke-width="0.5"/>
<circle cx="106.34" cy="556.96" r="1.15" fill="#62207a" stroke="#151520" stroke-width="0.5"/>
<circle cx="104.95" cy="556.26" r="1.15" fill="#62207a" stroke="#151520" stroke-width="0.5"/>
<circle cx="104.98" cy="555.50" r="1.15" fill="#62207a" stroke="#151520" stroke-width="0.5"/>
<circle cx="105.71" cy="554.67" r="1.15" fill="#62207a" stroke="#151520" stroke-width="0.5"/>
<circle cx="106.64" cy="553.77" r="1.15" fill="#62207a" stroke="#151520" stroke-width="0.5"/>
<circle cx="105.84" cy="552.81" r="1.15" fill="#62207a" stroke="#151520" stroke-width="0.5"/>
<circle cx="106.02" cy="551.78" r="1.15" fill="#62207a" stroke="#151520" stroke-width="0.5"/>
<circle cx="105.87" cy="550.71" r="1.15" fill="#62207a" stroke="#151520" stroke-width="0.5"/>
<circle cx="106.71" cy="549.57" r="1.15" fill="#62207a" stroke="#151520" stroke-width="0.5"/>
<circle cx="106.29" cy="548.39" r="1.15" fill="#62207a" stroke="#151520" stroke-width="0.5"/>
<circle cx="105.43" cy="547.15" r="1.15" fill="#62207a" stroke="#151520" stroke-width="0.5"/>
<circle cx="105.30" cy="545.86" r="1.15" fill="#62207a" stroke="#151520" stroke-width="0.5"/>
<circle cx="106.07" cy="544.52" r="1.15" fill="#62207a" stroke="#151520" stroke-width="0.5"/>
<circle cx="106.29" cy="543.13" r="1.15" fill="#62207a" stroke="#151520" stroke-width="0.5"/>
<circle cx="105.36" cy="541.70" r="1.15" fill="#62207a" stroke="#151520" stroke-width="0.5"/>
<circle cx="123.08" cy="559.60" r="1.15" fill="#1a5590" stroke="#151520" stroke-width="0.5"/>
<circle cx="123.54" cy="559.47" r="1.15" fill="#1a5590" stroke="#151520" stroke-width="0.5"/>
<circle cx="123.30" cy="559.21" r="1.15" fill="#1a5590" stroke="#151520" stroke-width="0.5"/>
<circle cx="123.06" cy="558.86" r="1.15" fill="#1a5590" stroke="#151520" stroke-width="0.5"/>
<circle cx="123.26" cy="558.43" r="1.15" fill="#1a5590" stroke="#151520" stroke-width="0.5"/>
<circle cx="123.21" cy="557.93" r="1.15" fill="#1a5590" stroke="#151520" stroke-width="0.5"/>
<circle cx="123.90" cy="557.36" r="1.15" fill="#1a5590" stroke="#151520" stroke-width="0.5"/>
<circle cx="123.51" cy="556.73" r="1.15" fill="#1a5590" stroke="#151520" stroke-width="0.5"/>
<circle cx="122.92" cy="556.05" r="1.15" fill="#1a5590" stroke="#151520" stroke-width="0.5"/>
<circle cx="123.13" cy="555.32" r="1.15" fill="#1a5590" stroke="#151520" stroke-width="0.5"/>
<circle cx="123.48" cy="554.53" r="1.15" fill="#1a5590" stroke="#151520" stroke-width="0.5"/>
<circle cx="122.72" cy="553.69" r="1.15" fill="#1a5590" stroke="#151520" stroke-width="0.5"/>
<circle cx="122.76" cy="552.81" r="1.15" fill="#1a5590" stroke="#151520" stroke-width="0.5"/>
<circle cx="123.58" cy="551.89" r="1.15" fill="#1a5590" stroke="#151520" stroke-width="0.5"/>
<circle cx="123.90" cy="550.91" r="1.15" fill="#1a5590" stroke="#151520" stroke-width="0.5"/>
<circle cx="123.67" cy="549.90" r="1.15" fill="#1a5590" stroke="#151520" stroke-width="0.5"/>
<circle cx="133.21" cy="559.60" r="1.15" fill="#137a5a" stroke="#151520" stroke-width="0.5"/>
<circle cx="133.68" cy="559.44" r="1.15" fill="#137a5a" stroke="#151520" stroke-width="0.5"/>
<circle cx="134.01" cy="559.10" r="1.15" fill="#137a5a" stroke="#151520" stroke-width="0.5"/>
<circle cx="133.27" cy="558.65" r="1.15" fill="#137a5a" stroke="#151520" stroke-width="0.5"/>
<circle cx="133.36" cy="558.09" r="1.15" fill="#137a5a" stroke="#151520" stroke-width="0.5"/>
<circle cx="133.60" cy="557.44" r="1.15" fill="#137a5a" stroke="#151520" stroke-width="0.5"/>
<circle cx="133.25" cy="556.71" r="1.15" fill="#137a5a" stroke="#151520" stroke-width="0.5"/>
<circle cx="133.21" cy="555.90" r="1.15" fill="#137a5a" stroke="#151520" stroke-width="0.5"/>
<circle cx="143.69" cy="558.30" r="1.15" fill="#62207a" stroke="#151520" stroke-width="0.5"/>
<circle cx="143.31" cy="557.85" r="1.15" fill="#62207a" stroke="#151520" stroke-width="0.5"/>
<circle cx="143.83" cy="556.95" r="1.15" fill="#62207a" stroke="#151520" stroke-width="0.5"/>
<circle cx="143.56" cy="555.71" r="1.15" fill="#62207a" stroke="#151520" stroke-width="0.5"/>
<circle cx="143.99" cy="554.20" r="1.15" fill="#62207a" stroke="#151520" stroke-width="0.5"/>
<circle cx="161.14" cy="559.20" r="1.15" fill="#1a5590" stroke="#151520" stroke-width="0.5"/>
<circle cx="161.21" cy="559.09" r="1.15" fill="#1a5590" stroke="#151520" stroke-width="0.5"/>
<circle cx="161.10" cy="558.86" r="1.15" fill="#1a5590" stroke="#151520" stroke-width="0.5"/>
<circle cx="160.86" cy="558.54" r="1.15" fill="#1a5590" stroke="#151520" stroke-width="0.5"/>
<circle cx="161.15" cy="558.16" r="1.15" fill="#1a5590" stroke="#151520" stroke-width="0.5"/>
<circle cx="161.23" cy="557.71" r="1.15" fill="#1a5590" stroke="#151520" stroke-width="0.5"/>
<circle cx="161.39" cy="557.21" r="1.15" fill="#1a5590" stroke="#151520" stroke-width="0.5"/>
<circle cx="161.20" cy="556.65" r="1.15" fill="#1a5590" stroke="#151520" stroke-width="0.5"/>
<circle cx="161.98" cy="556.04" r="1.15" fill="#1a5590" stroke="#151520" stroke-width="0.5"/>
<circle cx="161.85" cy="555.38" r="1.15" fill="#1a5590" stroke="#151520" stroke-width="0.5"/>
<circle cx="161.21" cy="554.68" r="1.15" fill="#1a5590" stroke="#151520" stroke-width="0.5"/>
<circle cx="161.04" cy="553.94" r="1.15" fill="#1a5590" stroke="#151520" stroke-width="0.5"/>
<circle cx="161.39" cy="553.15" r="1.15" fill="#1a5590" stroke="#151520" stroke-width="0.5"/>
<circle cx="160.94" cy="552.33" r="1.15" fill="#1a5590" stroke="#151520" stroke-width="0.5"/>
<circle cx="161.03" cy="551.46" r="1.15" fill="#1a5590" stroke="#151520" stroke-width="0.5"/>
<circle cx="161.66" cy="550.56" r="1.15" fill="#1a5590" stroke="#151520" stroke-width="0.5"/>
<circle cx="160.95" cy="549.62" r="1.15" fill="#1a5590" stroke="#151520" stroke-width="0.5"/>
<circle cx="161.97" cy="548.65" r="1.15" fill="#1a5590" stroke="#151520" stroke-width="0.5"/>
<circle cx="160.91" cy="547.63" r="1.15" fill="#1a5590" stroke="#151520" stroke-width="0.5"/>
<circle cx="162.00" cy="546.59" r="1.15" fill="#1a5590" stroke="#151520" stroke-width="0.5"/>
<circle cx="161.28" cy="545.51" r="1.15" fill="#1a5590" stroke="#151520" stroke-width="0.5"/>
<circle cx="161.47" cy="544.40" r="1.15" fill="#1a5590" stroke="#151520" stroke-width="0.5"/>
<circle cx="171.39" cy="559.20" r="1.15" fill="#137a5a" stroke="#151520" stroke-width="0.5"/>
<circle cx="171.59" cy="559.09" r="1.15" fill="#137a5a" stroke="#151520" stroke-width="0.5"/>
<circle cx="171.38" cy="558.87" r="1.15" fill="#137a5a" stroke="#151520" stroke-width="0.5"/>
<circle cx="171.03" cy="558.57" r="1.15" fill="#137a5a" stroke="#151520" stroke-width="0.5"/>
<circle cx="170.96" cy="558.21" r="1.15" fill="#137a5a" stroke="#151520" stroke-width="0.5"/>
<circle cx="171.89" cy="557.78" r="1.15" fill="#137a5a" stroke="#151520" stroke-width="0.5"/>
<circle cx="171.47" cy="557.30" r="1.15" fill="#137a5a" stroke="#151520" stroke-width="0.5"/>
<circle cx="171.82" cy="556.77" r="1.15" fill="#137a5a" stroke="#151520" stroke-width="0.5"/>
<circle cx="170.97" cy="556.19" r="1.15" fill="#137a5a" stroke="#151520" stroke-width="0.5"/>
<circle cx="171.50" cy="555.57" r="1.15" fill="#137a5a" stroke="#151520" stroke-width="0.5"/>
<circle cx="171.55" cy="554.90" r="1.15" fill="#137a5a" stroke="#151520" stroke-width="0.5"/>
<circle cx="171.35" cy="554.19" r="1.15" fill="#137a5a" stroke="#151520" stroke-width="0.5"/>
<circle cx="171.08" cy="553.44" r="1.15" fill="#137a5a" stroke="#151520" stroke-width="0.5"/>
<circle cx="171.71" cy="552.65" r="1.15" fill="#137a5a" stroke="#151520" stroke-width="0.5"/>
<circle cx="171.73" cy="551.83" r="1.15" fill="#137a5a" stroke="#151520" stroke-width="0.5"/>
<circle cx="171.95" cy="550.97" r="1.15" fill="#137a5a" stroke="#151520" stroke-width="0.5"/>
<circle cx="171.00" cy="550.07" r="1.15" fill="#137a5a" stroke="#151520" stroke-width="0.5"/>
<circle cx="170.95" cy="549.14" r="1.15" fill="#137a5a" stroke="#151520" stroke-width="0.5"/>
<circle cx="171.66" cy="548.18" r="1.15" fill="#137a5a" stroke="#151520" stroke-width="0.5"/>
<circle cx="171.65" cy="547.19" r="1.15" fill="#137a5a" stroke="#151520" stroke-width="0.5"/>
<circle cx="171.11" cy="546.16" r="1.15" fill="#137a5a" stroke="#151520" stroke-width="0.5"/>
<circle cx="171.70" cy="545.10" r="1.15" fill="#137a5a" stroke="#151520" stroke-width="0.5"/>
<circle cx="180.60" cy="478.90" r="1.15" fill="#2e1838" stroke="#151520" stroke-width="0.5"/>
<circle cx="181.00" cy="484.10" r="1.15" fill="#2e1838" stroke="#151520" stroke-width="0.5"/>
<circle cx="182.40" cy="496.70" r="1.15" fill="#2e1838" stroke="#151520" stroke-width="0.5"/>
<circle cx="180.90" cy="505.60" r="1.15" fill="#2e1838" stroke="#151520" stroke-width="0.5"/>
<circle cx="181.60" cy="510.00" r="1.15" fill="#2e1838" stroke="#151520" stroke-width="0.5"/>
<circle cx="181.60" cy="512.30" r="1.15" fill="#2e1838" stroke="#151520" stroke-width="0.5"/>
<circle cx="181.60" cy="521.90" r="1.15" fill="#2e1838" stroke="#151520" stroke-width="0.5"/>
<circle cx="181.60" cy="528.60" r="1.15" fill="#2e1838" stroke="#151520" stroke-width="0.5"/>
<circle cx="181.90" cy="530.80" r="1.15" fill="#2e1838" stroke="#151520" stroke-width="0.5"/>
<circle cx="181.60" cy="535.30" r="1.15" fill="#2e1838" stroke="#151520" stroke-width="0.5"/>
<circle cx="182.10" cy="538.20" r="1.15" fill="#2e1838" stroke="#151520" stroke-width="0.5"/>
<circle cx="181.60" cy="542.70" r="1.15" fill="#2e1838" stroke="#151520" stroke-width="0.5"/>
<circle cx="181.60" cy="553.80" r="1.15" fill="#2e1838" stroke="#151520" stroke-width="0.5"/>
<circle cx="181.60" cy="556.80" r="1.15" fill="#2e1838" stroke="#151520" stroke-width="0.5"/>
<line x1="80.00" y1="558.50" x2="100.60" y2="558.50" stroke="#111" stroke-width="1.0" />
<line x1="100.40" y1="551.30" x2="111.30" y2="551.30" stroke="#111" stroke-width="1.0" />
<line x1="117.70" y1="558.90" x2="137.90" y2="558.90" stroke="#111" stroke-width="1.0" />
<line x1="138.20" y1="557.30" x2="148.60" y2="557.30" stroke="#111" stroke-width="1.0" />
<line x1="156.30" y1="558.30" x2="177.30" y2="558.30" stroke="#111" stroke-width="1.0" />
<line x1="176.10" y1="533.40" x2="188.00" y2="533.40" stroke="#111" stroke-width="1.0" />
<path d="M105.7,463.2 V460.2 H180.1 V463.2" fill="none" stroke="#333" stroke-width="0.8"/>
<circle cx="140.40" cy="456.90" r="0.95" fill="#333"/>
<circle cx="142.90" cy="456.90" r="0.95" fill="#333"/>
<circle cx="145.40" cy="456.90" r="0.95" fill="#333"/>
<path d="M105.7,470.6 V467.6 H143.8 V470.6" fill="none" stroke="#333" stroke-width="0.8"/>
<circle cx="123.50" cy="464.30" r="0.95" fill="#333"/>
<circle cx="126.00" cy="464.30" r="0.95" fill="#333"/>
<path d="M86.6,479.4 V476.4 H106.3 V479.4" fill="none" stroke="#333" stroke-width="0.8"/>
<circle cx="92.70" cy="473.10" r="0.95" fill="#333"/>
<circle cx="95.20" cy="473.10" r="0.95" fill="#333"/>
<circle cx="97.70" cy="473.10" r="0.95" fill="#333"/>
<circle cx="100.20" cy="473.10" r="0.95" fill="#333"/>
<path d="M95.1,490.0 V487.0 H106.3 V490.0" fill="none" stroke="#333" stroke-width="0.8"/>
<circle cx="96.95" cy="483.70" r="0.95" fill="#333"/>
<circle cx="99.45" cy="483.70" r="0.95" fill="#333"/>
<circle cx="101.95" cy="483.70" r="0.95" fill="#333"/>
<circle cx="104.45" cy="483.70" r="0.95" fill="#333"/>
<line x1="95.50" y1="563.30" x2="95.50" y2="566.00" stroke="#333333" stroke-width="0.8" />
<text transform="translate(86.0,581.1) rotate(-45)" font-size="6.4" text-anchor="middle" fill="#e28080" dy="2" stroke="#e28080">Myeloid-</text>
<text transform="translate(91.3,586.5) rotate(-45)" font-size="6.4" text-anchor="middle" fill="#e28080" dy="2" stroke="#e28080">bias</text>
<line x1="133.70" y1="563.30" x2="133.70" y2="566.00" stroke="#333333" stroke-width="0.8" />
<text transform="translate(121.9,581.9) rotate(-45)" font-size="6.4" text-anchor="middle" fill="#9aa5a2" dy="2" stroke="#9aa5a2">Lymphoid-</text>
<text transform="translate(127.7,587.7) rotate(-45)" font-size="6.4" text-anchor="middle" fill="#9aa5a2" dy="2" stroke="#9aa5a2">bias</text>
<line x1="171.50" y1="563.30" x2="171.50" y2="566.00" stroke="#333333" stroke-width="0.8" />
<text transform="translate(159.0,579.9) rotate(-45)" font-size="6.4" text-anchor="middle" fill="#8a93c6" dy="2" stroke="#8a93c6">Self-</text>
<text transform="translate(166.8,585.4) rotate(-45)" font-size="6.4" text-anchor="middle" fill="#8a93c6" dy="2" stroke="#8a93c6">renewing</text>
<text transform="translate(51.0,507.8) rotate(-90)" font-size="7.2" text-anchor="middle" fill="#333" textLength="78" lengthAdjust="spacingAndGlyphs" stroke="#333">Clonal abundance (% MNC)</text>
<line x1="224.50" y1="451.50" x2="224.50" y2="564.00" stroke="#222" stroke-width="1.1" />
<line x1="224.00" y1="563.50" x2="338.80" y2="563.50" stroke="#222" stroke-width="1.1" />
<line x1="221.10" y1="559.80" x2="224.50" y2="559.80" stroke="#333333" stroke-width="0.8" />
<text x="218.4" y="562.0999999999999" font-size="7.02" text-anchor="end" fill="#333" stroke="#333" font-weight="normal" textLength="12.65" lengthAdjust="spacingAndGlyphs" >0.00</text>
<line x1="221.10" y1="534.35" x2="224.50" y2="534.35" stroke="#333333" stroke-width="0.8" />
<text x="218.4" y="536.6499999999999" font-size="7.02" text-anchor="end" fill="#333" stroke="#333" font-weight="normal" textLength="12.65" lengthAdjust="spacingAndGlyphs" >0.02</text>
<line x1="221.10" y1="508.90" x2="224.50" y2="508.90" stroke="#333333" stroke-width="0.8" />
<text x="218.4" y="511.2" font-size="7.02" text-anchor="end" fill="#333" stroke="#333" font-weight="normal" textLength="12.65" lengthAdjust="spacingAndGlyphs" >0.04</text>
<line x1="221.10" y1="483.45" x2="224.50" y2="483.45" stroke="#333333" stroke-width="0.8" />
<text x="218.4" y="485.74999999999994" font-size="7.02" text-anchor="end" fill="#333" stroke="#333" font-weight="normal" textLength="12.65" lengthAdjust="spacingAndGlyphs" >0.06</text>
<line x1="221.10" y1="458.00" x2="224.50" y2="458.00" stroke="#333333" stroke-width="0.8" />
<text x="218.4" y="460.29999999999995" font-size="7.02" text-anchor="end" fill="#333" stroke="#333" font-weight="normal" textLength="12.65" lengthAdjust="spacingAndGlyphs" >0.08</text>
<text x="281.4" y="445.6" font-size="8.53" text-anchor="middle" fill="#333" stroke="#333" font-weight="normal" textLength="21.51" lengthAdjust="spacingAndGlyphs" >MPP3</text>
<circle cx="233.00" cy="547.40" r="1.15" fill="#1c2a48" stroke="#151520" stroke-width="0.5"/>
<circle cx="233.44" cy="560.20" r="1.15" fill="#1a5590" stroke="#151520" stroke-width="0.5"/>
<circle cx="232.91" cy="560.13" r="1.15" fill="#1a5590" stroke="#151520" stroke-width="0.5"/>
<circle cx="232.52" cy="559.99" r="1.15" fill="#1a5590" stroke="#151520" stroke-width="0.5"/>
<circle cx="233.52" cy="559.80" r="1.15" fill="#1a5590" stroke="#151520" stroke-width="0.5"/>
<circle cx="232.42" cy="559.56" r="1.15" fill="#1a5590" stroke="#151520" stroke-width="0.5"/>
<circle cx="233.45" cy="559.28" r="1.15" fill="#1a5590" stroke="#151520" stroke-width="0.5"/>
<circle cx="232.57" cy="558.97" r="1.15" fill="#1a5590" stroke="#151520" stroke-width="0.5"/>
<circle cx="232.77" cy="558.63" r="1.15" fill="#1a5590" stroke="#151520" stroke-width="0.5"/>
<circle cx="233.25" cy="558.26" r="1.15" fill="#1a5590" stroke="#151520" stroke-width="0.5"/>
<circle cx="233.43" cy="557.85" r="1.15" fill="#1a5590" stroke="#151520" stroke-width="0.5"/>
<circle cx="232.62" cy="557.42" r="1.15" fill="#1a5590" stroke="#151520" stroke-width="0.5"/>
<circle cx="232.44" cy="556.97" r="1.15" fill="#1a5590" stroke="#151520" stroke-width="0.5"/>
<circle cx="232.42" cy="556.48" r="1.15" fill="#1a5590" stroke="#151520" stroke-width="0.5"/>
<circle cx="233.08" cy="555.98" r="1.15" fill="#1a5590" stroke="#151520" stroke-width="0.5"/>
<circle cx="233.09" cy="555.44" r="1.15" fill="#1a5590" stroke="#151520" stroke-width="0.5"/>
<circle cx="233.50" cy="554.89" r="1.15" fill="#1a5590" stroke="#151520" stroke-width="0.5"/>
<circle cx="233.00" cy="554.31" r="1.15" fill="#1a5590" stroke="#151520" stroke-width="0.5"/>
<circle cx="233.03" cy="553.71" r="1.15" fill="#1a5590" stroke="#151520" stroke-width="0.5"/>
<circle cx="233.39" cy="553.09" r="1.15" fill="#1a5590" stroke="#151520" stroke-width="0.5"/>
<circle cx="233.33" cy="552.45" r="1.15" fill="#1a5590" stroke="#151520" stroke-width="0.5"/>
<circle cx="232.91" cy="551.78" r="1.15" fill="#1a5590" stroke="#151520" stroke-width="0.5"/>
<circle cx="233.23" cy="551.10" r="1.15" fill="#1a5590" stroke="#151520" stroke-width="0.5"/>
<circle cx="243.19" cy="560.20" r="1.15" fill="#137a5a" stroke="#151520" stroke-width="0.5"/>
<circle cx="242.78" cy="560.14" r="1.15" fill="#137a5a" stroke="#151520" stroke-width="0.5"/>
<circle cx="243.52" cy="560.01" r="1.15" fill="#137a5a" stroke="#151520" stroke-width="0.5"/>
<circle cx="243.41" cy="559.83" r="1.15" fill="#137a5a" stroke="#151520" stroke-width="0.5"/>
<circle cx="243.89" cy="559.61" r="1.15" fill="#137a5a" stroke="#151520" stroke-width="0.5"/>
<circle cx="243.49" cy="559.36" r="1.15" fill="#137a5a" stroke="#151520" stroke-width="0.5"/>
<circle cx="242.89" cy="559.07" r="1.15" fill="#137a5a" stroke="#151520" stroke-width="0.5"/>
<circle cx="243.62" cy="558.75" r="1.15" fill="#137a5a" stroke="#151520" stroke-width="0.5"/>
<circle cx="243.36" cy="558.41" r="1.15" fill="#137a5a" stroke="#151520" stroke-width="0.5"/>
<circle cx="242.80" cy="558.04" r="1.15" fill="#137a5a" stroke="#151520" stroke-width="0.5"/>
<circle cx="243.27" cy="557.64" r="1.15" fill="#137a5a" stroke="#151520" stroke-width="0.5"/>
<circle cx="243.77" cy="557.22" r="1.15" fill="#137a5a" stroke="#151520" stroke-width="0.5"/>
<circle cx="243.45" cy="556.77" r="1.15" fill="#137a5a" stroke="#151520" stroke-width="0.5"/>
<circle cx="243.21" cy="556.31" r="1.15" fill="#137a5a" stroke="#151520" stroke-width="0.5"/>
<circle cx="242.71" cy="555.82" r="1.15" fill="#137a5a" stroke="#151520" stroke-width="0.5"/>
<circle cx="243.50" cy="555.30" r="1.15" fill="#137a5a" stroke="#151520" stroke-width="0.5"/>
<circle cx="243.88" cy="554.77" r="1.15" fill="#137a5a" stroke="#151520" stroke-width="0.5"/>
<circle cx="243.73" cy="554.22" r="1.15" fill="#137a5a" stroke="#151520" stroke-width="0.5"/>
<circle cx="242.96" cy="553.65" r="1.15" fill="#137a5a" stroke="#151520" stroke-width="0.5"/>
<circle cx="242.85" cy="553.05" r="1.15" fill="#137a5a" stroke="#151520" stroke-width="0.5"/>
<circle cx="243.27" cy="552.44" r="1.15" fill="#137a5a" stroke="#151520" stroke-width="0.5"/>
<circle cx="243.03" cy="551.81" r="1.15" fill="#137a5a" stroke="#151520" stroke-width="0.5"/>
<circle cx="243.38" cy="551.17" r="1.15" fill="#137a5a" stroke="#151520" stroke-width="0.5"/>
<circle cx="243.24" cy="550.50" r="1.15" fill="#137a5a" stroke="#151520" stroke-width="0.5"/>
<circle cx="253.10" cy="498.00" r="1.15" fill="#2e1838" stroke="#151520" stroke-width="0.5"/>
<circle cx="252.60" cy="504.20" r="1.15" fill="#2e1838" stroke="#151520" stroke-width="0.5"/>
<circle cx="253.60" cy="507.30" r="1.15" fill="#2e1838" stroke="#151520" stroke-width="0.5"/>
<circle cx="253.89" cy="559.10" r="1.15" fill="#62207a" stroke="#151520" stroke-width="0.5"/>
<circle cx="254.45" cy="558.99" r="1.15" fill="#62207a" stroke="#151520" stroke-width="0.5"/>
<circle cx="252.68" cy="558.78" r="1.15" fill="#62207a" stroke="#151520" stroke-width="0.5"/>
<circle cx="253.86" cy="558.48" r="1.15" fill="#62207a" stroke="#151520" stroke-width="0.5"/>
<circle cx="253.69" cy="558.12" r="1.15" fill="#62207a" stroke="#151520" stroke-width="0.5"/>
<circle cx="252.04" cy="557.69" r="1.15" fill="#62207a" stroke="#151520" stroke-width="0.5"/>
<circle cx="253.86" cy="557.22" r="1.15" fill="#62207a" stroke="#151520" stroke-width="0.5"/>
<circle cx="252.50" cy="556.69" r="1.15" fill="#62207a" stroke="#151520" stroke-width="0.5"/>
<circle cx="253.26" cy="556.12" r="1.15" fill="#62207a" stroke="#151520" stroke-width="0.5"/>
<circle cx="253.09" cy="555.50" r="1.15" fill="#62207a" stroke="#151520" stroke-width="0.5"/>
<circle cx="253.57" cy="554.84" r="1.15" fill="#62207a" stroke="#151520" stroke-width="0.5"/>
<circle cx="254.15" cy="554.14" r="1.15" fill="#62207a" stroke="#151520" stroke-width="0.5"/>
<circle cx="254.19" cy="553.40" r="1.15" fill="#62207a" stroke="#151520" stroke-width="0.5"/>
<circle cx="251.94" cy="552.62" r="1.15" fill="#62207a" stroke="#151520" stroke-width="0.5"/>
<circle cx="251.91" cy="551.80" r="1.15" fill="#62207a" stroke="#151520" stroke-width="0.5"/>
<circle cx="252.00" cy="550.95" r="1.15" fill="#62207a" stroke="#151520" stroke-width="0.5"/>
<circle cx="254.04" cy="550.06" r="1.15" fill="#62207a" stroke="#151520" stroke-width="0.5"/>
<circle cx="253.55" cy="549.14" r="1.15" fill="#62207a" stroke="#151520" stroke-width="0.5"/>
<circle cx="253.38" cy="548.19" r="1.15" fill="#62207a" stroke="#151520" stroke-width="0.5"/>
<circle cx="252.84" cy="547.20" r="1.15" fill="#62207a" stroke="#151520" stroke-width="0.5"/>
<circle cx="252.68" cy="546.19" r="1.15" fill="#62207a" stroke="#151520" stroke-width="0.5"/>
<circle cx="253.32" cy="545.14" r="1.15" fill="#62207a" stroke="#151520" stroke-width="0.5"/>
<circle cx="254.08" cy="544.06" r="1.15" fill="#62207a" stroke="#151520" stroke-width="0.5"/>
<circle cx="253.80" cy="542.95" r="1.15" fill="#62207a" stroke="#151520" stroke-width="0.5"/>
<circle cx="253.32" cy="541.81" r="1.15" fill="#62207a" stroke="#151520" stroke-width="0.5"/>
<circle cx="252.73" cy="540.65" r="1.15" fill="#62207a" stroke="#151520" stroke-width="0.5"/>
<circle cx="253.97" cy="539.45" r="1.15" fill="#62207a" stroke="#151520" stroke-width="0.5"/>
<circle cx="253.53" cy="538.23" r="1.15" fill="#62207a" stroke="#151520" stroke-width="0.5"/>
<circle cx="253.04" cy="536.98" r="1.15" fill="#62207a" stroke="#151520" stroke-width="0.5"/>
<circle cx="252.50" cy="535.70" r="1.15" fill="#62207a" stroke="#151520" stroke-width="0.5"/>
<circle cx="272.40" cy="548.60" r="1.15" fill="#1c2a48" stroke="#151520" stroke-width="0.5"/>
<circle cx="271.76" cy="560.00" r="1.15" fill="#1a5590" stroke="#151520" stroke-width="0.5"/>
<circle cx="270.74" cy="559.86" r="1.15" fill="#1a5590" stroke="#151520" stroke-width="0.5"/>
<circle cx="271.74" cy="559.57" r="1.15" fill="#1a5590" stroke="#151520" stroke-width="0.5"/>
<circle cx="270.80" cy="559.19" r="1.15" fill="#1a5590" stroke="#151520" stroke-width="0.5"/>
<circle cx="271.56" cy="558.71" r="1.15" fill="#1a5590" stroke="#151520" stroke-width="0.5"/>
<circle cx="271.17" cy="558.16" r="1.15" fill="#1a5590" stroke="#151520" stroke-width="0.5"/>
<circle cx="271.53" cy="557.53" r="1.15" fill="#1a5590" stroke="#151520" stroke-width="0.5"/>
<circle cx="271.14" cy="556.84" r="1.15" fill="#1a5590" stroke="#151520" stroke-width="0.5"/>
<circle cx="270.93" cy="556.09" r="1.15" fill="#1a5590" stroke="#151520" stroke-width="0.5"/>
<circle cx="271.51" cy="555.28" r="1.15" fill="#1a5590" stroke="#151520" stroke-width="0.5"/>
<circle cx="271.00" cy="554.41" r="1.15" fill="#1a5590" stroke="#151520" stroke-width="0.5"/>
<circle cx="270.94" cy="553.49" r="1.15" fill="#1a5590" stroke="#151520" stroke-width="0.5"/>
<circle cx="271.35" cy="552.52" r="1.15" fill="#1a5590" stroke="#151520" stroke-width="0.5"/>
<circle cx="271.38" cy="551.50" r="1.15" fill="#1a5590" stroke="#151520" stroke-width="0.5"/>
<circle cx="281.56" cy="560.00" r="1.15" fill="#137a5a" stroke="#151520" stroke-width="0.5"/>
<circle cx="281.32" cy="559.85" r="1.15" fill="#137a5a" stroke="#151520" stroke-width="0.5"/>
<circle cx="281.64" cy="559.56" r="1.15" fill="#137a5a" stroke="#151520" stroke-width="0.5"/>
<circle cx="281.47" cy="559.15" r="1.15" fill="#137a5a" stroke="#151520" stroke-width="0.5"/>
<circle cx="280.62" cy="558.65" r="1.15" fill="#137a5a" stroke="#151520" stroke-width="0.5"/>
<circle cx="280.78" cy="558.07" r="1.15" fill="#137a5a" stroke="#151520" stroke-width="0.5"/>
<circle cx="281.60" cy="557.42" r="1.15" fill="#137a5a" stroke="#151520" stroke-width="0.5"/>
<circle cx="281.30" cy="556.70" r="1.15" fill="#137a5a" stroke="#151520" stroke-width="0.5"/>
<circle cx="292.07" cy="558.70" r="1.15" fill="#62207a" stroke="#151520" stroke-width="0.5"/>
<circle cx="291.20" cy="558.16" r="1.15" fill="#62207a" stroke="#151520" stroke-width="0.5"/>
<circle cx="291.36" cy="557.05" r="1.15" fill="#62207a" stroke="#151520" stroke-width="0.5"/>
<circle cx="291.35" cy="555.54" r="1.15" fill="#62207a" stroke="#151520" stroke-width="0.5"/>
<circle cx="291.83" cy="553.70" r="1.15" fill="#62207a" stroke="#151520" stroke-width="0.5"/>
<circle cx="308.88" cy="560.00" r="1.15" fill="#1a5590" stroke="#151520" stroke-width="0.5"/>
<circle cx="309.14" cy="559.75" r="1.15" fill="#1a5590" stroke="#151520" stroke-width="0.5"/>
<circle cx="309.43" cy="559.23" r="1.15" fill="#1a5590" stroke="#151520" stroke-width="0.5"/>
<circle cx="308.99" cy="558.53" r="1.15" fill="#1a5590" stroke="#151520" stroke-width="0.5"/>
<circle cx="308.92" cy="557.68" r="1.15" fill="#1a5590" stroke="#151520" stroke-width="0.5"/>
<circle cx="308.79" cy="556.68" r="1.15" fill="#1a5590" stroke="#151520" stroke-width="0.5"/>
<circle cx="309.70" cy="555.56" r="1.15" fill="#1a5590" stroke="#151520" stroke-width="0.5"/>
<circle cx="309.52" cy="554.31" r="1.15" fill="#1a5590" stroke="#151520" stroke-width="0.5"/>
<circle cx="309.54" cy="552.96" r="1.15" fill="#1a5590" stroke="#151520" stroke-width="0.5"/>
<circle cx="308.95" cy="551.50" r="1.15" fill="#1a5590" stroke="#151520" stroke-width="0.5"/>
<circle cx="318.87" cy="560.00" r="1.15" fill="#137a5a" stroke="#151520" stroke-width="0.5"/>
<circle cx="319.77" cy="559.76" r="1.15" fill="#137a5a" stroke="#151520" stroke-width="0.5"/>
<circle cx="319.89" cy="559.26" r="1.15" fill="#137a5a" stroke="#151520" stroke-width="0.5"/>
<circle cx="318.88" cy="558.58" r="1.15" fill="#137a5a" stroke="#151520" stroke-width="0.5"/>
<circle cx="319.87" cy="557.75" r="1.15" fill="#137a5a" stroke="#151520" stroke-width="0.5"/>
<circle cx="319.66" cy="556.79" r="1.15" fill="#137a5a" stroke="#151520" stroke-width="0.5"/>
<circle cx="319.36" cy="555.70" r="1.15" fill="#137a5a" stroke="#151520" stroke-width="0.5"/>
<circle cx="319.63" cy="554.50" r="1.15" fill="#137a5a" stroke="#151520" stroke-width="0.5"/>
<circle cx="330.20" cy="560.00" r="1.15" fill="#62207a" stroke="#151520" stroke-width="0.5"/>
<circle cx="330.24" cy="559.62" r="1.15" fill="#62207a" stroke="#151520" stroke-width="0.5"/>
<circle cx="330.25" cy="558.85" r="1.15" fill="#62207a" stroke="#151520" stroke-width="0.5"/>
<circle cx="330.18" cy="557.81" r="1.15" fill="#62207a" stroke="#151520" stroke-width="0.5"/>
<circle cx="330.06" cy="556.53" r="1.15" fill="#62207a" stroke="#151520" stroke-width="0.5"/>
<circle cx="330.55" cy="555.04" r="1.15" fill="#62207a" stroke="#151520" stroke-width="0.5"/>
<circle cx="330.47" cy="553.36" r="1.15" fill="#62207a" stroke="#151520" stroke-width="0.5"/>
<circle cx="330.78" cy="551.50" r="1.15" fill="#62207a" stroke="#151520" stroke-width="0.5"/>
<line x1="227.50" y1="559.00" x2="248.50" y2="559.00" stroke="#111" stroke-width="1.0" />
<line x1="248.20" y1="550.20" x2="259.60" y2="550.20" stroke="#111" stroke-width="1.0" />
<line x1="265.70" y1="559.00" x2="286.70" y2="559.00" stroke="#111" stroke-width="1.0" />
<line x1="286.70" y1="557.00" x2="297.70" y2="557.00" stroke="#111" stroke-width="1.0" />
<line x1="304.30" y1="559.40" x2="335.50" y2="559.40" stroke="#111" stroke-width="1.0" />
<path d="M252.0,462.4 V459.4 H326.5 V462.4" fill="none" stroke="#333" stroke-width="0.8"/>
<circle cx="285.50" cy="456.10" r="0.95" fill="#333"/>
<circle cx="288.00" cy="456.10" r="0.95" fill="#333"/>
<circle cx="290.50" cy="456.10" r="0.95" fill="#333"/>
<circle cx="293.00" cy="456.10" r="0.95" fill="#333"/>
<path d="M252.0,470.0 V467.0 H290.2 V470.0" fill="none" stroke="#333" stroke-width="0.8"/>
<circle cx="269.85" cy="463.70" r="0.95" fill="#333"/>
<circle cx="272.35" cy="463.70" r="0.95" fill="#333"/>
<path d="M233.7,478.5 V475.5 H252.0 V478.5" fill="none" stroke="#333" stroke-width="0.8"/>
<circle cx="239.10" cy="472.20" r="0.95" fill="#333"/>
<circle cx="241.60" cy="472.20" r="0.95" fill="#333"/>
<circle cx="244.10" cy="472.20" r="0.95" fill="#333"/>
<circle cx="246.60" cy="472.20" r="0.95" fill="#333"/>
<path d="M242.3,489.3 V486.3 H252.0 V489.3" fill="none" stroke="#333" stroke-width="0.8"/>
<circle cx="243.40" cy="483.00" r="0.95" fill="#333"/>
<circle cx="245.90" cy="483.00" r="0.95" fill="#333"/>
<circle cx="248.40" cy="483.00" r="0.95" fill="#333"/>
<circle cx="250.90" cy="483.00" r="0.95" fill="#333"/>
<line x1="243.30" y1="563.30" x2="243.30" y2="566.00" stroke="#333333" stroke-width="0.8" />
<text transform="translate(233.8,581.1) rotate(-45)" font-size="6.4" text-anchor="middle" fill="#e28080" dy="2" stroke="#e28080">Myeloid-</text>
<text transform="translate(239.1,586.5) rotate(-45)" font-size="6.4" text-anchor="middle" fill="#e28080" dy="2" stroke="#e28080">bias</text>
<line x1="281.20" y1="563.30" x2="281.20" y2="566.00" stroke="#333333" stroke-width="0.8" />
<text transform="translate(269.4,581.9) rotate(-45)" font-size="6.4" text-anchor="middle" fill="#9aa5a2" dy="2" stroke="#9aa5a2">Lymphoid-</text>
<text transform="translate(275.2,587.7) rotate(-45)" font-size="6.4" text-anchor="middle" fill="#9aa5a2" dy="2" stroke="#9aa5a2">bias</text>
<line x1="319.30" y1="563.30" x2="319.30" y2="566.00" stroke="#333333" stroke-width="0.8" />
<text transform="translate(306.8,579.9) rotate(-45)" font-size="6.4" text-anchor="middle" fill="#8a93c6" dy="2" stroke="#8a93c6">Self-</text>
<text transform="translate(314.6,585.4) rotate(-45)" font-size="6.4" text-anchor="middle" fill="#8a93c6" dy="2" stroke="#8a93c6">renewing</text>
<line x1="372.40" y1="451.50" x2="372.40" y2="564.00" stroke="#222" stroke-width="1.1" />
<line x1="371.90" y1="563.50" x2="486.80" y2="563.50" stroke="#222" stroke-width="1.1" />
<line x1="369.00" y1="559.80" x2="372.40" y2="559.80" stroke="#333333" stroke-width="0.8" />
<text x="366.29999999999995" y="562.0999999999999" font-size="7.02" text-anchor="end" fill="#333" stroke="#333" font-weight="normal" textLength="12.65" lengthAdjust="spacingAndGlyphs" >0.00</text>
<line x1="369.00" y1="542.88" x2="372.40" y2="542.88" stroke="#333333" stroke-width="0.8" />
<text x="366.29999999999995" y="545.18" font-size="7.02" text-anchor="end" fill="#333" stroke="#333" font-weight="normal" textLength="12.65" lengthAdjust="spacingAndGlyphs" >0.25</text>
<line x1="369.00" y1="525.96" x2="372.40" y2="525.96" stroke="#333333" stroke-width="0.8" />
<text x="366.29999999999995" y="528.2599999999999" font-size="7.02" text-anchor="end" fill="#333" stroke="#333" font-weight="normal" textLength="12.65" lengthAdjust="spacingAndGlyphs" >0.50</text>
<line x1="369.00" y1="509.04" x2="372.40" y2="509.04" stroke="#333333" stroke-width="0.8" />
<text x="366.29999999999995" y="511.34" font-size="7.02" text-anchor="end" fill="#333" stroke="#333" font-weight="normal" textLength="12.65" lengthAdjust="spacingAndGlyphs" >0.75</text>
<line x1="369.00" y1="492.12" x2="372.40" y2="492.12" stroke="#333333" stroke-width="0.8" />
<text x="366.29999999999995" y="494.41999999999996" font-size="7.02" text-anchor="end" fill="#333" stroke="#333" font-weight="normal" textLength="12.65" lengthAdjust="spacingAndGlyphs" >1.00</text>
<line x1="369.00" y1="475.20" x2="372.40" y2="475.20" stroke="#333333" stroke-width="0.8" />
<text x="366.29999999999995" y="477.49999999999994" font-size="7.02" text-anchor="end" fill="#333" stroke="#333" font-weight="normal" textLength="12.65" lengthAdjust="spacingAndGlyphs" >1.25</text>
<line x1="369.00" y1="458.28" x2="372.40" y2="458.28" stroke="#333333" stroke-width="0.8" />
<text x="366.29999999999995" y="460.58" font-size="7.02" text-anchor="end" fill="#333" stroke="#333" font-weight="normal" textLength="12.65" lengthAdjust="spacingAndGlyphs" >1.50</text>
<text x="429.3" y="445.6" font-size="8.86" text-anchor="middle" fill="#333" stroke="#333" font-weight="normal" textLength="44.21" lengthAdjust="spacingAndGlyphs" >Granulocyte</text>
<circle cx="380.67" cy="560.00" r="1.15" fill="#1a5590" stroke="#151520" stroke-width="0.5"/>
<circle cx="380.37" cy="559.91" r="1.15" fill="#1a5590" stroke="#151520" stroke-width="0.5"/>
<circle cx="380.77" cy="559.74" r="1.15" fill="#1a5590" stroke="#151520" stroke-width="0.5"/>
<circle cx="381.15" cy="559.50" r="1.15" fill="#1a5590" stroke="#151520" stroke-width="0.5"/>
<circle cx="381.41" cy="559.21" r="1.15" fill="#1a5590" stroke="#151520" stroke-width="0.5"/>
<circle cx="381.00" cy="558.88" r="1.15" fill="#1a5590" stroke="#151520" stroke-width="0.5"/>
<circle cx="380.31" cy="558.50" r="1.15" fill="#1a5590" stroke="#151520" stroke-width="0.5"/>
<circle cx="380.76" cy="558.08" r="1.15" fill="#1a5590" stroke="#151520" stroke-width="0.5"/>
<circle cx="380.95" cy="557.62" r="1.15" fill="#1a5590" stroke="#151520" stroke-width="0.5"/>
<circle cx="380.94" cy="557.13" r="1.15" fill="#1a5590" stroke="#151520" stroke-width="0.5"/>
<circle cx="380.73" cy="556.60" r="1.15" fill="#1a5590" stroke="#151520" stroke-width="0.5"/>
<circle cx="380.38" cy="556.04" r="1.15" fill="#1a5590" stroke="#151520" stroke-width="0.5"/>
<circle cx="380.78" cy="555.45" r="1.15" fill="#1a5590" stroke="#151520" stroke-width="0.5"/>
<circle cx="380.93" cy="554.82" r="1.15" fill="#1a5590" stroke="#151520" stroke-width="0.5"/>
<circle cx="380.61" cy="554.17" r="1.15" fill="#1a5590" stroke="#151520" stroke-width="0.5"/>
<circle cx="381.30" cy="553.49" r="1.15" fill="#1a5590" stroke="#151520" stroke-width="0.5"/>
<circle cx="380.69" cy="552.78" r="1.15" fill="#1a5590" stroke="#151520" stroke-width="0.5"/>
<circle cx="380.91" cy="552.05" r="1.15" fill="#1a5590" stroke="#151520" stroke-width="0.5"/>
<circle cx="380.54" cy="551.29" r="1.15" fill="#1a5590" stroke="#151520" stroke-width="0.5"/>
<circle cx="380.56" cy="550.50" r="1.15" fill="#1a5590" stroke="#151520" stroke-width="0.5"/>
<circle cx="390.31" cy="560.00" r="1.15" fill="#137a5a" stroke="#151520" stroke-width="0.5"/>
<circle cx="391.17" cy="559.92" r="1.15" fill="#137a5a" stroke="#151520" stroke-width="0.5"/>
<circle cx="390.55" cy="559.75" r="1.15" fill="#137a5a" stroke="#151520" stroke-width="0.5"/>
<circle cx="390.89" cy="559.51" r="1.15" fill="#137a5a" stroke="#151520" stroke-width="0.5"/>
<circle cx="390.63" cy="559.23" r="1.15" fill="#137a5a" stroke="#151520" stroke-width="0.5"/>
<circle cx="391.14" cy="558.90" r="1.15" fill="#137a5a" stroke="#151520" stroke-width="0.5"/>
<circle cx="391.23" cy="558.52" r="1.15" fill="#137a5a" stroke="#151520" stroke-width="0.5"/>
<circle cx="390.50" cy="558.11" r="1.15" fill="#137a5a" stroke="#151520" stroke-width="0.5"/>
<circle cx="391.31" cy="557.66" r="1.15" fill="#137a5a" stroke="#151520" stroke-width="0.5"/>
<circle cx="390.79" cy="557.17" r="1.15" fill="#137a5a" stroke="#151520" stroke-width="0.5"/>
<circle cx="391.24" cy="556.65" r="1.15" fill="#137a5a" stroke="#151520" stroke-width="0.5"/>
<circle cx="390.65" cy="556.10" r="1.15" fill="#137a5a" stroke="#151520" stroke-width="0.5"/>
<circle cx="390.76" cy="555.52" r="1.15" fill="#137a5a" stroke="#151520" stroke-width="0.5"/>
<circle cx="390.30" cy="554.91" r="1.15" fill="#137a5a" stroke="#151520" stroke-width="0.5"/>
<circle cx="390.58" cy="554.27" r="1.15" fill="#137a5a" stroke="#151520" stroke-width="0.5"/>
<circle cx="390.24" cy="553.60" r="1.15" fill="#137a5a" stroke="#151520" stroke-width="0.5"/>
<circle cx="401.60" cy="497.60" r="1.15" fill="#2e1838" stroke="#151520" stroke-width="0.5"/>
<circle cx="401.60" cy="507.30" r="1.15" fill="#2e1838" stroke="#151520" stroke-width="0.5"/>
<circle cx="401.90" cy="513.50" r="1.15" fill="#2e1838" stroke="#151520" stroke-width="0.5"/>
<circle cx="401.30" cy="516.50" r="1.15" fill="#2e1838" stroke="#151520" stroke-width="0.5"/>
<circle cx="401.60" cy="519.60" r="1.15" fill="#2e1838" stroke="#151520" stroke-width="0.5"/>
<circle cx="401.60" cy="527.70" r="1.15" fill="#2e1838" stroke="#151520" stroke-width="0.5"/>
<circle cx="401.30" cy="532.60" r="1.15" fill="#2e1838" stroke="#151520" stroke-width="0.5"/>
<circle cx="401.90" cy="535.10" r="1.15" fill="#2e1838" stroke="#151520" stroke-width="0.5"/>
<circle cx="401.60" cy="537.50" r="1.15" fill="#2e1838" stroke="#151520" stroke-width="0.5"/>
<circle cx="401.60" cy="543.10" r="1.15" fill="#2e1838" stroke="#151520" stroke-width="0.5"/>
<circle cx="401.90" cy="545.00" r="1.15" fill="#2e1838" stroke="#151520" stroke-width="0.5"/>
<circle cx="401.30" cy="548.00" r="1.15" fill="#2e1838" stroke="#151520" stroke-width="0.5"/>
<circle cx="401.34" cy="559.00" r="1.15" fill="#62207a" stroke="#151520" stroke-width="0.5"/>
<circle cx="401.73" cy="558.75" r="1.15" fill="#62207a" stroke="#151520" stroke-width="0.5"/>
<circle cx="401.11" cy="558.23" r="1.15" fill="#62207a" stroke="#151520" stroke-width="0.5"/>
<circle cx="401.25" cy="557.53" r="1.15" fill="#62207a" stroke="#151520" stroke-width="0.5"/>
<circle cx="402.04" cy="556.68" r="1.15" fill="#62207a" stroke="#151520" stroke-width="0.5"/>
<circle cx="401.68" cy="555.68" r="1.15" fill="#62207a" stroke="#151520" stroke-width="0.5"/>
<circle cx="401.70" cy="554.56" r="1.15" fill="#62207a" stroke="#151520" stroke-width="0.5"/>
<circle cx="401.26" cy="553.31" r="1.15" fill="#62207a" stroke="#151520" stroke-width="0.5"/>
<circle cx="402.11" cy="551.96" r="1.15" fill="#62207a" stroke="#151520" stroke-width="0.5"/>
<circle cx="401.34" cy="550.50" r="1.15" fill="#62207a" stroke="#151520" stroke-width="0.5"/>
<circle cx="418.72" cy="560.20" r="1.15" fill="#1a5590" stroke="#151520" stroke-width="0.5"/>
<circle cx="419.14" cy="560.07" r="1.15" fill="#1a5590" stroke="#151520" stroke-width="0.5"/>
<circle cx="419.31" cy="559.81" r="1.15" fill="#1a5590" stroke="#151520" stroke-width="0.5"/>
<circle cx="419.33" cy="559.45" r="1.15" fill="#1a5590" stroke="#151520" stroke-width="0.5"/>
<circle cx="418.76" cy="559.01" r="1.15" fill="#1a5590" stroke="#151520" stroke-width="0.5"/>
<circle cx="419.61" cy="558.50" r="1.15" fill="#1a5590" stroke="#151520" stroke-width="0.5"/>
<circle cx="419.01" cy="557.93" r="1.15" fill="#1a5590" stroke="#151520" stroke-width="0.5"/>
<circle cx="419.79" cy="557.29" r="1.15" fill="#1a5590" stroke="#151520" stroke-width="0.5"/>
<circle cx="419.05" cy="556.60" r="1.15" fill="#1a5590" stroke="#151520" stroke-width="0.5"/>
<circle cx="418.63" cy="555.85" r="1.15" fill="#1a5590" stroke="#151520" stroke-width="0.5"/>
<circle cx="418.64" cy="555.05" r="1.15" fill="#1a5590" stroke="#151520" stroke-width="0.5"/>
<circle cx="419.04" cy="554.20" r="1.15" fill="#1a5590" stroke="#151520" stroke-width="0.5"/>
<circle cx="429.45" cy="560.00" r="1.15" fill="#137a5a" stroke="#151520" stroke-width="0.5"/>
<circle cx="429.18" cy="559.86" r="1.15" fill="#137a5a" stroke="#151520" stroke-width="0.5"/>
<circle cx="429.61" cy="559.58" r="1.15" fill="#137a5a" stroke="#151520" stroke-width="0.5"/>
<circle cx="429.67" cy="559.19" r="1.15" fill="#137a5a" stroke="#151520" stroke-width="0.5"/>
<circle cx="429.64" cy="558.72" r="1.15" fill="#137a5a" stroke="#151520" stroke-width="0.5"/>
<circle cx="429.37" cy="558.16" r="1.15" fill="#137a5a" stroke="#151520" stroke-width="0.5"/>
<circle cx="429.71" cy="557.54" r="1.15" fill="#137a5a" stroke="#151520" stroke-width="0.5"/>
<circle cx="429.45" cy="556.86" r="1.15" fill="#137a5a" stroke="#151520" stroke-width="0.5"/>
<circle cx="428.71" cy="556.11" r="1.15" fill="#137a5a" stroke="#151520" stroke-width="0.5"/>
<circle cx="428.98" cy="555.30" r="1.15" fill="#137a5a" stroke="#151520" stroke-width="0.5"/>
<circle cx="440.60" cy="529.60" r="1.15" fill="#2e1838" stroke="#151520" stroke-width="0.5"/>
<circle cx="439.00" cy="547.60" r="1.15" fill="#2e1838" stroke="#151520" stroke-width="0.5"/>
<circle cx="440.00" cy="551.90" r="1.15" fill="#2e1838" stroke="#151520" stroke-width="0.5"/>
<circle cx="439.50" cy="555.80" r="1.15" fill="#2e1838" stroke="#151520" stroke-width="0.5"/>
<circle cx="439.00" cy="558.80" r="1.15" fill="#2e1838" stroke="#151520" stroke-width="0.5"/>
<circle cx="457.38" cy="560.00" r="1.15" fill="#1a5590" stroke="#151520" stroke-width="0.5"/>
<circle cx="457.21" cy="559.81" r="1.15" fill="#1a5590" stroke="#151520" stroke-width="0.5"/>
<circle cx="458.21" cy="559.43" r="1.15" fill="#1a5590" stroke="#151520" stroke-width="0.5"/>
<circle cx="457.71" cy="558.92" r="1.15" fill="#1a5590" stroke="#151520" stroke-width="0.5"/>
<circle cx="457.32" cy="558.28" r="1.15" fill="#1a5590" stroke="#151520" stroke-width="0.5"/>
<circle cx="458.12" cy="557.55" r="1.15" fill="#1a5590" stroke="#151520" stroke-width="0.5"/>
<circle cx="457.55" cy="556.72" r="1.15" fill="#1a5590" stroke="#151520" stroke-width="0.5"/>
<circle cx="457.38" cy="555.80" r="1.15" fill="#1a5590" stroke="#151520" stroke-width="0.5"/>
<circle cx="467.96" cy="560.00" r="1.15" fill="#137a5a" stroke="#151520" stroke-width="0.5"/>
<circle cx="467.31" cy="559.87" r="1.15" fill="#137a5a" stroke="#151520" stroke-width="0.5"/>
<circle cx="468.23" cy="559.62" r="1.15" fill="#137a5a" stroke="#151520" stroke-width="0.5"/>
<circle cx="468.23" cy="559.27" r="1.15" fill="#137a5a" stroke="#151520" stroke-width="0.5"/>
<circle cx="467.17" cy="558.85" r="1.15" fill="#137a5a" stroke="#151520" stroke-width="0.5"/>
<circle cx="467.76" cy="558.36" r="1.15" fill="#137a5a" stroke="#151520" stroke-width="0.5"/>
<circle cx="467.13" cy="557.80" r="1.15" fill="#137a5a" stroke="#151520" stroke-width="0.5"/>
<circle cx="468.20" cy="557.19" r="1.15" fill="#137a5a" stroke="#151520" stroke-width="0.5"/>
<circle cx="467.41" cy="556.52" r="1.15" fill="#137a5a" stroke="#151520" stroke-width="0.5"/>
<circle cx="467.72" cy="555.79" r="1.15" fill="#137a5a" stroke="#151520" stroke-width="0.5"/>
<circle cx="467.99" cy="555.02" r="1.15" fill="#137a5a" stroke="#151520" stroke-width="0.5"/>
<circle cx="468.01" cy="554.20" r="1.15" fill="#137a5a" stroke="#151520" stroke-width="0.5"/>
<circle cx="477.68" cy="560.00" r="1.15" fill="#62207a" stroke="#151520" stroke-width="0.5"/>
<circle cx="477.22" cy="559.65" r="1.15" fill="#62207a" stroke="#151520" stroke-width="0.5"/>
<circle cx="477.48" cy="558.93" r="1.15" fill="#62207a" stroke="#151520" stroke-width="0.5"/>
<circle cx="477.11" cy="557.95" r="1.15" fill="#62207a" stroke="#151520" stroke-width="0.5"/>
<circle cx="477.34" cy="556.75" r="1.15" fill="#62207a" stroke="#151520" stroke-width="0.5"/>
<circle cx="478.00" cy="555.35" r="1.15" fill="#62207a" stroke="#151520" stroke-width="0.5"/>
<circle cx="477.81" cy="553.78" r="1.15" fill="#62207a" stroke="#151520" stroke-width="0.5"/>
<circle cx="477.63" cy="552.04" r="1.15" fill="#62207a" stroke="#151520" stroke-width="0.5"/>
<circle cx="477.88" cy="550.14" r="1.15" fill="#62207a" stroke="#151520" stroke-width="0.5"/>
<circle cx="477.66" cy="548.10" r="1.15" fill="#62207a" stroke="#151520" stroke-width="0.5"/>
<line x1="375.50" y1="559.10" x2="396.40" y2="559.10" stroke="#111" stroke-width="1.0" />
<line x1="396.00" y1="550.20" x2="407.20" y2="550.20" stroke="#111" stroke-width="1.0" />
<line x1="413.80" y1="559.60" x2="434.60" y2="559.60" stroke="#111" stroke-width="1.0" />
<line x1="434.60" y1="553.20" x2="445.70" y2="553.20" stroke="#111" stroke-width="1.0" />
<line x1="452.30" y1="559.90" x2="483.80" y2="559.90" stroke="#111" stroke-width="1.0" />
<path d="M401.0,462.4 V459.4 H475.8 V462.4" fill="none" stroke="#333" stroke-width="0.8"/>
<circle cx="434.65" cy="456.10" r="0.95" fill="#333"/>
<circle cx="437.15" cy="456.10" r="0.95" fill="#333"/>
<circle cx="439.65" cy="456.10" r="0.95" fill="#333"/>
<circle cx="442.15" cy="456.10" r="0.95" fill="#333"/>
<path d="M401.0,470.0 V467.0 H439.4 V470.0" fill="none" stroke="#333" stroke-width="0.8"/>
<text x="420.2" y="465.7" font-size="6.48" text-anchor="middle" fill="#333" stroke="#333" font-weight="normal" textLength="6.34" lengthAdjust="spacingAndGlyphs" >ns</text>
<path d="M382.3,478.8 V475.8 H401.0 V478.8" fill="none" stroke="#333" stroke-width="0.8"/>
<circle cx="387.90" cy="472.50" r="0.95" fill="#333"/>
<circle cx="390.40" cy="472.50" r="0.95" fill="#333"/>
<circle cx="392.90" cy="472.50" r="0.95" fill="#333"/>
<circle cx="395.40" cy="472.50" r="0.95" fill="#333"/>
<path d="M390.4,489.3 V486.3 H401.0 V489.3" fill="none" stroke="#333" stroke-width="0.8"/>
<circle cx="391.95" cy="483.00" r="0.95" fill="#333"/>
<circle cx="394.45" cy="483.00" r="0.95" fill="#333"/>
<circle cx="396.95" cy="483.00" r="0.95" fill="#333"/>
<circle cx="399.45" cy="483.00" r="0.95" fill="#333"/>
<line x1="390.80" y1="563.30" x2="390.80" y2="566.00" stroke="#333333" stroke-width="0.8" />
<text transform="translate(381.3,581.1) rotate(-45)" font-size="6.4" text-anchor="middle" fill="#e28080" dy="2" stroke="#e28080">Myeloid-</text>
<text transform="translate(386.6,586.5) rotate(-45)" font-size="6.4" text-anchor="middle" fill="#e28080" dy="2" stroke="#e28080">bias</text>
<line x1="429.20" y1="563.30" x2="429.20" y2="566.00" stroke="#333333" stroke-width="0.8" />
<text transform="translate(417.4,581.9) rotate(-45)" font-size="6.4" text-anchor="middle" fill="#9aa5a2" dy="2" stroke="#9aa5a2">Lymphoid-</text>
<text transform="translate(423.2,587.7) rotate(-45)" font-size="6.4" text-anchor="middle" fill="#9aa5a2" dy="2" stroke="#9aa5a2">bias</text>
<line x1="467.70" y1="563.30" x2="467.70" y2="566.00" stroke="#333333" stroke-width="0.8" />
<text transform="translate(455.2,579.9) rotate(-45)" font-size="6.4" text-anchor="middle" fill="#8a93c6" dy="2" stroke="#8a93c6">Self-</text>
<text transform="translate(463.0,585.4) rotate(-45)" font-size="6.4" text-anchor="middle" fill="#8a93c6" dy="2" stroke="#8a93c6">renewing</text>
<rect x="0.5" y="0.5" width="519" height="605.8" fill="none" stroke="#444" stroke-width="1"/>
</svg></body></html>
